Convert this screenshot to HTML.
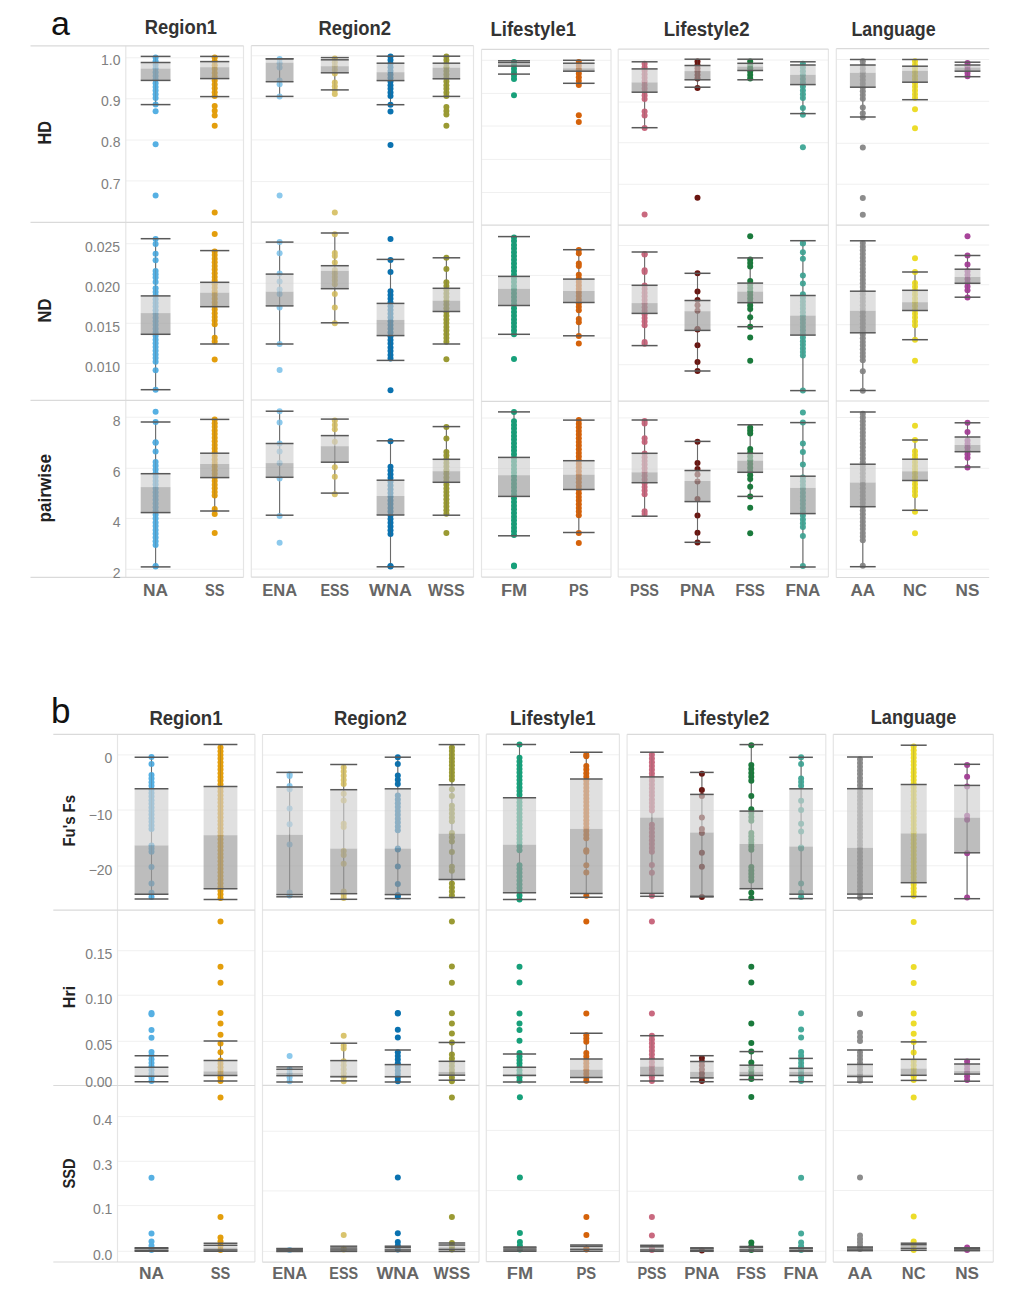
<!DOCTYPE html>
<html><head><meta charset="utf-8"><style>html,body{margin:0;padding:0;background:#fff;width:1020px;height:1308px;overflow:hidden}</style></head>
<body>
<svg width="1020" height="1308" viewBox="0 0 1020 1308" style="position:absolute;left:0;top:0">
<rect x="0" y="0" width="1020" height="1308" fill="#ffffff"/>
<line x1="125.8" y1="57.8" x2="243.5" y2="57.8" stroke="#F0F0F0" stroke-width="1"/>
<line x1="125.8" y1="98.8" x2="243.5" y2="98.8" stroke="#F0F0F0" stroke-width="1"/>
<line x1="125.8" y1="140.0" x2="243.5" y2="140.0" stroke="#F0F0F0" stroke-width="1"/>
<line x1="125.8" y1="180.9" x2="243.5" y2="180.9" stroke="#F0F0F0" stroke-width="1"/>
<line x1="251.3" y1="55.8" x2="473.5" y2="55.8" stroke="#F0F0F0" stroke-width="1"/>
<line x1="251.3" y1="98.2" x2="473.5" y2="98.2" stroke="#F0F0F0" stroke-width="1"/>
<line x1="251.3" y1="139.9" x2="473.5" y2="139.9" stroke="#F0F0F0" stroke-width="1"/>
<line x1="251.3" y1="181.6" x2="473.5" y2="181.6" stroke="#F0F0F0" stroke-width="1"/>
<line x1="481.5" y1="60.3" x2="611.0" y2="60.3" stroke="#F0F0F0" stroke-width="1"/>
<line x1="481.5" y1="93.4" x2="611.0" y2="93.4" stroke="#F0F0F0" stroke-width="1"/>
<line x1="481.5" y1="126.0" x2="611.0" y2="126.0" stroke="#F0F0F0" stroke-width="1"/>
<line x1="481.5" y1="159.4" x2="611.0" y2="159.4" stroke="#F0F0F0" stroke-width="1"/>
<line x1="481.5" y1="192.5" x2="611.0" y2="192.5" stroke="#F0F0F0" stroke-width="1"/>
<line x1="618.2" y1="60.0" x2="828.4" y2="60.0" stroke="#F0F0F0" stroke-width="1"/>
<line x1="618.2" y1="102.0" x2="828.4" y2="102.0" stroke="#F0F0F0" stroke-width="1"/>
<line x1="618.2" y1="142.7" x2="828.4" y2="142.7" stroke="#F0F0F0" stroke-width="1"/>
<line x1="618.2" y1="184.3" x2="828.4" y2="184.3" stroke="#F0F0F0" stroke-width="1"/>
<line x1="836.3" y1="59.5" x2="989.2" y2="59.5" stroke="#F0F0F0" stroke-width="1"/>
<line x1="836.3" y1="101.3" x2="989.2" y2="101.3" stroke="#F0F0F0" stroke-width="1"/>
<line x1="836.3" y1="143.3" x2="989.2" y2="143.3" stroke="#F0F0F0" stroke-width="1"/>
<line x1="836.3" y1="184.2" x2="989.2" y2="184.2" stroke="#F0F0F0" stroke-width="1"/>
<line x1="125.8" y1="243.7" x2="243.5" y2="243.7" stroke="#F0F0F0" stroke-width="1"/>
<line x1="125.8" y1="283.6" x2="243.5" y2="283.6" stroke="#F0F0F0" stroke-width="1"/>
<line x1="125.8" y1="323.3" x2="243.5" y2="323.3" stroke="#F0F0F0" stroke-width="1"/>
<line x1="125.8" y1="363.4" x2="243.5" y2="363.4" stroke="#F0F0F0" stroke-width="1"/>
<line x1="251.3" y1="243.2" x2="473.5" y2="243.2" stroke="#F0F0F0" stroke-width="1"/>
<line x1="251.3" y1="283.3" x2="473.5" y2="283.3" stroke="#F0F0F0" stroke-width="1"/>
<line x1="251.3" y1="323.7" x2="473.5" y2="323.7" stroke="#F0F0F0" stroke-width="1"/>
<line x1="251.3" y1="363.8" x2="473.5" y2="363.8" stroke="#F0F0F0" stroke-width="1"/>
<line x1="481.5" y1="275.4" x2="611.0" y2="275.4" stroke="#F0F0F0" stroke-width="1"/>
<line x1="481.5" y1="338.0" x2="611.0" y2="338.0" stroke="#F0F0F0" stroke-width="1"/>
<line x1="618.2" y1="245.5" x2="828.4" y2="245.5" stroke="#F0F0F0" stroke-width="1"/>
<line x1="618.2" y1="284.6" x2="828.4" y2="284.6" stroke="#F0F0F0" stroke-width="1"/>
<line x1="618.2" y1="324.9" x2="828.4" y2="324.9" stroke="#F0F0F0" stroke-width="1"/>
<line x1="618.2" y1="364.7" x2="828.4" y2="364.7" stroke="#F0F0F0" stroke-width="1"/>
<line x1="836.3" y1="245.0" x2="989.2" y2="245.0" stroke="#F0F0F0" stroke-width="1"/>
<line x1="836.3" y1="284.7" x2="989.2" y2="284.7" stroke="#F0F0F0" stroke-width="1"/>
<line x1="836.3" y1="324.7" x2="989.2" y2="324.7" stroke="#F0F0F0" stroke-width="1"/>
<line x1="836.3" y1="364.7" x2="989.2" y2="364.7" stroke="#F0F0F0" stroke-width="1"/>
<line x1="125.8" y1="417.2" x2="243.5" y2="417.2" stroke="#F0F0F0" stroke-width="1"/>
<line x1="125.8" y1="468.3" x2="243.5" y2="468.3" stroke="#F0F0F0" stroke-width="1"/>
<line x1="125.8" y1="518.4" x2="243.5" y2="518.4" stroke="#F0F0F0" stroke-width="1"/>
<line x1="125.8" y1="569.3" x2="243.5" y2="569.3" stroke="#F0F0F0" stroke-width="1"/>
<line x1="251.3" y1="416.9" x2="473.5" y2="416.9" stroke="#F0F0F0" stroke-width="1"/>
<line x1="251.3" y1="467.6" x2="473.5" y2="467.6" stroke="#F0F0F0" stroke-width="1"/>
<line x1="251.3" y1="518.3" x2="473.5" y2="518.3" stroke="#F0F0F0" stroke-width="1"/>
<line x1="251.3" y1="569.1" x2="473.5" y2="569.1" stroke="#F0F0F0" stroke-width="1"/>
<line x1="481.5" y1="418.0" x2="611.0" y2="418.0" stroke="#F0F0F0" stroke-width="1"/>
<line x1="481.5" y1="468.6" x2="611.0" y2="468.6" stroke="#F0F0F0" stroke-width="1"/>
<line x1="481.5" y1="518.2" x2="611.0" y2="518.2" stroke="#F0F0F0" stroke-width="1"/>
<line x1="481.5" y1="569.2" x2="611.0" y2="569.2" stroke="#F0F0F0" stroke-width="1"/>
<line x1="618.2" y1="417.9" x2="828.4" y2="417.9" stroke="#F0F0F0" stroke-width="1"/>
<line x1="618.2" y1="469.0" x2="828.4" y2="469.0" stroke="#F0F0F0" stroke-width="1"/>
<line x1="618.2" y1="518.6" x2="828.4" y2="518.6" stroke="#F0F0F0" stroke-width="1"/>
<line x1="618.2" y1="569.1" x2="828.4" y2="569.1" stroke="#F0F0F0" stroke-width="1"/>
<line x1="836.3" y1="417.5" x2="989.2" y2="417.5" stroke="#F0F0F0" stroke-width="1"/>
<line x1="836.3" y1="468.3" x2="989.2" y2="468.3" stroke="#F0F0F0" stroke-width="1"/>
<line x1="836.3" y1="518.7" x2="989.2" y2="518.7" stroke="#F0F0F0" stroke-width="1"/>
<line x1="836.3" y1="569.2" x2="989.2" y2="569.2" stroke="#F0F0F0" stroke-width="1"/>
<line x1="117.5" y1="754.9" x2="254.9" y2="754.9" stroke="#F0F0F0" stroke-width="1"/>
<line x1="117.5" y1="810.0" x2="254.9" y2="810.0" stroke="#F0F0F0" stroke-width="1"/>
<line x1="117.5" y1="866.0" x2="254.9" y2="866.0" stroke="#F0F0F0" stroke-width="1"/>
<line x1="262.5" y1="755.0" x2="479.0" y2="755.0" stroke="#F0F0F0" stroke-width="1"/>
<line x1="262.5" y1="810.7" x2="479.0" y2="810.7" stroke="#F0F0F0" stroke-width="1"/>
<line x1="262.5" y1="865.9" x2="479.0" y2="865.9" stroke="#F0F0F0" stroke-width="1"/>
<line x1="486.3" y1="754.8" x2="619.4" y2="754.8" stroke="#F0F0F0" stroke-width="1"/>
<line x1="486.3" y1="810.7" x2="619.4" y2="810.7" stroke="#F0F0F0" stroke-width="1"/>
<line x1="486.3" y1="865.9" x2="619.4" y2="865.9" stroke="#F0F0F0" stroke-width="1"/>
<line x1="627.1" y1="754.9" x2="825.8" y2="754.9" stroke="#F0F0F0" stroke-width="1"/>
<line x1="627.1" y1="810.4" x2="825.8" y2="810.4" stroke="#F0F0F0" stroke-width="1"/>
<line x1="627.1" y1="866.0" x2="825.8" y2="866.0" stroke="#F0F0F0" stroke-width="1"/>
<line x1="833.3" y1="755.0" x2="993.3" y2="755.0" stroke="#F0F0F0" stroke-width="1"/>
<line x1="833.3" y1="811.0" x2="993.3" y2="811.0" stroke="#F0F0F0" stroke-width="1"/>
<line x1="833.3" y1="865.8" x2="993.3" y2="865.8" stroke="#F0F0F0" stroke-width="1"/>
<line x1="117.5" y1="950.7" x2="254.9" y2="950.7" stroke="#F0F0F0" stroke-width="1"/>
<line x1="117.5" y1="995.2" x2="254.9" y2="995.2" stroke="#F0F0F0" stroke-width="1"/>
<line x1="117.5" y1="1041.3" x2="254.9" y2="1041.3" stroke="#F0F0F0" stroke-width="1"/>
<line x1="262.5" y1="951.2" x2="479.0" y2="951.2" stroke="#F0F0F0" stroke-width="1"/>
<line x1="262.5" y1="995.6" x2="479.0" y2="995.6" stroke="#F0F0F0" stroke-width="1"/>
<line x1="262.5" y1="1041.4" x2="479.0" y2="1041.4" stroke="#F0F0F0" stroke-width="1"/>
<line x1="486.3" y1="951.3" x2="619.4" y2="951.3" stroke="#F0F0F0" stroke-width="1"/>
<line x1="486.3" y1="995.4" x2="619.4" y2="995.4" stroke="#F0F0F0" stroke-width="1"/>
<line x1="486.3" y1="1041.5" x2="619.4" y2="1041.5" stroke="#F0F0F0" stroke-width="1"/>
<line x1="627.1" y1="951.3" x2="825.8" y2="951.3" stroke="#F0F0F0" stroke-width="1"/>
<line x1="627.1" y1="995.6" x2="825.8" y2="995.6" stroke="#F0F0F0" stroke-width="1"/>
<line x1="627.1" y1="1041.3" x2="825.8" y2="1041.3" stroke="#F0F0F0" stroke-width="1"/>
<line x1="833.3" y1="950.9" x2="993.3" y2="950.9" stroke="#F0F0F0" stroke-width="1"/>
<line x1="833.3" y1="995.6" x2="993.3" y2="995.6" stroke="#F0F0F0" stroke-width="1"/>
<line x1="833.3" y1="1041.3" x2="993.3" y2="1041.3" stroke="#F0F0F0" stroke-width="1"/>
<line x1="117.5" y1="1116.6" x2="254.9" y2="1116.6" stroke="#F0F0F0" stroke-width="1"/>
<line x1="117.5" y1="1161.3" x2="254.9" y2="1161.3" stroke="#F0F0F0" stroke-width="1"/>
<line x1="117.5" y1="1205.6" x2="254.9" y2="1205.6" stroke="#F0F0F0" stroke-width="1"/>
<line x1="117.5" y1="1251.3" x2="254.9" y2="1251.3" stroke="#F0F0F0" stroke-width="1"/>
<line x1="262.5" y1="1131.2" x2="479.0" y2="1131.2" stroke="#F0F0F0" stroke-width="1"/>
<line x1="262.5" y1="1190.9" x2="479.0" y2="1190.9" stroke="#F0F0F0" stroke-width="1"/>
<line x1="262.5" y1="1251.4" x2="479.0" y2="1251.4" stroke="#F0F0F0" stroke-width="1"/>
<line x1="486.3" y1="1130.4" x2="619.4" y2="1130.4" stroke="#F0F0F0" stroke-width="1"/>
<line x1="486.3" y1="1190.6" x2="619.4" y2="1190.6" stroke="#F0F0F0" stroke-width="1"/>
<line x1="486.3" y1="1251.5" x2="619.4" y2="1251.5" stroke="#F0F0F0" stroke-width="1"/>
<line x1="627.1" y1="1130.4" x2="825.8" y2="1130.4" stroke="#F0F0F0" stroke-width="1"/>
<line x1="627.1" y1="1191.2" x2="825.8" y2="1191.2" stroke="#F0F0F0" stroke-width="1"/>
<line x1="627.1" y1="1251.3" x2="825.8" y2="1251.3" stroke="#F0F0F0" stroke-width="1"/>
<line x1="833.3" y1="1130.6" x2="993.3" y2="1130.6" stroke="#F0F0F0" stroke-width="1"/>
<line x1="833.3" y1="1190.5" x2="993.3" y2="1190.5" stroke="#F0F0F0" stroke-width="1"/>
<line x1="833.3" y1="1250.7" x2="993.3" y2="1250.7" stroke="#F0F0F0" stroke-width="1"/>
<line x1="125.8" y1="45.8" x2="125.8" y2="577.3" stroke="#E5E5E5" stroke-width="1.2"/>
<line x1="243.5" y1="45.8" x2="243.5" y2="577.3" stroke="#E5E5E5" stroke-width="1.2"/>
<line x1="30.5" y1="45.8" x2="243.5" y2="45.8" stroke="#DADADA" stroke-width="1.2"/>
<line x1="30.5" y1="222.3" x2="243.5" y2="222.3" stroke="#DADADA" stroke-width="1.2"/>
<line x1="30.5" y1="400.3" x2="243.5" y2="400.3" stroke="#DADADA" stroke-width="1.2"/>
<line x1="30.5" y1="577.3" x2="243.5" y2="577.3" stroke="#DADADA" stroke-width="1.2"/>
<line x1="251.3" y1="45.7" x2="251.3" y2="577.2" stroke="#E5E5E5" stroke-width="1.2"/>
<line x1="473.5" y1="45.7" x2="473.5" y2="577.2" stroke="#E5E5E5" stroke-width="1.2"/>
<line x1="251.3" y1="45.7" x2="473.5" y2="45.7" stroke="#DADADA" stroke-width="1.2"/>
<line x1="251.3" y1="222.2" x2="473.5" y2="222.2" stroke="#DADADA" stroke-width="1.2"/>
<line x1="251.3" y1="400.0" x2="473.5" y2="400.0" stroke="#DADADA" stroke-width="1.2"/>
<line x1="251.3" y1="577.2" x2="473.5" y2="577.2" stroke="#DADADA" stroke-width="1.2"/>
<line x1="481.5" y1="49.4" x2="481.5" y2="577.1" stroke="#E5E5E5" stroke-width="1.2"/>
<line x1="611.0" y1="49.4" x2="611.0" y2="577.1" stroke="#E5E5E5" stroke-width="1.2"/>
<line x1="481.5" y1="49.4" x2="611.0" y2="49.4" stroke="#DADADA" stroke-width="1.2"/>
<line x1="481.5" y1="225.1" x2="611.0" y2="225.1" stroke="#DADADA" stroke-width="1.2"/>
<line x1="481.5" y1="401.3" x2="611.0" y2="401.3" stroke="#DADADA" stroke-width="1.2"/>
<line x1="481.5" y1="577.1" x2="611.0" y2="577.1" stroke="#DADADA" stroke-width="1.2"/>
<line x1="618.2" y1="49.1" x2="618.2" y2="577.0" stroke="#E5E5E5" stroke-width="1.2"/>
<line x1="828.4" y1="49.1" x2="828.4" y2="577.0" stroke="#E5E5E5" stroke-width="1.2"/>
<line x1="618.2" y1="49.1" x2="828.4" y2="49.1" stroke="#DADADA" stroke-width="1.2"/>
<line x1="618.2" y1="225.1" x2="828.4" y2="225.1" stroke="#DADADA" stroke-width="1.2"/>
<line x1="618.2" y1="401.2" x2="828.4" y2="401.2" stroke="#DADADA" stroke-width="1.2"/>
<line x1="618.2" y1="577.0" x2="828.4" y2="577.0" stroke="#DADADA" stroke-width="1.2"/>
<line x1="836.3" y1="48.7" x2="836.3" y2="577.5" stroke="#E5E5E5" stroke-width="1.2"/>
<line x1="836.3" y1="48.7" x2="989.2" y2="48.7" stroke="#DADADA" stroke-width="1.2"/>
<line x1="836.3" y1="225.1" x2="989.2" y2="225.1" stroke="#DADADA" stroke-width="1.2"/>
<line x1="836.3" y1="401.0" x2="989.2" y2="401.0" stroke="#DADADA" stroke-width="1.2"/>
<line x1="836.3" y1="577.5" x2="989.2" y2="577.5" stroke="#DADADA" stroke-width="1.2"/>
<line x1="117.5" y1="734.3" x2="117.5" y2="1262.0" stroke="#E5E5E5" stroke-width="1.2"/>
<line x1="254.9" y1="734.3" x2="254.9" y2="1262.0" stroke="#E5E5E5" stroke-width="1.2"/>
<line x1="53.3" y1="734.3" x2="254.9" y2="734.3" stroke="#DADADA" stroke-width="1.2"/>
<line x1="53.3" y1="910.2" x2="254.9" y2="910.2" stroke="#DADADA" stroke-width="1.2"/>
<line x1="53.3" y1="1085.5" x2="254.9" y2="1085.5" stroke="#DADADA" stroke-width="1.2"/>
<line x1="53.3" y1="1262.0" x2="254.9" y2="1262.0" stroke="#DADADA" stroke-width="1.2"/>
<line x1="262.5" y1="734.5" x2="262.5" y2="1262.2" stroke="#E5E5E5" stroke-width="1.2"/>
<line x1="479.0" y1="734.5" x2="479.0" y2="1262.2" stroke="#E5E5E5" stroke-width="1.2"/>
<line x1="262.5" y1="734.5" x2="479.0" y2="734.5" stroke="#DADADA" stroke-width="1.2"/>
<line x1="262.5" y1="910.0" x2="479.0" y2="910.0" stroke="#DADADA" stroke-width="1.2"/>
<line x1="262.5" y1="1085.4" x2="479.0" y2="1085.4" stroke="#DADADA" stroke-width="1.2"/>
<line x1="262.5" y1="1262.2" x2="479.0" y2="1262.2" stroke="#DADADA" stroke-width="1.2"/>
<line x1="486.3" y1="734.2" x2="486.3" y2="1261.7" stroke="#E5E5E5" stroke-width="1.2"/>
<line x1="619.4" y1="734.2" x2="619.4" y2="1261.7" stroke="#E5E5E5" stroke-width="1.2"/>
<line x1="486.3" y1="734.2" x2="619.4" y2="734.2" stroke="#DADADA" stroke-width="1.2"/>
<line x1="486.3" y1="910.0" x2="619.4" y2="910.0" stroke="#DADADA" stroke-width="1.2"/>
<line x1="486.3" y1="1085.6" x2="619.4" y2="1085.6" stroke="#DADADA" stroke-width="1.2"/>
<line x1="486.3" y1="1261.7" x2="619.4" y2="1261.7" stroke="#DADADA" stroke-width="1.2"/>
<line x1="627.1" y1="734.3" x2="627.1" y2="1262.2" stroke="#E5E5E5" stroke-width="1.2"/>
<line x1="825.8" y1="734.3" x2="825.8" y2="1262.2" stroke="#E5E5E5" stroke-width="1.2"/>
<line x1="627.1" y1="734.3" x2="825.8" y2="734.3" stroke="#DADADA" stroke-width="1.2"/>
<line x1="627.1" y1="910.0" x2="825.8" y2="910.0" stroke="#DADADA" stroke-width="1.2"/>
<line x1="627.1" y1="1085.6" x2="825.8" y2="1085.6" stroke="#DADADA" stroke-width="1.2"/>
<line x1="627.1" y1="1262.2" x2="825.8" y2="1262.2" stroke="#DADADA" stroke-width="1.2"/>
<line x1="833.3" y1="734.3" x2="833.3" y2="1262.1" stroke="#E5E5E5" stroke-width="1.2"/>
<line x1="993.3" y1="734.3" x2="993.3" y2="1262.1" stroke="#E5E5E5" stroke-width="1.2"/>
<line x1="833.3" y1="734.3" x2="993.3" y2="734.3" stroke="#DADADA" stroke-width="1.2"/>
<line x1="833.3" y1="910.3" x2="993.3" y2="910.3" stroke="#DADADA" stroke-width="1.2"/>
<line x1="833.3" y1="1085.4" x2="993.3" y2="1085.4" stroke="#DADADA" stroke-width="1.2"/>
<line x1="833.3" y1="1262.1" x2="993.3" y2="1262.1" stroke="#DADADA" stroke-width="1.2"/>
<line x1="155.6" y1="56.4" x2="155.6" y2="104.6" stroke="#595959" stroke-width="1.1" stroke-opacity="0.85"/>
<g fill="#56B0E3"><circle cx="155.6" cy="57.5" r="3.0"/><circle cx="155.6" cy="61.2" r="3.0"/><circle cx="155.6" cy="64.9" r="3.0"/><circle cx="155.6" cy="68.5" r="3.0"/><circle cx="155.6" cy="72.2" r="3.0"/><circle cx="155.6" cy="75.9" r="3.0"/><circle cx="155.6" cy="79.6" r="3.0"/><circle cx="155.6" cy="83.3" r="3.0"/><circle cx="155.6" cy="87.0" r="3.0"/><circle cx="155.6" cy="90.6" r="3.0"/><circle cx="155.6" cy="94.3" r="3.0"/><circle cx="155.6" cy="98.0" r="3.0"/><circle cx="155.6" cy="104.6" r="3.0"/><circle cx="155.6" cy="111.2" r="3.0"/><circle cx="155.6" cy="144.3" r="3.0"/><circle cx="155.6" cy="195.4" r="3.0"/></g>
<line x1="155.6" y1="56.4" x2="155.6" y2="104.6" stroke="#595959" stroke-width="1" stroke-opacity="0.28"/>
<rect x="140.7" y="62.5" width="29.8" height="6.1" fill="#D0D0D0" fill-opacity="0.66"/>
<rect x="140.7" y="68.6" width="29.8" height="11.8" fill="#9D9D9D" fill-opacity="0.675"/>
<line x1="140.7" y1="56.4" x2="170.5" y2="56.4" stroke="#595959" stroke-width="1.5"/>
<line x1="140.7" y1="62.5" x2="170.5" y2="62.5" stroke="#595959" stroke-width="1.5"/>
<line x1="140.7" y1="80.4" x2="170.5" y2="80.4" stroke="#595959" stroke-width="1.5"/>
<line x1="140.7" y1="104.6" x2="170.5" y2="104.6" stroke="#595959" stroke-width="1.5"/>
<line x1="214.7" y1="56.4" x2="214.7" y2="96.6" stroke="#595959" stroke-width="1.1" stroke-opacity="0.85"/>
<g fill="#E39E0C"><circle cx="214.7" cy="57.5" r="3.0"/><circle cx="214.7" cy="61.4" r="3.0"/><circle cx="214.7" cy="65.2" r="3.0"/><circle cx="214.7" cy="69.0" r="3.0"/><circle cx="214.7" cy="72.9" r="3.0"/><circle cx="214.7" cy="76.8" r="3.0"/><circle cx="214.7" cy="80.6" r="3.0"/><circle cx="214.7" cy="84.5" r="3.0"/><circle cx="214.7" cy="88.3" r="3.0"/><circle cx="214.7" cy="92.2" r="3.0"/><circle cx="214.7" cy="96.0" r="3.0"/><circle cx="214.7" cy="106.1" r="3.0"/><circle cx="214.7" cy="110.7" r="3.0"/><circle cx="214.7" cy="115.5" r="3.0"/><circle cx="214.7" cy="125.7" r="3.0"/><circle cx="214.7" cy="212.4" r="3.0"/></g>
<line x1="214.7" y1="56.4" x2="214.7" y2="96.6" stroke="#595959" stroke-width="1" stroke-opacity="0.28"/>
<rect x="200.1" y="61.6" width="29.2" height="5.6" fill="#D0D0D0" fill-opacity="0.66"/>
<rect x="200.1" y="67.2" width="29.2" height="11.4" fill="#9D9D9D" fill-opacity="0.675"/>
<line x1="200.1" y1="56.4" x2="229.3" y2="56.4" stroke="#595959" stroke-width="1.5"/>
<line x1="200.1" y1="61.6" x2="229.3" y2="61.6" stroke="#595959" stroke-width="1.5"/>
<line x1="200.1" y1="78.6" x2="229.3" y2="78.6" stroke="#595959" stroke-width="1.5"/>
<line x1="200.1" y1="96.6" x2="229.3" y2="96.6" stroke="#595959" stroke-width="1.5"/>
<line x1="279.6" y1="58.8" x2="279.6" y2="96.4" stroke="#595959" stroke-width="1.1" stroke-opacity="0.85"/>
<g fill="#8CC9EC"><circle cx="279.6" cy="58.9" r="3.0"/><circle cx="279.6" cy="63.2" r="3.0"/><circle cx="279.6" cy="67.6" r="3.0"/><circle cx="279.6" cy="80.5" r="3.0"/><circle cx="279.6" cy="84.3" r="3.0"/><circle cx="279.6" cy="96.4" r="3.0"/><circle cx="279.6" cy="195.6" r="3.0"/></g>
<line x1="279.6" y1="58.8" x2="279.6" y2="96.4" stroke="#595959" stroke-width="1" stroke-opacity="0.28"/>
<rect x="265.7" y="58.8" width="27.8" height="3.9" fill="#D0D0D0" fill-opacity="0.66"/>
<rect x="265.7" y="62.7" width="27.8" height="19.0" fill="#9D9D9D" fill-opacity="0.675"/>
<line x1="265.7" y1="58.8" x2="293.5" y2="58.8" stroke="#595959" stroke-width="1.5"/>
<line x1="265.7" y1="58.8" x2="293.5" y2="58.8" stroke="#595959" stroke-width="1.5"/>
<line x1="265.7" y1="81.7" x2="293.5" y2="81.7" stroke="#595959" stroke-width="1.5"/>
<line x1="265.7" y1="96.4" x2="293.5" y2="96.4" stroke="#595959" stroke-width="1.5"/>
<line x1="334.8" y1="57.6" x2="334.8" y2="89.9" stroke="#595959" stroke-width="1.1" stroke-opacity="0.85"/>
<g fill="#D9C46E"><circle cx="334.8" cy="58.4" r="3.0"/><circle cx="334.8" cy="62.2" r="3.0"/><circle cx="334.8" cy="66.0" r="3.0"/><circle cx="334.8" cy="69.7" r="3.0"/><circle cx="334.8" cy="73.5" r="3.0"/><circle cx="334.8" cy="82.4" r="3.0"/><circle cx="334.8" cy="86.3" r="3.0"/><circle cx="334.8" cy="90.1" r="3.0"/><circle cx="334.8" cy="94.0" r="3.0"/><circle cx="334.8" cy="212.5" r="3.0"/></g>
<line x1="334.8" y1="57.6" x2="334.8" y2="89.9" stroke="#595959" stroke-width="1" stroke-opacity="0.28"/>
<rect x="320.8" y="59.8" width="28.0" height="6.4" fill="#D0D0D0" fill-opacity="0.66"/>
<rect x="320.8" y="66.2" width="28.0" height="6.6" fill="#9D9D9D" fill-opacity="0.675"/>
<line x1="320.8" y1="57.6" x2="348.8" y2="57.6" stroke="#595959" stroke-width="1.5"/>
<line x1="320.8" y1="59.8" x2="348.8" y2="59.8" stroke="#595959" stroke-width="1.5"/>
<line x1="320.8" y1="72.8" x2="348.8" y2="72.8" stroke="#595959" stroke-width="1.5"/>
<line x1="320.8" y1="89.9" x2="348.8" y2="89.9" stroke="#595959" stroke-width="1.5"/>
<line x1="390.5" y1="56.2" x2="390.5" y2="104.7" stroke="#595959" stroke-width="1.1" stroke-opacity="0.85"/>
<g fill="#0A72B0"><circle cx="390.5" cy="56.5" r="3.0"/><circle cx="390.5" cy="60.1" r="3.0"/><circle cx="390.5" cy="63.7" r="3.0"/><circle cx="390.5" cy="67.3" r="3.0"/><circle cx="390.5" cy="70.9" r="3.0"/><circle cx="390.5" cy="74.5" r="3.0"/><circle cx="390.5" cy="78.0" r="3.0"/><circle cx="390.5" cy="81.6" r="3.0"/><circle cx="390.5" cy="85.2" r="3.0"/><circle cx="390.5" cy="88.8" r="3.0"/><circle cx="390.5" cy="92.4" r="3.0"/><circle cx="390.5" cy="96.0" r="3.0"/><circle cx="390.5" cy="104.7" r="3.0"/><circle cx="390.5" cy="111.5" r="3.0"/><circle cx="390.5" cy="144.9" r="3.0"/></g>
<line x1="390.5" y1="56.2" x2="390.5" y2="104.7" stroke="#595959" stroke-width="1" stroke-opacity="0.28"/>
<rect x="376.6" y="63.2" width="27.8" height="9.0" fill="#D0D0D0" fill-opacity="0.66"/>
<rect x="376.6" y="72.2" width="27.8" height="8.4" fill="#9D9D9D" fill-opacity="0.675"/>
<line x1="376.6" y1="56.2" x2="404.4" y2="56.2" stroke="#595959" stroke-width="1.5"/>
<line x1="376.6" y1="63.2" x2="404.4" y2="63.2" stroke="#595959" stroke-width="1.5"/>
<line x1="376.6" y1="80.6" x2="404.4" y2="80.6" stroke="#595959" stroke-width="1.5"/>
<line x1="376.6" y1="104.7" x2="404.4" y2="104.7" stroke="#595959" stroke-width="1.5"/>
<line x1="446.4" y1="56.2" x2="446.4" y2="96.4" stroke="#595959" stroke-width="1.1" stroke-opacity="0.85"/>
<g fill="#9A9A33"><circle cx="446.4" cy="56.5" r="3.0"/><circle cx="446.4" cy="60.1" r="3.0"/><circle cx="446.4" cy="63.7" r="3.0"/><circle cx="446.4" cy="67.3" r="3.0"/><circle cx="446.4" cy="70.9" r="3.0"/><circle cx="446.4" cy="74.5" r="3.0"/><circle cx="446.4" cy="78.0" r="3.0"/><circle cx="446.4" cy="81.6" r="3.0"/><circle cx="446.4" cy="85.2" r="3.0"/><circle cx="446.4" cy="88.8" r="3.0"/><circle cx="446.4" cy="92.4" r="3.0"/><circle cx="446.4" cy="96.0" r="3.0"/><circle cx="446.4" cy="107.0" r="3.0"/><circle cx="446.4" cy="111.0" r="3.0"/><circle cx="446.4" cy="114.4" r="3.0"/><circle cx="446.4" cy="125.7" r="3.0"/></g>
<line x1="446.4" y1="56.2" x2="446.4" y2="96.4" stroke="#595959" stroke-width="1" stroke-opacity="0.28"/>
<rect x="432.6" y="63.2" width="27.6" height="4.5" fill="#D0D0D0" fill-opacity="0.66"/>
<rect x="432.6" y="67.7" width="27.6" height="11.1" fill="#9D9D9D" fill-opacity="0.675"/>
<line x1="432.6" y1="56.2" x2="460.2" y2="56.2" stroke="#595959" stroke-width="1.5"/>
<line x1="432.6" y1="63.2" x2="460.2" y2="63.2" stroke="#595959" stroke-width="1.5"/>
<line x1="432.6" y1="78.8" x2="460.2" y2="78.8" stroke="#595959" stroke-width="1.5"/>
<line x1="432.6" y1="96.4" x2="460.2" y2="96.4" stroke="#595959" stroke-width="1.5"/>
<line x1="514.0" y1="60.8" x2="514.0" y2="74.1" stroke="#595959" stroke-width="1.1" stroke-opacity="0.85"/>
<g fill="#17A07A"><circle cx="514.0" cy="61.9" r="3.0"/><circle cx="514.0" cy="65.3" r="3.0"/><circle cx="514.0" cy="68.8" r="3.0"/><circle cx="514.0" cy="72.2" r="3.0"/><circle cx="514.0" cy="75.7" r="3.0"/><circle cx="514.0" cy="79.1" r="3.0"/><circle cx="514.0" cy="95.2" r="3.0"/></g>
<line x1="514.0" y1="60.8" x2="514.0" y2="74.1" stroke="#595959" stroke-width="1" stroke-opacity="0.28"/>
<rect x="498.0" y="62.5" width="32.0" height="1.5" fill="#D0D0D0" fill-opacity="0.66"/>
<rect x="498.0" y="64.0" width="32.0" height="2.1" fill="#9D9D9D" fill-opacity="0.675"/>
<line x1="498.0" y1="60.8" x2="530.0" y2="60.8" stroke="#595959" stroke-width="1.5"/>
<line x1="498.0" y1="62.5" x2="530.0" y2="62.5" stroke="#595959" stroke-width="1.5"/>
<line x1="498.0" y1="66.1" x2="530.0" y2="66.1" stroke="#595959" stroke-width="1.5"/>
<line x1="498.0" y1="74.1" x2="530.0" y2="74.1" stroke="#595959" stroke-width="1.5"/>
<line x1="578.8" y1="60.3" x2="578.8" y2="83.3" stroke="#595959" stroke-width="1.1" stroke-opacity="0.85"/>
<g fill="#D5620A"><circle cx="578.8" cy="61.9" r="3.0"/><circle cx="578.8" cy="65.7" r="3.0"/><circle cx="578.8" cy="69.6" r="3.0"/><circle cx="578.8" cy="73.4" r="3.0"/><circle cx="578.8" cy="77.2" r="3.0"/><circle cx="578.8" cy="81.1" r="3.0"/><circle cx="578.8" cy="84.9" r="3.0"/><circle cx="578.8" cy="115.2" r="3.0"/><circle cx="578.8" cy="122.0" r="3.0"/></g>
<line x1="578.8" y1="60.3" x2="578.8" y2="83.3" stroke="#595959" stroke-width="1" stroke-opacity="0.28"/>
<rect x="563.0" y="63.2" width="31.6" height="5.1" fill="#D0D0D0" fill-opacity="0.66"/>
<rect x="563.0" y="68.3" width="31.6" height="2.9" fill="#9D9D9D" fill-opacity="0.675"/>
<line x1="563.0" y1="60.3" x2="594.6" y2="60.3" stroke="#595959" stroke-width="1.5"/>
<line x1="563.0" y1="63.2" x2="594.6" y2="63.2" stroke="#595959" stroke-width="1.5"/>
<line x1="563.0" y1="71.2" x2="594.6" y2="71.2" stroke="#595959" stroke-width="1.5"/>
<line x1="563.0" y1="83.3" x2="594.6" y2="83.3" stroke="#595959" stroke-width="1.5"/>
<line x1="644.6" y1="61.8" x2="644.6" y2="127.7" stroke="#595959" stroke-width="1.1" stroke-opacity="0.85"/>
<g fill="#C9697F"><circle cx="644.6" cy="63.7" r="3.0"/><circle cx="644.6" cy="67.2" r="3.0"/><circle cx="644.6" cy="70.8" r="3.0"/><circle cx="644.6" cy="74.3" r="3.0"/><circle cx="644.6" cy="77.8" r="3.0"/><circle cx="644.6" cy="81.3" r="3.0"/><circle cx="644.6" cy="84.9" r="3.0"/><circle cx="644.6" cy="88.4" r="3.0"/><circle cx="644.6" cy="91.9" r="3.0"/><circle cx="644.6" cy="95.5" r="3.0"/><circle cx="644.6" cy="99.0" r="3.0"/><circle cx="644.6" cy="111.6" r="3.0"/><circle cx="644.6" cy="115.4" r="3.0"/><circle cx="644.6" cy="128.1" r="3.0"/><circle cx="644.6" cy="214.6" r="3.0"/></g>
<line x1="644.6" y1="61.8" x2="644.6" y2="127.7" stroke="#595959" stroke-width="1" stroke-opacity="0.28"/>
<rect x="631.6" y="68.9" width="26.0" height="13.5" fill="#D0D0D0" fill-opacity="0.66"/>
<rect x="631.6" y="82.4" width="26.0" height="9.8" fill="#9D9D9D" fill-opacity="0.675"/>
<line x1="631.6" y1="61.8" x2="657.6" y2="61.8" stroke="#595959" stroke-width="1.5"/>
<line x1="631.6" y1="68.9" x2="657.6" y2="68.9" stroke="#595959" stroke-width="1.5"/>
<line x1="631.6" y1="92.2" x2="657.6" y2="92.2" stroke="#595959" stroke-width="1.5"/>
<line x1="631.6" y1="127.7" x2="657.6" y2="127.7" stroke="#595959" stroke-width="1.5"/>
<line x1="697.5" y1="59.2" x2="697.5" y2="87.2" stroke="#595959" stroke-width="1.1" stroke-opacity="0.85"/>
<g fill="#6A1510"><circle cx="697.5" cy="61.5" r="3.0"/><circle cx="697.5" cy="64.9" r="3.0"/><circle cx="697.5" cy="68.3" r="3.0"/><circle cx="697.5" cy="71.6" r="3.0"/><circle cx="697.5" cy="75.0" r="3.0"/><circle cx="697.5" cy="78.4" r="3.0"/><circle cx="697.5" cy="87.9" r="3.0"/><circle cx="697.5" cy="197.8" r="3.0"/></g>
<line x1="697.5" y1="59.2" x2="697.5" y2="87.2" stroke="#595959" stroke-width="1" stroke-opacity="0.28"/>
<rect x="684.5" y="65.5" width="26.0" height="5.6" fill="#D0D0D0" fill-opacity="0.66"/>
<rect x="684.5" y="71.1" width="26.0" height="8.7" fill="#9D9D9D" fill-opacity="0.675"/>
<line x1="684.5" y1="59.2" x2="710.5" y2="59.2" stroke="#595959" stroke-width="1.5"/>
<line x1="684.5" y1="65.5" x2="710.5" y2="65.5" stroke="#595959" stroke-width="1.5"/>
<line x1="684.5" y1="79.8" x2="710.5" y2="79.8" stroke="#595959" stroke-width="1.5"/>
<line x1="684.5" y1="87.2" x2="710.5" y2="87.2" stroke="#595959" stroke-width="1.5"/>
<line x1="750.2" y1="59.2" x2="750.2" y2="79.8" stroke="#595959" stroke-width="1.1" stroke-opacity="0.85"/>
<g fill="#1A7A3C"><circle cx="750.2" cy="61.5" r="3.0"/><circle cx="750.2" cy="64.9" r="3.0"/><circle cx="750.2" cy="68.3" r="3.0"/><circle cx="750.2" cy="71.6" r="3.0"/><circle cx="750.2" cy="75.0" r="3.0"/><circle cx="750.2" cy="78.4" r="3.0"/></g>
<line x1="750.2" y1="59.2" x2="750.2" y2="79.8" stroke="#595959" stroke-width="1" stroke-opacity="0.28"/>
<rect x="737.3" y="63.3" width="25.8" height="3.3" fill="#D0D0D0" fill-opacity="0.66"/>
<rect x="737.3" y="66.6" width="25.8" height="3.9" fill="#9D9D9D" fill-opacity="0.675"/>
<line x1="737.3" y1="59.2" x2="763.1" y2="59.2" stroke="#595959" stroke-width="1.5"/>
<line x1="737.3" y1="63.3" x2="763.1" y2="63.3" stroke="#595959" stroke-width="1.5"/>
<line x1="737.3" y1="70.5" x2="763.1" y2="70.5" stroke="#595959" stroke-width="1.5"/>
<line x1="737.3" y1="79.8" x2="763.1" y2="79.8" stroke="#595959" stroke-width="1.5"/>
<line x1="802.9" y1="61.8" x2="802.9" y2="113.6" stroke="#595959" stroke-width="1.1" stroke-opacity="0.85"/>
<g fill="#47AA9A"><circle cx="802.9" cy="63.7" r="3.0"/><circle cx="802.9" cy="67.5" r="3.0"/><circle cx="802.9" cy="71.3" r="3.0"/><circle cx="802.9" cy="75.1" r="3.0"/><circle cx="802.9" cy="78.9" r="3.0"/><circle cx="802.9" cy="82.8" r="3.0"/><circle cx="802.9" cy="86.6" r="3.0"/><circle cx="802.9" cy="90.4" r="3.0"/><circle cx="802.9" cy="94.2" r="3.0"/><circle cx="802.9" cy="98.0" r="3.0"/><circle cx="802.9" cy="107.9" r="3.0"/><circle cx="802.9" cy="114.7" r="3.0"/><circle cx="802.9" cy="147.3" r="3.0"/></g>
<line x1="802.9" y1="61.8" x2="802.9" y2="113.6" stroke="#595959" stroke-width="1" stroke-opacity="0.28"/>
<rect x="790.1" y="65.0" width="25.6" height="9.8" fill="#D0D0D0" fill-opacity="0.66"/>
<rect x="790.1" y="74.8" width="25.6" height="9.8" fill="#9D9D9D" fill-opacity="0.675"/>
<line x1="790.1" y1="61.8" x2="815.7" y2="61.8" stroke="#595959" stroke-width="1.5"/>
<line x1="790.1" y1="65.0" x2="815.7" y2="65.0" stroke="#595959" stroke-width="1.5"/>
<line x1="790.1" y1="84.6" x2="815.7" y2="84.6" stroke="#595959" stroke-width="1.5"/>
<line x1="790.1" y1="113.6" x2="815.7" y2="113.6" stroke="#595959" stroke-width="1.5"/>
<line x1="862.8" y1="59.5" x2="862.8" y2="117.0" stroke="#595959" stroke-width="1.1" stroke-opacity="0.85"/>
<g fill="#8C8C8C"><circle cx="862.8" cy="61.3" r="3.0"/><circle cx="862.8" cy="65.0" r="3.0"/><circle cx="862.8" cy="68.8" r="3.0"/><circle cx="862.8" cy="72.5" r="3.0"/><circle cx="862.8" cy="76.3" r="3.0"/><circle cx="862.8" cy="80.0" r="3.0"/><circle cx="862.8" cy="83.7" r="3.0"/><circle cx="862.8" cy="87.5" r="3.0"/><circle cx="862.8" cy="91.2" r="3.0"/><circle cx="862.8" cy="95.0" r="3.0"/><circle cx="862.8" cy="98.7" r="3.0"/><circle cx="862.8" cy="107.5" r="3.0"/><circle cx="862.8" cy="113.3" r="3.0"/><circle cx="862.8" cy="117.5" r="3.0"/><circle cx="862.8" cy="147.5" r="3.0"/><circle cx="862.8" cy="198.0" r="3.0"/><circle cx="862.8" cy="214.7" r="3.0"/></g>
<line x1="862.8" y1="59.5" x2="862.8" y2="117.0" stroke="#595959" stroke-width="1" stroke-opacity="0.28"/>
<rect x="849.9" y="65.0" width="25.8" height="7.8" fill="#D0D0D0" fill-opacity="0.66"/>
<rect x="849.9" y="72.8" width="25.8" height="14.4" fill="#9D9D9D" fill-opacity="0.675"/>
<line x1="849.9" y1="59.5" x2="875.7" y2="59.5" stroke="#595959" stroke-width="1.5"/>
<line x1="849.9" y1="65.0" x2="875.7" y2="65.0" stroke="#595959" stroke-width="1.5"/>
<line x1="849.9" y1="87.2" x2="875.7" y2="87.2" stroke="#595959" stroke-width="1.5"/>
<line x1="849.9" y1="117.0" x2="875.7" y2="117.0" stroke="#595959" stroke-width="1.5"/>
<line x1="915.0" y1="59.5" x2="915.0" y2="99.7" stroke="#595959" stroke-width="1.1" stroke-opacity="0.85"/>
<g fill="#ECDC2A"><circle cx="915.0" cy="61.3" r="3.0"/><circle cx="915.0" cy="65.0" r="3.0"/><circle cx="915.0" cy="68.6" r="3.0"/><circle cx="915.0" cy="72.2" r="3.0"/><circle cx="915.0" cy="75.9" r="3.0"/><circle cx="915.0" cy="79.5" r="3.0"/><circle cx="915.0" cy="83.2" r="3.0"/><circle cx="915.0" cy="86.8" r="3.0"/><circle cx="915.0" cy="90.5" r="3.0"/><circle cx="915.0" cy="94.2" r="3.0"/><circle cx="915.0" cy="97.8" r="3.0"/><circle cx="915.0" cy="109.2" r="3.0"/><circle cx="915.0" cy="128.3" r="3.0"/></g>
<line x1="915.0" y1="59.5" x2="915.0" y2="99.7" stroke="#595959" stroke-width="1" stroke-opacity="0.28"/>
<rect x="902.1" y="66.2" width="25.8" height="4.6" fill="#D0D0D0" fill-opacity="0.66"/>
<rect x="902.1" y="70.8" width="25.8" height="11.4" fill="#9D9D9D" fill-opacity="0.675"/>
<line x1="902.1" y1="59.5" x2="927.9" y2="59.5" stroke="#595959" stroke-width="1.5"/>
<line x1="902.1" y1="66.2" x2="927.9" y2="66.2" stroke="#595959" stroke-width="1.5"/>
<line x1="902.1" y1="82.2" x2="927.9" y2="82.2" stroke="#595959" stroke-width="1.5"/>
<line x1="902.1" y1="99.7" x2="927.9" y2="99.7" stroke="#595959" stroke-width="1.5"/>
<line x1="967.5" y1="62.2" x2="967.5" y2="76.7" stroke="#595959" stroke-width="1.1" stroke-opacity="0.85"/>
<g fill="#A8449A"><circle cx="967.5" cy="63.0" r="3.0"/><circle cx="967.5" cy="66.3" r="3.0"/><circle cx="967.5" cy="69.6" r="3.0"/><circle cx="967.5" cy="72.9" r="3.0"/><circle cx="967.5" cy="76.2" r="3.0"/></g>
<line x1="967.5" y1="62.2" x2="967.5" y2="76.7" stroke="#595959" stroke-width="1" stroke-opacity="0.28"/>
<rect x="954.6" y="65.0" width="25.8" height="2.5" fill="#D0D0D0" fill-opacity="0.66"/>
<rect x="954.6" y="67.5" width="25.8" height="3.7" fill="#9D9D9D" fill-opacity="0.675"/>
<line x1="954.6" y1="62.2" x2="980.4" y2="62.2" stroke="#595959" stroke-width="1.5"/>
<line x1="954.6" y1="65.0" x2="980.4" y2="65.0" stroke="#595959" stroke-width="1.5"/>
<line x1="954.6" y1="71.2" x2="980.4" y2="71.2" stroke="#595959" stroke-width="1.5"/>
<line x1="954.6" y1="76.7" x2="980.4" y2="76.7" stroke="#595959" stroke-width="1.5"/>
<line x1="155.6" y1="238.7" x2="155.6" y2="389.7" stroke="#595959" stroke-width="1.1" stroke-opacity="0.85"/>
<g fill="#56B0E3"><circle cx="155.6" cy="239.0" r="3.0"/><circle cx="155.6" cy="244.0" r="3.0"/><circle cx="155.6" cy="253.8" r="3.0"/><circle cx="155.6" cy="260.3" r="3.0"/><circle cx="155.6" cy="271.0" r="3.0"/><circle cx="155.6" cy="274.3" r="3.0"/><circle cx="155.6" cy="277.6" r="3.0"/><circle cx="155.6" cy="281.9" r="3.0"/><circle cx="155.6" cy="288.3" r="3.0"/><circle cx="155.6" cy="292.0" r="3.0"/><circle cx="155.6" cy="295.6" r="3.0"/><circle cx="155.6" cy="299.3" r="3.0"/><circle cx="155.6" cy="303.0" r="3.0"/><circle cx="155.6" cy="306.6" r="3.0"/><circle cx="155.6" cy="310.3" r="3.0"/><circle cx="155.6" cy="314.0" r="3.0"/><circle cx="155.6" cy="317.7" r="3.0"/><circle cx="155.6" cy="321.3" r="3.0"/><circle cx="155.6" cy="325.0" r="3.0"/><circle cx="155.6" cy="328.7" r="3.0"/><circle cx="155.6" cy="332.3" r="3.0"/><circle cx="155.6" cy="336.0" r="3.0"/><circle cx="155.6" cy="339.7" r="3.0"/><circle cx="155.6" cy="343.3" r="3.0"/><circle cx="155.6" cy="347.0" r="3.0"/><circle cx="155.6" cy="350.7" r="3.0"/><circle cx="155.6" cy="354.4" r="3.0"/><circle cx="155.6" cy="358.0" r="3.0"/><circle cx="155.6" cy="361.7" r="3.0"/><circle cx="155.6" cy="370.3" r="3.0"/><circle cx="155.6" cy="389.7" r="3.0"/></g>
<line x1="155.6" y1="238.7" x2="155.6" y2="389.7" stroke="#595959" stroke-width="1" stroke-opacity="0.28"/>
<rect x="140.7" y="295.9" width="29.8" height="17.2" fill="#D0D0D0" fill-opacity="0.66"/>
<rect x="140.7" y="313.1" width="29.8" height="21.2" fill="#9D9D9D" fill-opacity="0.675"/>
<line x1="140.7" y1="238.7" x2="170.5" y2="238.7" stroke="#595959" stroke-width="1.5"/>
<line x1="140.7" y1="295.9" x2="170.5" y2="295.9" stroke="#595959" stroke-width="1.5"/>
<line x1="140.7" y1="334.3" x2="170.5" y2="334.3" stroke="#595959" stroke-width="1.5"/>
<line x1="140.7" y1="389.7" x2="170.5" y2="389.7" stroke="#595959" stroke-width="1.5"/>
<line x1="214.7" y1="250.6" x2="214.7" y2="344.0" stroke="#595959" stroke-width="1.1" stroke-opacity="0.85"/>
<g fill="#E39E0C"><circle cx="214.7" cy="234.0" r="3.0"/><circle cx="214.7" cy="251.4" r="3.0"/><circle cx="214.7" cy="255.0" r="3.0"/><circle cx="214.7" cy="258.7" r="3.0"/><circle cx="214.7" cy="262.3" r="3.0"/><circle cx="214.7" cy="266.0" r="3.0"/><circle cx="214.7" cy="269.6" r="3.0"/><circle cx="214.7" cy="273.2" r="3.0"/><circle cx="214.7" cy="276.9" r="3.0"/><circle cx="214.7" cy="280.5" r="3.0"/><circle cx="214.7" cy="284.2" r="3.0"/><circle cx="214.7" cy="287.8" r="3.0"/><circle cx="214.7" cy="291.4" r="3.0"/><circle cx="214.7" cy="295.1" r="3.0"/><circle cx="214.7" cy="298.7" r="3.0"/><circle cx="214.7" cy="302.4" r="3.0"/><circle cx="214.7" cy="306.0" r="3.0"/><circle cx="214.7" cy="309.6" r="3.0"/><circle cx="214.7" cy="313.3" r="3.0"/><circle cx="214.7" cy="316.9" r="3.0"/><circle cx="214.7" cy="320.6" r="3.0"/><circle cx="214.7" cy="324.2" r="3.0"/><circle cx="214.7" cy="337.7" r="3.0"/><circle cx="214.7" cy="341.4" r="3.0"/><circle cx="214.7" cy="359.5" r="3.0"/></g>
<line x1="214.7" y1="250.6" x2="214.7" y2="344.0" stroke="#595959" stroke-width="1" stroke-opacity="0.28"/>
<rect x="200.1" y="282.3" width="29.2" height="10.4" fill="#D0D0D0" fill-opacity="0.66"/>
<rect x="200.1" y="292.7" width="29.2" height="14.0" fill="#9D9D9D" fill-opacity="0.675"/>
<line x1="200.1" y1="250.6" x2="229.3" y2="250.6" stroke="#595959" stroke-width="1.5"/>
<line x1="200.1" y1="282.3" x2="229.3" y2="282.3" stroke="#595959" stroke-width="1.5"/>
<line x1="200.1" y1="306.7" x2="229.3" y2="306.7" stroke="#595959" stroke-width="1.5"/>
<line x1="200.1" y1="344.0" x2="229.3" y2="344.0" stroke="#595959" stroke-width="1.5"/>
<line x1="279.6" y1="242.1" x2="279.6" y2="344.0" stroke="#595959" stroke-width="1.1" stroke-opacity="0.85"/>
<g fill="#8CC9EC"><circle cx="279.6" cy="242.1" r="3.0"/><circle cx="279.6" cy="253.3" r="3.0"/><circle cx="279.6" cy="273.6" r="3.0"/><circle cx="279.6" cy="281.5" r="3.0"/><circle cx="279.6" cy="289.4" r="3.0"/><circle cx="279.6" cy="293.9" r="3.0"/><circle cx="279.6" cy="307.5" r="3.0"/><circle cx="279.6" cy="344.0" r="3.0"/><circle cx="279.6" cy="370.1" r="3.0"/></g>
<line x1="279.6" y1="242.1" x2="279.6" y2="344.0" stroke="#595959" stroke-width="1" stroke-opacity="0.28"/>
<rect x="265.7" y="274.1" width="27.8" height="17.6" fill="#D0D0D0" fill-opacity="0.66"/>
<rect x="265.7" y="291.7" width="27.8" height="14.2" fill="#9D9D9D" fill-opacity="0.675"/>
<line x1="265.7" y1="242.1" x2="293.5" y2="242.1" stroke="#595959" stroke-width="1.5"/>
<line x1="265.7" y1="274.1" x2="293.5" y2="274.1" stroke="#595959" stroke-width="1.5"/>
<line x1="265.7" y1="305.9" x2="293.5" y2="305.9" stroke="#595959" stroke-width="1.5"/>
<line x1="265.7" y1="344.0" x2="293.5" y2="344.0" stroke="#595959" stroke-width="1.5"/>
<line x1="334.8" y1="233.0" x2="334.8" y2="322.8" stroke="#595959" stroke-width="1.1" stroke-opacity="0.85"/>
<g fill="#D9C46E"><circle cx="334.8" cy="234.2" r="3.0"/><circle cx="334.8" cy="253.0" r="3.0"/><circle cx="334.8" cy="256.0" r="3.0"/><circle cx="334.8" cy="262.4" r="3.0"/><circle cx="334.8" cy="269.9" r="3.0"/><circle cx="334.8" cy="273.5" r="3.0"/><circle cx="334.8" cy="277.0" r="3.0"/><circle cx="334.8" cy="280.6" r="3.0"/><circle cx="334.8" cy="284.2" r="3.0"/><circle cx="334.8" cy="293.9" r="3.0"/><circle cx="334.8" cy="307.4" r="3.0"/><circle cx="334.8" cy="323.2" r="3.0"/></g>
<line x1="334.8" y1="233.0" x2="334.8" y2="322.8" stroke="#595959" stroke-width="1" stroke-opacity="0.28"/>
<rect x="320.8" y="265.7" width="28.0" height="5.2" fill="#D0D0D0" fill-opacity="0.66"/>
<rect x="320.8" y="270.9" width="28.0" height="17.8" fill="#9D9D9D" fill-opacity="0.675"/>
<line x1="320.8" y1="233.0" x2="348.8" y2="233.0" stroke="#595959" stroke-width="1.5"/>
<line x1="320.8" y1="265.7" x2="348.8" y2="265.7" stroke="#595959" stroke-width="1.5"/>
<line x1="320.8" y1="288.7" x2="348.8" y2="288.7" stroke="#595959" stroke-width="1.5"/>
<line x1="320.8" y1="322.8" x2="348.8" y2="322.8" stroke="#595959" stroke-width="1.5"/>
<line x1="390.5" y1="259.4" x2="390.5" y2="360.4" stroke="#595959" stroke-width="1.1" stroke-opacity="0.85"/>
<g fill="#0A72B0"><circle cx="390.5" cy="239.1" r="3.0"/><circle cx="390.5" cy="260.1" r="3.0"/><circle cx="390.5" cy="272.0" r="3.0"/><circle cx="390.5" cy="291.3" r="3.0"/><circle cx="390.5" cy="295.0" r="3.0"/><circle cx="390.5" cy="298.8" r="3.0"/><circle cx="390.5" cy="302.5" r="3.0"/><circle cx="390.5" cy="306.3" r="3.0"/><circle cx="390.5" cy="310.0" r="3.0"/><circle cx="390.5" cy="313.7" r="3.0"/><circle cx="390.5" cy="317.5" r="3.0"/><circle cx="390.5" cy="321.2" r="3.0"/><circle cx="390.5" cy="325.0" r="3.0"/><circle cx="390.5" cy="328.7" r="3.0"/><circle cx="390.5" cy="332.4" r="3.0"/><circle cx="390.5" cy="336.2" r="3.0"/><circle cx="390.5" cy="339.9" r="3.0"/><circle cx="390.5" cy="343.6" r="3.0"/><circle cx="390.5" cy="347.4" r="3.0"/><circle cx="390.5" cy="351.1" r="3.0"/><circle cx="390.5" cy="354.9" r="3.0"/><circle cx="390.5" cy="358.6" r="3.0"/><circle cx="390.5" cy="390.2" r="3.0"/></g>
<line x1="390.5" y1="259.4" x2="390.5" y2="360.4" stroke="#595959" stroke-width="1" stroke-opacity="0.28"/>
<rect x="376.6" y="303.4" width="27.8" height="16.5" fill="#D0D0D0" fill-opacity="0.66"/>
<rect x="376.6" y="319.9" width="27.8" height="15.7" fill="#9D9D9D" fill-opacity="0.675"/>
<line x1="376.6" y1="259.4" x2="404.4" y2="259.4" stroke="#595959" stroke-width="1.5"/>
<line x1="376.6" y1="303.4" x2="404.4" y2="303.4" stroke="#595959" stroke-width="1.5"/>
<line x1="376.6" y1="335.6" x2="404.4" y2="335.6" stroke="#595959" stroke-width="1.5"/>
<line x1="376.6" y1="360.4" x2="404.4" y2="360.4" stroke="#595959" stroke-width="1.5"/>
<line x1="446.4" y1="257.8" x2="446.4" y2="344.0" stroke="#595959" stroke-width="1.1" stroke-opacity="0.85"/>
<g fill="#9A9A33"><circle cx="446.4" cy="257.8" r="3.0"/><circle cx="446.4" cy="269.1" r="3.0"/><circle cx="446.4" cy="282.3" r="3.0"/><circle cx="446.4" cy="286.0" r="3.0"/><circle cx="446.4" cy="289.7" r="3.0"/><circle cx="446.4" cy="293.4" r="3.0"/><circle cx="446.4" cy="297.1" r="3.0"/><circle cx="446.4" cy="300.9" r="3.0"/><circle cx="446.4" cy="304.6" r="3.0"/><circle cx="446.4" cy="308.3" r="3.0"/><circle cx="446.4" cy="312.0" r="3.0"/><circle cx="446.4" cy="315.7" r="3.0"/><circle cx="446.4" cy="319.4" r="3.0"/><circle cx="446.4" cy="323.1" r="3.0"/><circle cx="446.4" cy="326.9" r="3.0"/><circle cx="446.4" cy="330.6" r="3.0"/><circle cx="446.4" cy="334.3" r="3.0"/><circle cx="446.4" cy="338.0" r="3.0"/><circle cx="446.4" cy="341.7" r="3.0"/><circle cx="446.4" cy="359.3" r="3.0"/></g>
<line x1="446.4" y1="257.8" x2="446.4" y2="344.0" stroke="#595959" stroke-width="1" stroke-opacity="0.28"/>
<rect x="432.6" y="288.3" width="27.6" height="12.4" fill="#D0D0D0" fill-opacity="0.66"/>
<rect x="432.6" y="300.7" width="27.6" height="10.8" fill="#9D9D9D" fill-opacity="0.675"/>
<line x1="432.6" y1="257.8" x2="460.2" y2="257.8" stroke="#595959" stroke-width="1.5"/>
<line x1="432.6" y1="288.3" x2="460.2" y2="288.3" stroke="#595959" stroke-width="1.5"/>
<line x1="432.6" y1="311.5" x2="460.2" y2="311.5" stroke="#595959" stroke-width="1.5"/>
<line x1="432.6" y1="344.0" x2="460.2" y2="344.0" stroke="#595959" stroke-width="1.5"/>
<line x1="514.0" y1="236.6" x2="514.0" y2="334.3" stroke="#595959" stroke-width="1.1" stroke-opacity="0.85"/>
<g fill="#17A07A"><circle cx="514.0" cy="237.4" r="3.0"/><circle cx="514.0" cy="241.1" r="3.0"/><circle cx="514.0" cy="244.9" r="3.0"/><circle cx="514.0" cy="248.6" r="3.0"/><circle cx="514.0" cy="252.3" r="3.0"/><circle cx="514.0" cy="256.0" r="3.0"/><circle cx="514.0" cy="259.8" r="3.0"/><circle cx="514.0" cy="263.5" r="3.0"/><circle cx="514.0" cy="267.2" r="3.0"/><circle cx="514.0" cy="270.9" r="3.0"/><circle cx="514.0" cy="274.7" r="3.0"/><circle cx="514.0" cy="278.4" r="3.0"/><circle cx="514.0" cy="282.1" r="3.0"/><circle cx="514.0" cy="285.9" r="3.0"/><circle cx="514.0" cy="289.6" r="3.0"/><circle cx="514.0" cy="293.3" r="3.0"/><circle cx="514.0" cy="297.0" r="3.0"/><circle cx="514.0" cy="300.8" r="3.0"/><circle cx="514.0" cy="304.5" r="3.0"/><circle cx="514.0" cy="308.2" r="3.0"/><circle cx="514.0" cy="311.9" r="3.0"/><circle cx="514.0" cy="315.7" r="3.0"/><circle cx="514.0" cy="319.4" r="3.0"/><circle cx="514.0" cy="323.1" r="3.0"/><circle cx="514.0" cy="326.8" r="3.0"/><circle cx="514.0" cy="330.6" r="3.0"/><circle cx="514.0" cy="334.3" r="3.0"/><circle cx="514.0" cy="358.9" r="3.0"/></g>
<line x1="514.0" y1="236.6" x2="514.0" y2="334.3" stroke="#595959" stroke-width="1" stroke-opacity="0.28"/>
<rect x="498.0" y="276.4" width="32.0" height="12.4" fill="#D0D0D0" fill-opacity="0.66"/>
<rect x="498.0" y="288.8" width="32.0" height="16.7" fill="#9D9D9D" fill-opacity="0.675"/>
<line x1="498.0" y1="236.6" x2="530.0" y2="236.6" stroke="#595959" stroke-width="1.5"/>
<line x1="498.0" y1="276.4" x2="530.0" y2="276.4" stroke="#595959" stroke-width="1.5"/>
<line x1="498.0" y1="305.5" x2="530.0" y2="305.5" stroke="#595959" stroke-width="1.5"/>
<line x1="498.0" y1="334.3" x2="530.0" y2="334.3" stroke="#595959" stroke-width="1.5"/>
<line x1="578.8" y1="249.7" x2="578.8" y2="335.8" stroke="#595959" stroke-width="1.1" stroke-opacity="0.85"/>
<g fill="#D5620A"><circle cx="578.8" cy="250.0" r="3.0"/><circle cx="578.8" cy="253.4" r="3.0"/><circle cx="578.8" cy="263.5" r="3.0"/><circle cx="578.8" cy="266.1" r="3.0"/><circle cx="578.8" cy="274.8" r="3.0"/><circle cx="578.8" cy="278.4" r="3.0"/><circle cx="578.8" cy="281.9" r="3.0"/><circle cx="578.8" cy="285.4" r="3.0"/><circle cx="578.8" cy="289.0" r="3.0"/><circle cx="578.8" cy="292.6" r="3.0"/><circle cx="578.8" cy="296.1" r="3.0"/><circle cx="578.8" cy="299.7" r="3.0"/><circle cx="578.8" cy="303.2" r="3.0"/><circle cx="578.8" cy="306.8" r="3.0"/><circle cx="578.8" cy="310.3" r="3.0"/><circle cx="578.8" cy="319.0" r="3.0"/><circle cx="578.8" cy="322.3" r="3.0"/><circle cx="578.8" cy="336.0" r="3.0"/><circle cx="578.8" cy="343.4" r="3.0"/></g>
<line x1="578.8" y1="249.7" x2="578.8" y2="335.8" stroke="#595959" stroke-width="1" stroke-opacity="0.28"/>
<rect x="563.0" y="279.1" width="31.6" height="11.9" fill="#D0D0D0" fill-opacity="0.66"/>
<rect x="563.0" y="291.0" width="31.6" height="11.5" fill="#9D9D9D" fill-opacity="0.675"/>
<line x1="563.0" y1="249.7" x2="594.6" y2="249.7" stroke="#595959" stroke-width="1.5"/>
<line x1="563.0" y1="279.1" x2="594.6" y2="279.1" stroke="#595959" stroke-width="1.5"/>
<line x1="563.0" y1="302.5" x2="594.6" y2="302.5" stroke="#595959" stroke-width="1.5"/>
<line x1="563.0" y1="335.8" x2="594.6" y2="335.8" stroke="#595959" stroke-width="1.5"/>
<line x1="644.6" y1="252.0" x2="644.6" y2="345.6" stroke="#595959" stroke-width="1.1" stroke-opacity="0.85"/>
<g fill="#C9697F"><circle cx="644.6" cy="253.9" r="3.0"/><circle cx="644.6" cy="254.4" r="3.0"/><circle cx="644.6" cy="270.2" r="3.0"/><circle cx="644.6" cy="271.9" r="3.0"/><circle cx="644.6" cy="285.5" r="3.0"/><circle cx="644.6" cy="289.1" r="3.0"/><circle cx="644.6" cy="292.7" r="3.0"/><circle cx="644.6" cy="296.3" r="3.0"/><circle cx="644.6" cy="299.9" r="3.0"/><circle cx="644.6" cy="303.5" r="3.0"/><circle cx="644.6" cy="307.2" r="3.0"/><circle cx="644.6" cy="310.8" r="3.0"/><circle cx="644.6" cy="314.4" r="3.0"/><circle cx="644.6" cy="318.0" r="3.0"/><circle cx="644.6" cy="321.6" r="3.0"/><circle cx="644.6" cy="325.2" r="3.0"/><circle cx="644.6" cy="342.0" r="3.0"/><circle cx="644.6" cy="343.7" r="3.0"/></g>
<line x1="644.6" y1="252.0" x2="644.6" y2="345.6" stroke="#595959" stroke-width="1" stroke-opacity="0.28"/>
<rect x="631.6" y="285.3" width="26.0" height="17.8" fill="#D0D0D0" fill-opacity="0.66"/>
<rect x="631.6" y="303.1" width="26.0" height="10.3" fill="#9D9D9D" fill-opacity="0.675"/>
<line x1="631.6" y1="252.0" x2="657.6" y2="252.0" stroke="#595959" stroke-width="1.5"/>
<line x1="631.6" y1="285.3" x2="657.6" y2="285.3" stroke="#595959" stroke-width="1.5"/>
<line x1="631.6" y1="313.4" x2="657.6" y2="313.4" stroke="#595959" stroke-width="1.5"/>
<line x1="631.6" y1="345.6" x2="657.6" y2="345.6" stroke="#595959" stroke-width="1.5"/>
<line x1="697.5" y1="273.3" x2="697.5" y2="371.0" stroke="#595959" stroke-width="1.1" stroke-opacity="0.85"/>
<g fill="#6A1510"><circle cx="697.5" cy="273.3" r="3.0"/><circle cx="697.5" cy="291.6" r="3.0"/><circle cx="697.5" cy="299.9" r="3.0"/><circle cx="697.5" cy="305.3" r="3.0"/><circle cx="697.5" cy="310.8" r="3.0"/><circle cx="697.5" cy="329.0" r="3.0"/><circle cx="697.5" cy="329.5" r="3.0"/><circle cx="697.5" cy="345.2" r="3.0"/><circle cx="697.5" cy="361.9" r="3.0"/><circle cx="697.5" cy="371.0" r="3.0"/></g>
<line x1="697.5" y1="273.3" x2="697.5" y2="371.0" stroke="#595959" stroke-width="1" stroke-opacity="0.28"/>
<rect x="684.5" y="300.5" width="26.0" height="10.7" fill="#D0D0D0" fill-opacity="0.66"/>
<rect x="684.5" y="311.2" width="26.0" height="19.2" fill="#9D9D9D" fill-opacity="0.675"/>
<line x1="684.5" y1="273.3" x2="710.5" y2="273.3" stroke="#595959" stroke-width="1.5"/>
<line x1="684.5" y1="300.5" x2="710.5" y2="300.5" stroke="#595959" stroke-width="1.5"/>
<line x1="684.5" y1="330.4" x2="710.5" y2="330.4" stroke="#595959" stroke-width="1.5"/>
<line x1="684.5" y1="371.0" x2="710.5" y2="371.0" stroke="#595959" stroke-width="1.5"/>
<line x1="750.2" y1="257.9" x2="750.2" y2="326.7" stroke="#595959" stroke-width="1.1" stroke-opacity="0.85"/>
<g fill="#1A7A3C"><circle cx="750.2" cy="236.3" r="3.0"/><circle cx="750.2" cy="259.4" r="3.0"/><circle cx="750.2" cy="262.9" r="3.0"/><circle cx="750.2" cy="266.4" r="3.0"/><circle cx="750.2" cy="281.1" r="3.0"/><circle cx="750.2" cy="284.6" r="3.0"/><circle cx="750.2" cy="288.1" r="3.0"/><circle cx="750.2" cy="291.5" r="3.0"/><circle cx="750.2" cy="295.0" r="3.0"/><circle cx="750.2" cy="298.5" r="3.0"/><circle cx="750.2" cy="301.9" r="3.0"/><circle cx="750.2" cy="305.4" r="3.0"/><circle cx="750.2" cy="308.9" r="3.0"/><circle cx="750.2" cy="317.3" r="3.0"/><circle cx="750.2" cy="326.7" r="3.0"/><circle cx="750.2" cy="337.5" r="3.0"/><circle cx="750.2" cy="360.8" r="3.0"/></g>
<line x1="750.2" y1="257.9" x2="750.2" y2="326.7" stroke="#595959" stroke-width="1" stroke-opacity="0.28"/>
<rect x="737.3" y="283.1" width="25.8" height="8.5" fill="#D0D0D0" fill-opacity="0.66"/>
<rect x="737.3" y="291.6" width="25.8" height="11.1" fill="#9D9D9D" fill-opacity="0.675"/>
<line x1="737.3" y1="257.9" x2="763.1" y2="257.9" stroke="#595959" stroke-width="1.5"/>
<line x1="737.3" y1="283.1" x2="763.1" y2="283.1" stroke="#595959" stroke-width="1.5"/>
<line x1="737.3" y1="302.7" x2="763.1" y2="302.7" stroke="#595959" stroke-width="1.5"/>
<line x1="737.3" y1="326.7" x2="763.1" y2="326.7" stroke="#595959" stroke-width="1.5"/>
<line x1="802.9" y1="240.7" x2="802.9" y2="390.6" stroke="#595959" stroke-width="1.1" stroke-opacity="0.85"/>
<g fill="#47AA9A"><circle cx="802.9" cy="243.0" r="3.0"/><circle cx="802.9" cy="243.6" r="3.0"/><circle cx="802.9" cy="252.3" r="3.0"/><circle cx="802.9" cy="258.8" r="3.0"/><circle cx="802.9" cy="275.4" r="3.0"/><circle cx="802.9" cy="283.5" r="3.0"/><circle cx="802.9" cy="294.2" r="3.0"/><circle cx="802.9" cy="297.8" r="3.0"/><circle cx="802.9" cy="301.4" r="3.0"/><circle cx="802.9" cy="305.0" r="3.0"/><circle cx="802.9" cy="308.6" r="3.0"/><circle cx="802.9" cy="312.3" r="3.0"/><circle cx="802.9" cy="315.9" r="3.0"/><circle cx="802.9" cy="319.5" r="3.0"/><circle cx="802.9" cy="323.1" r="3.0"/><circle cx="802.9" cy="326.7" r="3.0"/><circle cx="802.9" cy="330.3" r="3.0"/><circle cx="802.9" cy="333.9" r="3.0"/><circle cx="802.9" cy="337.5" r="3.0"/><circle cx="802.9" cy="341.2" r="3.0"/><circle cx="802.9" cy="344.8" r="3.0"/><circle cx="802.9" cy="348.4" r="3.0"/><circle cx="802.9" cy="352.0" r="3.0"/><circle cx="802.9" cy="355.6" r="3.0"/><circle cx="802.9" cy="390.6" r="3.0"/></g>
<line x1="802.9" y1="240.7" x2="802.9" y2="390.6" stroke="#595959" stroke-width="1" stroke-opacity="0.28"/>
<rect x="790.1" y="295.5" width="25.6" height="20.1" fill="#D0D0D0" fill-opacity="0.66"/>
<rect x="790.1" y="315.6" width="25.6" height="19.5" fill="#9D9D9D" fill-opacity="0.675"/>
<line x1="790.1" y1="240.7" x2="815.7" y2="240.7" stroke="#595959" stroke-width="1.5"/>
<line x1="790.1" y1="295.5" x2="815.7" y2="295.5" stroke="#595959" stroke-width="1.5"/>
<line x1="790.1" y1="335.1" x2="815.7" y2="335.1" stroke="#595959" stroke-width="1.5"/>
<line x1="790.1" y1="390.6" x2="815.7" y2="390.6" stroke="#595959" stroke-width="1.5"/>
<line x1="862.8" y1="240.8" x2="862.8" y2="390.5" stroke="#595959" stroke-width="1.1" stroke-opacity="0.85"/>
<g fill="#8C8C8C"><circle cx="862.8" cy="243.0" r="3.0"/><circle cx="862.8" cy="246.7" r="3.0"/><circle cx="862.8" cy="250.3" r="3.0"/><circle cx="862.8" cy="254.0" r="3.0"/><circle cx="862.8" cy="257.7" r="3.0"/><circle cx="862.8" cy="261.3" r="3.0"/><circle cx="862.8" cy="265.0" r="3.0"/><circle cx="862.8" cy="268.7" r="3.0"/><circle cx="862.8" cy="272.3" r="3.0"/><circle cx="862.8" cy="276.0" r="3.0"/><circle cx="862.8" cy="279.7" r="3.0"/><circle cx="862.8" cy="283.3" r="3.0"/><circle cx="862.8" cy="287.0" r="3.0"/><circle cx="862.8" cy="290.7" r="3.0"/><circle cx="862.8" cy="294.3" r="3.0"/><circle cx="862.8" cy="298.0" r="3.0"/><circle cx="862.8" cy="301.6" r="3.0"/><circle cx="862.8" cy="305.3" r="3.0"/><circle cx="862.8" cy="309.0" r="3.0"/><circle cx="862.8" cy="312.6" r="3.0"/><circle cx="862.8" cy="316.3" r="3.0"/><circle cx="862.8" cy="320.0" r="3.0"/><circle cx="862.8" cy="323.6" r="3.0"/><circle cx="862.8" cy="327.3" r="3.0"/><circle cx="862.8" cy="331.0" r="3.0"/><circle cx="862.8" cy="334.6" r="3.0"/><circle cx="862.8" cy="338.3" r="3.0"/><circle cx="862.8" cy="342.0" r="3.0"/><circle cx="862.8" cy="345.6" r="3.0"/><circle cx="862.8" cy="349.3" r="3.0"/><circle cx="862.8" cy="353.0" r="3.0"/><circle cx="862.8" cy="356.6" r="3.0"/><circle cx="862.8" cy="360.3" r="3.0"/><circle cx="862.8" cy="371.2" r="3.0"/><circle cx="862.8" cy="390.8" r="3.0"/></g>
<line x1="862.8" y1="240.8" x2="862.8" y2="390.5" stroke="#595959" stroke-width="1" stroke-opacity="0.28"/>
<rect x="849.9" y="291.2" width="25.8" height="19.6" fill="#D0D0D0" fill-opacity="0.66"/>
<rect x="849.9" y="310.8" width="25.8" height="22.0" fill="#9D9D9D" fill-opacity="0.675"/>
<line x1="849.9" y1="240.8" x2="875.7" y2="240.8" stroke="#595959" stroke-width="1.5"/>
<line x1="849.9" y1="291.2" x2="875.7" y2="291.2" stroke="#595959" stroke-width="1.5"/>
<line x1="849.9" y1="332.8" x2="875.7" y2="332.8" stroke="#595959" stroke-width="1.5"/>
<line x1="849.9" y1="390.5" x2="875.7" y2="390.5" stroke="#595959" stroke-width="1.5"/>
<line x1="915.0" y1="272.0" x2="915.0" y2="339.7" stroke="#595959" stroke-width="1.1" stroke-opacity="0.85"/>
<g fill="#ECDC2A"><circle cx="915.0" cy="258.3" r="3.0"/><circle cx="915.0" cy="272.0" r="3.0"/><circle cx="915.0" cy="283.0" r="3.0"/><circle cx="915.0" cy="286.8" r="3.0"/><circle cx="915.0" cy="290.7" r="3.0"/><circle cx="915.0" cy="294.5" r="3.0"/><circle cx="915.0" cy="298.4" r="3.0"/><circle cx="915.0" cy="302.2" r="3.0"/><circle cx="915.0" cy="306.1" r="3.0"/><circle cx="915.0" cy="309.9" r="3.0"/><circle cx="915.0" cy="313.8" r="3.0"/><circle cx="915.0" cy="317.6" r="3.0"/><circle cx="915.0" cy="321.5" r="3.0"/><circle cx="915.0" cy="325.3" r="3.0"/><circle cx="915.0" cy="339.7" r="3.0"/><circle cx="915.0" cy="360.8" r="3.0"/></g>
<line x1="915.0" y1="272.0" x2="915.0" y2="339.7" stroke="#595959" stroke-width="1" stroke-opacity="0.28"/>
<rect x="902.1" y="290.3" width="25.8" height="11.9" fill="#D0D0D0" fill-opacity="0.66"/>
<rect x="902.1" y="302.2" width="25.8" height="8.3" fill="#9D9D9D" fill-opacity="0.675"/>
<line x1="902.1" y1="272.0" x2="927.9" y2="272.0" stroke="#595959" stroke-width="1.5"/>
<line x1="902.1" y1="290.3" x2="927.9" y2="290.3" stroke="#595959" stroke-width="1.5"/>
<line x1="902.1" y1="310.5" x2="927.9" y2="310.5" stroke="#595959" stroke-width="1.5"/>
<line x1="902.1" y1="339.7" x2="927.9" y2="339.7" stroke="#595959" stroke-width="1.5"/>
<line x1="967.5" y1="255.5" x2="967.5" y2="297.2" stroke="#595959" stroke-width="1.1" stroke-opacity="0.85"/>
<g fill="#A8449A"><circle cx="967.5" cy="236.2" r="3.0"/><circle cx="967.5" cy="255.5" r="3.0"/><circle cx="967.5" cy="264.5" r="3.0"/><circle cx="967.5" cy="271.3" r="3.0"/><circle cx="967.5" cy="275.1" r="3.0"/><circle cx="967.5" cy="278.9" r="3.0"/><circle cx="967.5" cy="282.7" r="3.0"/><circle cx="967.5" cy="286.5" r="3.0"/><circle cx="967.5" cy="290.3" r="3.0"/><circle cx="967.5" cy="297.5" r="3.0"/></g>
<line x1="967.5" y1="255.5" x2="967.5" y2="297.2" stroke="#595959" stroke-width="1" stroke-opacity="0.28"/>
<rect x="954.6" y="269.2" width="25.8" height="7.8" fill="#D0D0D0" fill-opacity="0.66"/>
<rect x="954.6" y="277.0" width="25.8" height="6.3" fill="#9D9D9D" fill-opacity="0.675"/>
<line x1="954.6" y1="255.5" x2="980.4" y2="255.5" stroke="#595959" stroke-width="1.5"/>
<line x1="954.6" y1="269.2" x2="980.4" y2="269.2" stroke="#595959" stroke-width="1.5"/>
<line x1="954.6" y1="283.3" x2="980.4" y2="283.3" stroke="#595959" stroke-width="1.5"/>
<line x1="954.6" y1="297.2" x2="980.4" y2="297.2" stroke="#595959" stroke-width="1.5"/>
<line x1="155.6" y1="422.0" x2="155.6" y2="566.9" stroke="#595959" stroke-width="1.1" stroke-opacity="0.85"/>
<g fill="#56B0E3"><circle cx="155.6" cy="411.8" r="3.0"/><circle cx="155.6" cy="422.0" r="3.0"/><circle cx="155.6" cy="442.2" r="3.0"/><circle cx="155.6" cy="442.7" r="3.0"/><circle cx="155.6" cy="451.5" r="3.0"/><circle cx="155.6" cy="462.0" r="3.0"/><circle cx="155.6" cy="465.8" r="3.0"/><circle cx="155.6" cy="469.5" r="3.0"/><circle cx="155.6" cy="473.3" r="3.0"/><circle cx="155.6" cy="477.1" r="3.0"/><circle cx="155.6" cy="480.9" r="3.0"/><circle cx="155.6" cy="484.6" r="3.0"/><circle cx="155.6" cy="488.4" r="3.0"/><circle cx="155.6" cy="492.2" r="3.0"/><circle cx="155.6" cy="496.0" r="3.0"/><circle cx="155.6" cy="499.7" r="3.0"/><circle cx="155.6" cy="503.5" r="3.0"/><circle cx="155.6" cy="507.3" r="3.0"/><circle cx="155.6" cy="511.0" r="3.0"/><circle cx="155.6" cy="514.8" r="3.0"/><circle cx="155.6" cy="518.6" r="3.0"/><circle cx="155.6" cy="522.4" r="3.0"/><circle cx="155.6" cy="526.1" r="3.0"/><circle cx="155.6" cy="529.9" r="3.0"/><circle cx="155.6" cy="533.7" r="3.0"/><circle cx="155.6" cy="537.5" r="3.0"/><circle cx="155.6" cy="541.2" r="3.0"/><circle cx="155.6" cy="545.0" r="3.0"/><circle cx="155.6" cy="566.0" r="3.0"/><circle cx="155.6" cy="566.6" r="3.0"/></g>
<line x1="155.6" y1="422.0" x2="155.6" y2="566.9" stroke="#595959" stroke-width="1" stroke-opacity="0.28"/>
<rect x="140.7" y="473.7" width="29.8" height="13.4" fill="#D0D0D0" fill-opacity="0.66"/>
<rect x="140.7" y="487.1" width="29.8" height="25.5" fill="#9D9D9D" fill-opacity="0.675"/>
<line x1="140.7" y1="422.0" x2="170.5" y2="422.0" stroke="#595959" stroke-width="1.5"/>
<line x1="140.7" y1="473.7" x2="170.5" y2="473.7" stroke="#595959" stroke-width="1.5"/>
<line x1="140.7" y1="512.6" x2="170.5" y2="512.6" stroke="#595959" stroke-width="1.5"/>
<line x1="140.7" y1="566.9" x2="170.5" y2="566.9" stroke="#595959" stroke-width="1.5"/>
<line x1="214.7" y1="419.4" x2="214.7" y2="511.0" stroke="#595959" stroke-width="1.1" stroke-opacity="0.85"/>
<g fill="#E39E0C"><circle cx="214.7" cy="419.6" r="3.0"/><circle cx="214.7" cy="423.2" r="3.0"/><circle cx="214.7" cy="426.8" r="3.0"/><circle cx="214.7" cy="430.4" r="3.0"/><circle cx="214.7" cy="434.1" r="3.0"/><circle cx="214.7" cy="437.7" r="3.0"/><circle cx="214.7" cy="441.3" r="3.0"/><circle cx="214.7" cy="444.9" r="3.0"/><circle cx="214.7" cy="448.5" r="3.0"/><circle cx="214.7" cy="452.1" r="3.0"/><circle cx="214.7" cy="455.7" r="3.0"/><circle cx="214.7" cy="459.4" r="3.0"/><circle cx="214.7" cy="463.0" r="3.0"/><circle cx="214.7" cy="466.6" r="3.0"/><circle cx="214.7" cy="470.2" r="3.0"/><circle cx="214.7" cy="473.8" r="3.0"/><circle cx="214.7" cy="477.4" r="3.0"/><circle cx="214.7" cy="481.0" r="3.0"/><circle cx="214.7" cy="484.7" r="3.0"/><circle cx="214.7" cy="488.3" r="3.0"/><circle cx="214.7" cy="491.9" r="3.0"/><circle cx="214.7" cy="495.5" r="3.0"/><circle cx="214.7" cy="509.0" r="3.0"/><circle cx="214.7" cy="513.9" r="3.0"/><circle cx="214.7" cy="533.0" r="3.0"/></g>
<line x1="214.7" y1="419.4" x2="214.7" y2="511.0" stroke="#595959" stroke-width="1" stroke-opacity="0.28"/>
<rect x="200.1" y="453.2" width="29.2" height="10.8" fill="#D0D0D0" fill-opacity="0.66"/>
<rect x="200.1" y="464.0" width="29.2" height="13.6" fill="#9D9D9D" fill-opacity="0.675"/>
<line x1="200.1" y1="419.4" x2="229.3" y2="419.4" stroke="#595959" stroke-width="1.5"/>
<line x1="200.1" y1="453.2" x2="229.3" y2="453.2" stroke="#595959" stroke-width="1.5"/>
<line x1="200.1" y1="477.6" x2="229.3" y2="477.6" stroke="#595959" stroke-width="1.5"/>
<line x1="200.1" y1="511.0" x2="229.3" y2="511.0" stroke="#595959" stroke-width="1.5"/>
<line x1="279.6" y1="411.2" x2="279.6" y2="515.2" stroke="#595959" stroke-width="1.1" stroke-opacity="0.85"/>
<g fill="#8CC9EC"><circle cx="279.6" cy="411.2" r="3.0"/><circle cx="279.6" cy="422.5" r="3.0"/><circle cx="279.6" cy="443.5" r="3.0"/><circle cx="279.6" cy="451.4" r="3.0"/><circle cx="279.6" cy="463.1" r="3.0"/><circle cx="279.6" cy="478.4" r="3.0"/><circle cx="279.6" cy="516.1" r="3.0"/><circle cx="279.6" cy="542.7" r="3.0"/></g>
<line x1="279.6" y1="411.2" x2="279.6" y2="515.2" stroke="#595959" stroke-width="1" stroke-opacity="0.28"/>
<rect x="265.7" y="443.5" width="27.8" height="19.6" fill="#D0D0D0" fill-opacity="0.66"/>
<rect x="265.7" y="463.1" width="27.8" height="14.2" fill="#9D9D9D" fill-opacity="0.675"/>
<line x1="265.7" y1="411.2" x2="293.5" y2="411.2" stroke="#595959" stroke-width="1.5"/>
<line x1="265.7" y1="443.5" x2="293.5" y2="443.5" stroke="#595959" stroke-width="1.5"/>
<line x1="265.7" y1="477.3" x2="293.5" y2="477.3" stroke="#595959" stroke-width="1.5"/>
<line x1="265.7" y1="515.2" x2="293.5" y2="515.2" stroke="#595959" stroke-width="1.5"/>
<line x1="334.8" y1="419.1" x2="334.8" y2="493.1" stroke="#595959" stroke-width="1.1" stroke-opacity="0.85"/>
<g fill="#D9C46E"><circle cx="334.8" cy="420.5" r="3.0"/><circle cx="334.8" cy="424.9" r="3.0"/><circle cx="334.8" cy="429.2" r="3.0"/><circle cx="334.8" cy="441.7" r="3.0"/><circle cx="334.8" cy="467.2" r="3.0"/><circle cx="334.8" cy="476.8" r="3.0"/><circle cx="334.8" cy="494.2" r="3.0"/></g>
<line x1="334.8" y1="419.1" x2="334.8" y2="493.1" stroke="#595959" stroke-width="1" stroke-opacity="0.28"/>
<rect x="320.8" y="435.6" width="28.0" height="10.6" fill="#D0D0D0" fill-opacity="0.66"/>
<rect x="320.8" y="446.2" width="28.0" height="16.0" fill="#9D9D9D" fill-opacity="0.675"/>
<line x1="320.8" y1="419.1" x2="348.8" y2="419.1" stroke="#595959" stroke-width="1.5"/>
<line x1="320.8" y1="435.6" x2="348.8" y2="435.6" stroke="#595959" stroke-width="1.5"/>
<line x1="320.8" y1="462.2" x2="348.8" y2="462.2" stroke="#595959" stroke-width="1.5"/>
<line x1="320.8" y1="493.1" x2="348.8" y2="493.1" stroke="#595959" stroke-width="1.5"/>
<line x1="390.5" y1="440.8" x2="390.5" y2="566.8" stroke="#595959" stroke-width="1.1" stroke-opacity="0.85"/>
<g fill="#0A72B0"><circle cx="390.5" cy="441.2" r="3.0"/><circle cx="390.5" cy="466.8" r="3.0"/><circle cx="390.5" cy="470.5" r="3.0"/><circle cx="390.5" cy="474.3" r="3.0"/><circle cx="390.5" cy="478.0" r="3.0"/><circle cx="390.5" cy="481.7" r="3.0"/><circle cx="390.5" cy="485.5" r="3.0"/><circle cx="390.5" cy="489.2" r="3.0"/><circle cx="390.5" cy="492.9" r="3.0"/><circle cx="390.5" cy="496.7" r="3.0"/><circle cx="390.5" cy="500.4" r="3.0"/><circle cx="390.5" cy="504.1" r="3.0"/><circle cx="390.5" cy="507.9" r="3.0"/><circle cx="390.5" cy="511.6" r="3.0"/><circle cx="390.5" cy="515.3" r="3.0"/><circle cx="390.5" cy="519.1" r="3.0"/><circle cx="390.5" cy="522.8" r="3.0"/><circle cx="390.5" cy="526.5" r="3.0"/><circle cx="390.5" cy="530.3" r="3.0"/><circle cx="390.5" cy="534.0" r="3.0"/><circle cx="390.5" cy="566.0" r="3.0"/><circle cx="390.5" cy="566.6" r="3.0"/></g>
<line x1="390.5" y1="440.8" x2="390.5" y2="566.8" stroke="#595959" stroke-width="1" stroke-opacity="0.28"/>
<rect x="376.6" y="480.2" width="27.8" height="15.8" fill="#D0D0D0" fill-opacity="0.66"/>
<rect x="376.6" y="496.0" width="27.8" height="19.0" fill="#9D9D9D" fill-opacity="0.675"/>
<line x1="376.6" y1="440.8" x2="404.4" y2="440.8" stroke="#595959" stroke-width="1.5"/>
<line x1="376.6" y1="480.2" x2="404.4" y2="480.2" stroke="#595959" stroke-width="1.5"/>
<line x1="376.6" y1="515.0" x2="404.4" y2="515.0" stroke="#595959" stroke-width="1.5"/>
<line x1="376.6" y1="566.8" x2="404.4" y2="566.8" stroke="#595959" stroke-width="1.5"/>
<line x1="446.4" y1="426.6" x2="446.4" y2="515.2" stroke="#595959" stroke-width="1.1" stroke-opacity="0.85"/>
<g fill="#9A9A33"><circle cx="446.4" cy="427.0" r="3.0"/><circle cx="446.4" cy="438.5" r="3.0"/><circle cx="446.4" cy="452.0" r="3.0"/><circle cx="446.4" cy="455.6" r="3.0"/><circle cx="446.4" cy="459.3" r="3.0"/><circle cx="446.4" cy="462.9" r="3.0"/><circle cx="446.4" cy="466.5" r="3.0"/><circle cx="446.4" cy="470.2" r="3.0"/><circle cx="446.4" cy="473.8" r="3.0"/><circle cx="446.4" cy="477.4" r="3.0"/><circle cx="446.4" cy="481.1" r="3.0"/><circle cx="446.4" cy="484.7" r="3.0"/><circle cx="446.4" cy="488.4" r="3.0"/><circle cx="446.4" cy="492.0" r="3.0"/><circle cx="446.4" cy="495.6" r="3.0"/><circle cx="446.4" cy="499.3" r="3.0"/><circle cx="446.4" cy="502.9" r="3.0"/><circle cx="446.4" cy="506.5" r="3.0"/><circle cx="446.4" cy="510.2" r="3.0"/><circle cx="446.4" cy="513.8" r="3.0"/><circle cx="446.4" cy="533.0" r="3.0"/></g>
<line x1="446.4" y1="426.6" x2="446.4" y2="515.2" stroke="#595959" stroke-width="1" stroke-opacity="0.28"/>
<rect x="432.6" y="459.3" width="27.6" height="11.9" fill="#D0D0D0" fill-opacity="0.66"/>
<rect x="432.6" y="471.2" width="27.6" height="11.1" fill="#9D9D9D" fill-opacity="0.675"/>
<line x1="432.6" y1="426.6" x2="460.2" y2="426.6" stroke="#595959" stroke-width="1.5"/>
<line x1="432.6" y1="459.3" x2="460.2" y2="459.3" stroke="#595959" stroke-width="1.5"/>
<line x1="432.6" y1="482.3" x2="460.2" y2="482.3" stroke="#595959" stroke-width="1.5"/>
<line x1="432.6" y1="515.2" x2="460.2" y2="515.2" stroke="#595959" stroke-width="1.5"/>
<line x1="514.0" y1="411.9" x2="514.0" y2="535.8" stroke="#595959" stroke-width="1.1" stroke-opacity="0.85"/>
<g fill="#17A07A"><circle cx="514.0" cy="411.9" r="3.0"/><circle cx="514.0" cy="421.3" r="3.0"/><circle cx="514.0" cy="425.0" r="3.0"/><circle cx="514.0" cy="428.6" r="3.0"/><circle cx="514.0" cy="432.3" r="3.0"/><circle cx="514.0" cy="436.0" r="3.0"/><circle cx="514.0" cy="439.6" r="3.0"/><circle cx="514.0" cy="443.3" r="3.0"/><circle cx="514.0" cy="447.0" r="3.0"/><circle cx="514.0" cy="450.6" r="3.0"/><circle cx="514.0" cy="454.3" r="3.0"/><circle cx="514.0" cy="458.0" r="3.0"/><circle cx="514.0" cy="461.6" r="3.0"/><circle cx="514.0" cy="465.3" r="3.0"/><circle cx="514.0" cy="469.0" r="3.0"/><circle cx="514.0" cy="472.6" r="3.0"/><circle cx="514.0" cy="476.3" r="3.0"/><circle cx="514.0" cy="480.0" r="3.0"/><circle cx="514.0" cy="483.7" r="3.0"/><circle cx="514.0" cy="487.3" r="3.0"/><circle cx="514.0" cy="491.0" r="3.0"/><circle cx="514.0" cy="494.7" r="3.0"/><circle cx="514.0" cy="498.3" r="3.0"/><circle cx="514.0" cy="502.0" r="3.0"/><circle cx="514.0" cy="505.7" r="3.0"/><circle cx="514.0" cy="509.3" r="3.0"/><circle cx="514.0" cy="513.0" r="3.0"/><circle cx="514.0" cy="516.7" r="3.0"/><circle cx="514.0" cy="520.3" r="3.0"/><circle cx="514.0" cy="524.0" r="3.0"/><circle cx="514.0" cy="527.7" r="3.0"/><circle cx="514.0" cy="531.3" r="3.0"/><circle cx="514.0" cy="535.0" r="3.0"/><circle cx="514.0" cy="565.6" r="3.0"/><circle cx="514.0" cy="566.2" r="3.0"/></g>
<line x1="514.0" y1="411.9" x2="514.0" y2="535.8" stroke="#595959" stroke-width="1" stroke-opacity="0.28"/>
<rect x="498.0" y="457.4" width="32.0" height="17.8" fill="#D0D0D0" fill-opacity="0.66"/>
<rect x="498.0" y="475.2" width="32.0" height="21.2" fill="#9D9D9D" fill-opacity="0.675"/>
<line x1="498.0" y1="411.9" x2="530.0" y2="411.9" stroke="#595959" stroke-width="1.5"/>
<line x1="498.0" y1="457.4" x2="530.0" y2="457.4" stroke="#595959" stroke-width="1.5"/>
<line x1="498.0" y1="496.4" x2="530.0" y2="496.4" stroke="#595959" stroke-width="1.5"/>
<line x1="498.0" y1="535.8" x2="530.0" y2="535.8" stroke="#595959" stroke-width="1.5"/>
<line x1="578.8" y1="420.1" x2="578.8" y2="532.5" stroke="#595959" stroke-width="1.1" stroke-opacity="0.85"/>
<g fill="#D5620A"><circle cx="578.8" cy="420.0" r="3.0"/><circle cx="578.8" cy="423.7" r="3.0"/><circle cx="578.8" cy="427.3" r="3.0"/><circle cx="578.8" cy="431.0" r="3.0"/><circle cx="578.8" cy="434.6" r="3.0"/><circle cx="578.8" cy="438.3" r="3.0"/><circle cx="578.8" cy="442.0" r="3.0"/><circle cx="578.8" cy="445.6" r="3.0"/><circle cx="578.8" cy="449.3" r="3.0"/><circle cx="578.8" cy="453.0" r="3.0"/><circle cx="578.8" cy="456.6" r="3.0"/><circle cx="578.8" cy="460.3" r="3.0"/><circle cx="578.8" cy="463.9" r="3.0"/><circle cx="578.8" cy="467.6" r="3.0"/><circle cx="578.8" cy="471.3" r="3.0"/><circle cx="578.8" cy="474.9" r="3.0"/><circle cx="578.8" cy="478.6" r="3.0"/><circle cx="578.8" cy="482.2" r="3.0"/><circle cx="578.8" cy="485.9" r="3.0"/><circle cx="578.8" cy="489.6" r="3.0"/><circle cx="578.8" cy="493.2" r="3.0"/><circle cx="578.8" cy="496.9" r="3.0"/><circle cx="578.8" cy="500.6" r="3.0"/><circle cx="578.8" cy="504.2" r="3.0"/><circle cx="578.8" cy="507.9" r="3.0"/><circle cx="578.8" cy="511.5" r="3.0"/><circle cx="578.8" cy="515.2" r="3.0"/><circle cx="578.8" cy="533.0" r="3.0"/><circle cx="578.8" cy="542.9" r="3.0"/></g>
<line x1="578.8" y1="420.1" x2="578.8" y2="532.5" stroke="#595959" stroke-width="1" stroke-opacity="0.28"/>
<rect x="563.0" y="460.7" width="31.6" height="14.0" fill="#D0D0D0" fill-opacity="0.66"/>
<rect x="563.0" y="474.7" width="31.6" height="14.8" fill="#9D9D9D" fill-opacity="0.675"/>
<line x1="563.0" y1="420.1" x2="594.6" y2="420.1" stroke="#595959" stroke-width="1.5"/>
<line x1="563.0" y1="460.7" x2="594.6" y2="460.7" stroke="#595959" stroke-width="1.5"/>
<line x1="563.0" y1="489.5" x2="594.6" y2="489.5" stroke="#595959" stroke-width="1.5"/>
<line x1="563.0" y1="532.5" x2="594.6" y2="532.5" stroke="#595959" stroke-width="1.5"/>
<line x1="644.6" y1="420.0" x2="644.6" y2="516.2" stroke="#595959" stroke-width="1.1" stroke-opacity="0.85"/>
<g fill="#C9697F"><circle cx="644.6" cy="420.9" r="3.0"/><circle cx="644.6" cy="423.6" r="3.0"/><circle cx="644.6" cy="438.3" r="3.0"/><circle cx="644.6" cy="442.1" r="3.0"/><circle cx="644.6" cy="453.5" r="3.0"/><circle cx="644.6" cy="457.2" r="3.0"/><circle cx="644.6" cy="460.9" r="3.0"/><circle cx="644.6" cy="464.6" r="3.0"/><circle cx="644.6" cy="468.3" r="3.0"/><circle cx="644.6" cy="472.0" r="3.0"/><circle cx="644.6" cy="475.8" r="3.0"/><circle cx="644.6" cy="479.5" r="3.0"/><circle cx="644.6" cy="483.2" r="3.0"/><circle cx="644.6" cy="486.9" r="3.0"/><circle cx="644.6" cy="490.6" r="3.0"/><circle cx="644.6" cy="494.3" r="3.0"/><circle cx="644.6" cy="511.2" r="3.0"/><circle cx="644.6" cy="513.9" r="3.0"/></g>
<line x1="644.6" y1="420.0" x2="644.6" y2="516.2" stroke="#595959" stroke-width="1" stroke-opacity="0.28"/>
<rect x="631.6" y="453.3" width="26.0" height="19.0" fill="#D0D0D0" fill-opacity="0.66"/>
<rect x="631.6" y="472.3" width="26.0" height="10.4" fill="#9D9D9D" fill-opacity="0.675"/>
<line x1="631.6" y1="420.0" x2="657.6" y2="420.0" stroke="#595959" stroke-width="1.5"/>
<line x1="631.6" y1="453.3" x2="657.6" y2="453.3" stroke="#595959" stroke-width="1.5"/>
<line x1="631.6" y1="482.7" x2="657.6" y2="482.7" stroke="#595959" stroke-width="1.5"/>
<line x1="631.6" y1="516.2" x2="657.6" y2="516.2" stroke="#595959" stroke-width="1.5"/>
<line x1="697.5" y1="441.4" x2="697.5" y2="542.3" stroke="#595959" stroke-width="1.1" stroke-opacity="0.85"/>
<g fill="#6A1510"><circle cx="697.5" cy="441.8" r="3.0"/><circle cx="697.5" cy="462.9" r="3.0"/><circle cx="697.5" cy="469.0" r="3.0"/><circle cx="697.5" cy="474.4" r="3.0"/><circle cx="697.5" cy="481.6" r="3.0"/><circle cx="697.5" cy="498.9" r="3.0"/><circle cx="697.5" cy="515.4" r="3.0"/><circle cx="697.5" cy="532.8" r="3.0"/><circle cx="697.5" cy="542.6" r="3.0"/></g>
<line x1="697.5" y1="441.4" x2="697.5" y2="542.3" stroke="#595959" stroke-width="1" stroke-opacity="0.28"/>
<rect x="684.5" y="470.5" width="26.0" height="10.5" fill="#D0D0D0" fill-opacity="0.66"/>
<rect x="684.5" y="481.0" width="26.0" height="20.6" fill="#9D9D9D" fill-opacity="0.675"/>
<line x1="684.5" y1="441.4" x2="710.5" y2="441.4" stroke="#595959" stroke-width="1.5"/>
<line x1="684.5" y1="470.5" x2="710.5" y2="470.5" stroke="#595959" stroke-width="1.5"/>
<line x1="684.5" y1="501.6" x2="710.5" y2="501.6" stroke="#595959" stroke-width="1.5"/>
<line x1="684.5" y1="542.3" x2="710.5" y2="542.3" stroke="#595959" stroke-width="1.5"/>
<line x1="750.2" y1="424.8" x2="750.2" y2="496.4" stroke="#595959" stroke-width="1.1" stroke-opacity="0.85"/>
<g fill="#1A7A3C"><circle cx="750.2" cy="427.4" r="3.0"/><circle cx="750.2" cy="430.4" r="3.0"/><circle cx="750.2" cy="433.4" r="3.0"/><circle cx="750.2" cy="449.1" r="3.0"/><circle cx="750.2" cy="452.8" r="3.0"/><circle cx="750.2" cy="456.6" r="3.0"/><circle cx="750.2" cy="460.3" r="3.0"/><circle cx="750.2" cy="464.1" r="3.0"/><circle cx="750.2" cy="467.8" r="3.0"/><circle cx="750.2" cy="471.5" r="3.0"/><circle cx="750.2" cy="475.3" r="3.0"/><circle cx="750.2" cy="479.0" r="3.0"/><circle cx="750.2" cy="486.8" r="3.0"/><circle cx="750.2" cy="496.4" r="3.0"/><circle cx="750.2" cy="507.7" r="3.0"/><circle cx="750.2" cy="533.2" r="3.0"/></g>
<line x1="750.2" y1="424.8" x2="750.2" y2="496.4" stroke="#595959" stroke-width="1" stroke-opacity="0.28"/>
<rect x="737.3" y="453.3" width="25.8" height="7.4" fill="#D0D0D0" fill-opacity="0.66"/>
<rect x="737.3" y="460.7" width="25.8" height="11.6" fill="#9D9D9D" fill-opacity="0.675"/>
<line x1="737.3" y1="424.8" x2="763.1" y2="424.8" stroke="#595959" stroke-width="1.5"/>
<line x1="737.3" y1="453.3" x2="763.1" y2="453.3" stroke="#595959" stroke-width="1.5"/>
<line x1="737.3" y1="472.3" x2="763.1" y2="472.3" stroke="#595959" stroke-width="1.5"/>
<line x1="737.3" y1="496.4" x2="763.1" y2="496.4" stroke="#595959" stroke-width="1.5"/>
<line x1="802.9" y1="422.6" x2="802.9" y2="567.0" stroke="#595959" stroke-width="1.1" stroke-opacity="0.85"/>
<g fill="#47AA9A"><circle cx="802.9" cy="412.4" r="3.0"/><circle cx="802.9" cy="422.6" r="3.0"/><circle cx="802.9" cy="443.4" r="3.0"/><circle cx="802.9" cy="452.0" r="3.0"/><circle cx="802.9" cy="464.6" r="3.0"/><circle cx="802.9" cy="477.4" r="3.0"/><circle cx="802.9" cy="481.2" r="3.0"/><circle cx="802.9" cy="485.0" r="3.0"/><circle cx="802.9" cy="488.8" r="3.0"/><circle cx="802.9" cy="492.7" r="3.0"/><circle cx="802.9" cy="496.5" r="3.0"/><circle cx="802.9" cy="500.3" r="3.0"/><circle cx="802.9" cy="504.1" r="3.0"/><circle cx="802.9" cy="507.9" r="3.0"/><circle cx="802.9" cy="511.7" r="3.0"/><circle cx="802.9" cy="515.6" r="3.0"/><circle cx="802.9" cy="519.4" r="3.0"/><circle cx="802.9" cy="523.2" r="3.0"/><circle cx="802.9" cy="527.0" r="3.0"/><circle cx="802.9" cy="536.0" r="3.0"/><circle cx="802.9" cy="565.9" r="3.0"/></g>
<line x1="802.9" y1="422.6" x2="802.9" y2="567.0" stroke="#595959" stroke-width="1" stroke-opacity="0.28"/>
<rect x="790.1" y="476.2" width="25.6" height="11.7" fill="#D0D0D0" fill-opacity="0.66"/>
<rect x="790.1" y="487.9" width="25.6" height="25.7" fill="#9D9D9D" fill-opacity="0.675"/>
<line x1="790.1" y1="422.6" x2="815.7" y2="422.6" stroke="#595959" stroke-width="1.5"/>
<line x1="790.1" y1="476.2" x2="815.7" y2="476.2" stroke="#595959" stroke-width="1.5"/>
<line x1="790.1" y1="513.6" x2="815.7" y2="513.6" stroke="#595959" stroke-width="1.5"/>
<line x1="790.1" y1="567.0" x2="815.7" y2="567.0" stroke="#595959" stroke-width="1.5"/>
<line x1="862.8" y1="412.0" x2="862.8" y2="566.7" stroke="#595959" stroke-width="1.1" stroke-opacity="0.85"/>
<g fill="#8C8C8C"><circle cx="862.8" cy="413.8" r="3.0"/><circle cx="862.8" cy="417.5" r="3.0"/><circle cx="862.8" cy="421.2" r="3.0"/><circle cx="862.8" cy="425.0" r="3.0"/><circle cx="862.8" cy="428.7" r="3.0"/><circle cx="862.8" cy="432.4" r="3.0"/><circle cx="862.8" cy="436.1" r="3.0"/><circle cx="862.8" cy="439.8" r="3.0"/><circle cx="862.8" cy="443.6" r="3.0"/><circle cx="862.8" cy="447.3" r="3.0"/><circle cx="862.8" cy="451.0" r="3.0"/><circle cx="862.8" cy="454.7" r="3.0"/><circle cx="862.8" cy="458.4" r="3.0"/><circle cx="862.8" cy="462.2" r="3.0"/><circle cx="862.8" cy="465.9" r="3.0"/><circle cx="862.8" cy="469.6" r="3.0"/><circle cx="862.8" cy="473.3" r="3.0"/><circle cx="862.8" cy="477.0" r="3.0"/><circle cx="862.8" cy="480.8" r="3.0"/><circle cx="862.8" cy="484.5" r="3.0"/><circle cx="862.8" cy="488.2" r="3.0"/><circle cx="862.8" cy="491.9" r="3.0"/><circle cx="862.8" cy="495.7" r="3.0"/><circle cx="862.8" cy="499.4" r="3.0"/><circle cx="862.8" cy="503.1" r="3.0"/><circle cx="862.8" cy="506.8" r="3.0"/><circle cx="862.8" cy="510.5" r="3.0"/><circle cx="862.8" cy="514.3" r="3.0"/><circle cx="862.8" cy="518.0" r="3.0"/><circle cx="862.8" cy="521.7" r="3.0"/><circle cx="862.8" cy="525.4" r="3.0"/><circle cx="862.8" cy="529.1" r="3.0"/><circle cx="862.8" cy="532.9" r="3.0"/><circle cx="862.8" cy="536.6" r="3.0"/><circle cx="862.8" cy="540.3" r="3.0"/><circle cx="862.8" cy="565.8" r="3.0"/></g>
<line x1="862.8" y1="412.0" x2="862.8" y2="566.7" stroke="#595959" stroke-width="1" stroke-opacity="0.28"/>
<rect x="849.9" y="464.2" width="25.8" height="18.3" fill="#D0D0D0" fill-opacity="0.66"/>
<rect x="849.9" y="482.5" width="25.8" height="24.2" fill="#9D9D9D" fill-opacity="0.675"/>
<line x1="849.9" y1="412.0" x2="875.7" y2="412.0" stroke="#595959" stroke-width="1.5"/>
<line x1="849.9" y1="464.2" x2="875.7" y2="464.2" stroke="#595959" stroke-width="1.5"/>
<line x1="849.9" y1="506.7" x2="875.7" y2="506.7" stroke="#595959" stroke-width="1.5"/>
<line x1="849.9" y1="566.7" x2="875.7" y2="566.7" stroke="#595959" stroke-width="1.5"/>
<line x1="915.0" y1="440.0" x2="915.0" y2="510.3" stroke="#595959" stroke-width="1.1" stroke-opacity="0.85"/>
<g fill="#ECDC2A"><circle cx="915.0" cy="425.8" r="3.0"/><circle cx="915.0" cy="440.0" r="3.0"/><circle cx="915.0" cy="451.3" r="3.0"/><circle cx="915.0" cy="455.0" r="3.0"/><circle cx="915.0" cy="458.6" r="3.0"/><circle cx="915.0" cy="462.3" r="3.0"/><circle cx="915.0" cy="466.0" r="3.0"/><circle cx="915.0" cy="469.6" r="3.0"/><circle cx="915.0" cy="473.3" r="3.0"/><circle cx="915.0" cy="477.0" r="3.0"/><circle cx="915.0" cy="480.6" r="3.0"/><circle cx="915.0" cy="484.3" r="3.0"/><circle cx="915.0" cy="488.0" r="3.0"/><circle cx="915.0" cy="491.6" r="3.0"/><circle cx="915.0" cy="495.3" r="3.0"/><circle cx="915.0" cy="511.7" r="3.0"/><circle cx="915.0" cy="533.3" r="3.0"/></g>
<line x1="915.0" y1="440.0" x2="915.0" y2="510.3" stroke="#595959" stroke-width="1" stroke-opacity="0.28"/>
<rect x="902.1" y="459.2" width="25.8" height="12.1" fill="#D0D0D0" fill-opacity="0.66"/>
<rect x="902.1" y="471.3" width="25.8" height="9.2" fill="#9D9D9D" fill-opacity="0.675"/>
<line x1="902.1" y1="440.0" x2="927.9" y2="440.0" stroke="#595959" stroke-width="1.5"/>
<line x1="902.1" y1="459.2" x2="927.9" y2="459.2" stroke="#595959" stroke-width="1.5"/>
<line x1="902.1" y1="480.5" x2="927.9" y2="480.5" stroke="#595959" stroke-width="1.5"/>
<line x1="902.1" y1="510.3" x2="927.9" y2="510.3" stroke="#595959" stroke-width="1.5"/>
<line x1="967.5" y1="422.8" x2="967.5" y2="467.0" stroke="#595959" stroke-width="1.1" stroke-opacity="0.85"/>
<g fill="#A8449A"><circle cx="967.5" cy="422.8" r="3.0"/><circle cx="967.5" cy="432.1" r="3.0"/><circle cx="967.5" cy="440.5" r="3.0"/><circle cx="967.5" cy="444.0" r="3.0"/><circle cx="967.5" cy="447.4" r="3.0"/><circle cx="967.5" cy="450.9" r="3.0"/><circle cx="967.5" cy="454.3" r="3.0"/><circle cx="967.5" cy="457.8" r="3.0"/><circle cx="967.5" cy="467.5" r="3.0"/></g>
<line x1="967.5" y1="422.8" x2="967.5" y2="467.0" stroke="#595959" stroke-width="1" stroke-opacity="0.28"/>
<rect x="954.6" y="437.0" width="25.8" height="8.0" fill="#D0D0D0" fill-opacity="0.66"/>
<rect x="954.6" y="445.0" width="25.8" height="6.7" fill="#9D9D9D" fill-opacity="0.675"/>
<line x1="954.6" y1="422.8" x2="980.4" y2="422.8" stroke="#595959" stroke-width="1.5"/>
<line x1="954.6" y1="437.0" x2="980.4" y2="437.0" stroke="#595959" stroke-width="1.5"/>
<line x1="954.6" y1="451.7" x2="980.4" y2="451.7" stroke="#595959" stroke-width="1.5"/>
<line x1="954.6" y1="467.0" x2="980.4" y2="467.0" stroke="#595959" stroke-width="1.5"/>
<line x1="151.5" y1="757.3" x2="151.5" y2="899.0" stroke="#595959" stroke-width="1.1" stroke-opacity="0.85"/>
<g fill="#56B0E3"><circle cx="151.5" cy="756.9" r="3.0"/><circle cx="151.5" cy="764.1" r="3.0"/><circle cx="151.5" cy="775.0" r="3.0"/><circle cx="151.5" cy="778.6" r="3.0"/><circle cx="151.5" cy="782.2" r="3.0"/><circle cx="151.5" cy="785.8" r="3.0"/><circle cx="151.5" cy="789.4" r="3.0"/><circle cx="151.5" cy="793.0" r="3.0"/><circle cx="151.5" cy="796.6" r="3.0"/><circle cx="151.5" cy="800.2" r="3.0"/><circle cx="151.5" cy="803.8" r="3.0"/><circle cx="151.5" cy="807.4" r="3.0"/><circle cx="151.5" cy="811.0" r="3.0"/><circle cx="151.5" cy="814.6" r="3.0"/><circle cx="151.5" cy="818.2" r="3.0"/><circle cx="151.5" cy="821.8" r="3.0"/><circle cx="151.5" cy="825.4" r="3.0"/><circle cx="151.5" cy="829.0" r="3.0"/><circle cx="151.5" cy="845.4" r="3.0"/><circle cx="151.5" cy="848.5" r="3.0"/><circle cx="151.5" cy="851.7" r="3.0"/><circle cx="151.5" cy="867.1" r="3.0"/><circle cx="151.5" cy="883.5" r="3.0"/><circle cx="151.5" cy="892.7" r="3.0"/><circle cx="151.5" cy="897.0" r="3.0"/></g>
<line x1="151.5" y1="757.3" x2="151.5" y2="899.0" stroke="#595959" stroke-width="1" stroke-opacity="0.28"/>
<rect x="134.6" y="788.8" width="33.8" height="56.6" fill="#D0D0D0" fill-opacity="0.66"/>
<rect x="134.6" y="845.4" width="33.8" height="48.8" fill="#9D9D9D" fill-opacity="0.675"/>
<line x1="134.6" y1="757.3" x2="168.4" y2="757.3" stroke="#595959" stroke-width="1.5"/>
<line x1="134.6" y1="788.8" x2="168.4" y2="788.8" stroke="#595959" stroke-width="1.5"/>
<line x1="134.6" y1="894.2" x2="168.4" y2="894.2" stroke="#595959" stroke-width="1.5"/>
<line x1="134.6" y1="899.0" x2="168.4" y2="899.0" stroke="#595959" stroke-width="1.5"/>
<line x1="220.5" y1="744.6" x2="220.5" y2="899.6" stroke="#595959" stroke-width="1.1" stroke-opacity="0.85"/>
<g fill="#E39E0C"><circle cx="220.5" cy="747.6" r="3.0"/><circle cx="220.5" cy="751.3" r="3.0"/><circle cx="220.5" cy="754.9" r="3.0"/><circle cx="220.5" cy="758.6" r="3.0"/><circle cx="220.5" cy="762.3" r="3.0"/><circle cx="220.5" cy="765.9" r="3.0"/><circle cx="220.5" cy="769.6" r="3.0"/><circle cx="220.5" cy="773.3" r="3.0"/><circle cx="220.5" cy="776.9" r="3.0"/><circle cx="220.5" cy="780.6" r="3.0"/><circle cx="220.5" cy="784.3" r="3.0"/><circle cx="220.5" cy="788.0" r="3.0"/><circle cx="220.5" cy="791.6" r="3.0"/><circle cx="220.5" cy="795.3" r="3.0"/><circle cx="220.5" cy="799.0" r="3.0"/><circle cx="220.5" cy="802.6" r="3.0"/><circle cx="220.5" cy="806.3" r="3.0"/><circle cx="220.5" cy="810.0" r="3.0"/><circle cx="220.5" cy="813.6" r="3.0"/><circle cx="220.5" cy="817.3" r="3.0"/><circle cx="220.5" cy="821.0" r="3.0"/><circle cx="220.5" cy="824.6" r="3.0"/><circle cx="220.5" cy="828.3" r="3.0"/><circle cx="220.5" cy="832.0" r="3.0"/><circle cx="220.5" cy="835.6" r="3.0"/><circle cx="220.5" cy="839.3" r="3.0"/><circle cx="220.5" cy="843.0" r="3.0"/><circle cx="220.5" cy="846.6" r="3.0"/><circle cx="220.5" cy="850.3" r="3.0"/><circle cx="220.5" cy="854.0" r="3.0"/><circle cx="220.5" cy="857.6" r="3.0"/><circle cx="220.5" cy="861.3" r="3.0"/><circle cx="220.5" cy="865.0" r="3.0"/><circle cx="220.5" cy="868.7" r="3.0"/><circle cx="220.5" cy="872.3" r="3.0"/><circle cx="220.5" cy="876.0" r="3.0"/><circle cx="220.5" cy="879.7" r="3.0"/><circle cx="220.5" cy="883.3" r="3.0"/><circle cx="220.5" cy="887.0" r="3.0"/><circle cx="220.5" cy="890.7" r="3.0"/><circle cx="220.5" cy="894.3" r="3.0"/><circle cx="220.5" cy="898.0" r="3.0"/></g>
<line x1="220.5" y1="744.6" x2="220.5" y2="899.6" stroke="#595959" stroke-width="1" stroke-opacity="0.28"/>
<rect x="203.6" y="786.4" width="33.8" height="48.8" fill="#D0D0D0" fill-opacity="0.66"/>
<rect x="203.6" y="835.2" width="33.8" height="53.5" fill="#9D9D9D" fill-opacity="0.675"/>
<line x1="203.6" y1="744.6" x2="237.4" y2="744.6" stroke="#595959" stroke-width="1.5"/>
<line x1="203.6" y1="786.4" x2="237.4" y2="786.4" stroke="#595959" stroke-width="1.5"/>
<line x1="203.6" y1="888.7" x2="237.4" y2="888.7" stroke="#595959" stroke-width="1.5"/>
<line x1="203.6" y1="899.6" x2="237.4" y2="899.6" stroke="#595959" stroke-width="1.5"/>
<line x1="289.6" y1="772.4" x2="289.6" y2="896.8" stroke="#595959" stroke-width="1.1" stroke-opacity="0.85"/>
<g fill="#8CC9EC"><circle cx="289.6" cy="774.2" r="3.0"/><circle cx="289.6" cy="776.1" r="3.0"/><circle cx="289.6" cy="785.9" r="3.0"/><circle cx="289.6" cy="789.3" r="3.0"/><circle cx="289.6" cy="808.4" r="3.0"/><circle cx="289.6" cy="824.2" r="3.0"/><circle cx="289.6" cy="844.5" r="3.0"/><circle cx="289.6" cy="892.6" r="3.0"/><circle cx="289.6" cy="895.6" r="3.0"/></g>
<line x1="289.6" y1="772.4" x2="289.6" y2="896.8" stroke="#595959" stroke-width="1" stroke-opacity="0.28"/>
<rect x="276.3" y="787.0" width="26.6" height="47.8" fill="#D0D0D0" fill-opacity="0.66"/>
<rect x="276.3" y="834.8" width="26.6" height="59.8" fill="#9D9D9D" fill-opacity="0.675"/>
<line x1="276.3" y1="772.4" x2="302.9" y2="772.4" stroke="#595959" stroke-width="1.5"/>
<line x1="276.3" y1="787.0" x2="302.9" y2="787.0" stroke="#595959" stroke-width="1.5"/>
<line x1="276.3" y1="894.6" x2="302.9" y2="894.6" stroke="#595959" stroke-width="1.5"/>
<line x1="276.3" y1="896.8" x2="302.9" y2="896.8" stroke="#595959" stroke-width="1.5"/>
<line x1="343.7" y1="764.5" x2="343.7" y2="899.3" stroke="#595959" stroke-width="1.1" stroke-opacity="0.85"/>
<g fill="#D9C46E"><circle cx="343.7" cy="767.5" r="3.0"/><circle cx="343.7" cy="771.6" r="3.0"/><circle cx="343.7" cy="775.8" r="3.0"/><circle cx="343.7" cy="779.9" r="3.0"/><circle cx="343.7" cy="784.0" r="3.0"/><circle cx="343.7" cy="793.8" r="3.0"/><circle cx="343.7" cy="800.5" r="3.0"/><circle cx="343.7" cy="823.8" r="3.0"/><circle cx="343.7" cy="826.9" r="3.0"/><circle cx="343.7" cy="850.9" r="3.0"/><circle cx="343.7" cy="855.0" r="3.0"/><circle cx="343.7" cy="863.7" r="3.0"/><circle cx="343.7" cy="891.5" r="3.0"/><circle cx="343.7" cy="894.7" r="3.0"/><circle cx="343.7" cy="897.9" r="3.0"/></g>
<line x1="343.7" y1="764.5" x2="343.7" y2="899.3" stroke="#595959" stroke-width="1" stroke-opacity="0.28"/>
<rect x="330.2" y="789.7" width="27.0" height="58.9" fill="#D0D0D0" fill-opacity="0.66"/>
<rect x="330.2" y="848.6" width="27.0" height="45.1" fill="#9D9D9D" fill-opacity="0.675"/>
<line x1="330.2" y1="764.5" x2="357.2" y2="764.5" stroke="#595959" stroke-width="1.5"/>
<line x1="330.2" y1="789.7" x2="357.2" y2="789.7" stroke="#595959" stroke-width="1.5"/>
<line x1="330.2" y1="893.7" x2="357.2" y2="893.7" stroke="#595959" stroke-width="1.5"/>
<line x1="330.2" y1="899.3" x2="357.2" y2="899.3" stroke="#595959" stroke-width="1.5"/>
<line x1="397.8" y1="757.2" x2="397.8" y2="898.6" stroke="#595959" stroke-width="1.1" stroke-opacity="0.85"/>
<g fill="#0A72B0"><circle cx="397.8" cy="757.2" r="3.0"/><circle cx="397.8" cy="764.0" r="3.0"/><circle cx="397.8" cy="775.4" r="3.0"/><circle cx="397.8" cy="779.7" r="3.0"/><circle cx="397.8" cy="784.0" r="3.0"/><circle cx="397.8" cy="795.6" r="3.0"/><circle cx="397.8" cy="799.4" r="3.0"/><circle cx="397.8" cy="803.3" r="3.0"/><circle cx="397.8" cy="807.1" r="3.0"/><circle cx="397.8" cy="811.0" r="3.0"/><circle cx="397.8" cy="814.8" r="3.0"/><circle cx="397.8" cy="818.7" r="3.0"/><circle cx="397.8" cy="822.5" r="3.0"/><circle cx="397.8" cy="826.4" r="3.0"/><circle cx="397.8" cy="830.2" r="3.0"/><circle cx="397.8" cy="848.6" r="3.0"/><circle cx="397.8" cy="849.4" r="3.0"/><circle cx="397.8" cy="866.6" r="3.0"/><circle cx="397.8" cy="884.0" r="3.0"/><circle cx="397.8" cy="894.9" r="3.0"/><circle cx="397.8" cy="896.8" r="3.0"/></g>
<line x1="397.8" y1="757.2" x2="397.8" y2="898.6" stroke="#595959" stroke-width="1" stroke-opacity="0.28"/>
<rect x="384.7" y="788.8" width="26.2" height="59.8" fill="#D0D0D0" fill-opacity="0.66"/>
<rect x="384.7" y="848.6" width="26.2" height="46.0" fill="#9D9D9D" fill-opacity="0.675"/>
<line x1="384.7" y1="757.2" x2="410.9" y2="757.2" stroke="#595959" stroke-width="1.5"/>
<line x1="384.7" y1="788.8" x2="410.9" y2="788.8" stroke="#595959" stroke-width="1.5"/>
<line x1="384.7" y1="894.6" x2="410.9" y2="894.6" stroke="#595959" stroke-width="1.5"/>
<line x1="384.7" y1="898.6" x2="410.9" y2="898.6" stroke="#595959" stroke-width="1.5"/>
<line x1="451.9" y1="744.6" x2="451.9" y2="897.5" stroke="#595959" stroke-width="1.1" stroke-opacity="0.85"/>
<g fill="#9A9A33"><circle cx="451.9" cy="747.6" r="3.0"/><circle cx="451.9" cy="751.1" r="3.0"/><circle cx="451.9" cy="754.7" r="3.0"/><circle cx="451.9" cy="758.2" r="3.0"/><circle cx="451.9" cy="761.8" r="3.0"/><circle cx="451.9" cy="765.3" r="3.0"/><circle cx="451.9" cy="768.9" r="3.0"/><circle cx="451.9" cy="772.4" r="3.0"/><circle cx="451.9" cy="776.0" r="3.0"/><circle cx="451.9" cy="779.5" r="3.0"/><circle cx="451.9" cy="789.3" r="3.0"/><circle cx="451.9" cy="796.0" r="3.0"/><circle cx="451.9" cy="805.8" r="3.0"/><circle cx="451.9" cy="809.6" r="3.0"/><circle cx="451.9" cy="813.5" r="3.0"/><circle cx="451.9" cy="817.4" r="3.0"/><circle cx="451.9" cy="821.2" r="3.0"/><circle cx="451.9" cy="832.9" r="3.0"/><circle cx="451.9" cy="837.2" r="3.0"/><circle cx="451.9" cy="841.5" r="3.0"/><circle cx="451.9" cy="852.0" r="3.0"/><circle cx="451.9" cy="866.7" r="3.0"/><circle cx="451.9" cy="870.8" r="3.0"/><circle cx="451.9" cy="883.6" r="3.0"/><circle cx="451.9" cy="887.6" r="3.0"/><circle cx="451.9" cy="891.6" r="3.0"/><circle cx="451.9" cy="895.6" r="3.0"/></g>
<line x1="451.9" y1="744.6" x2="451.9" y2="897.5" stroke="#595959" stroke-width="1" stroke-opacity="0.28"/>
<rect x="438.6" y="784.8" width="26.6" height="48.9" fill="#D0D0D0" fill-opacity="0.66"/>
<rect x="438.6" y="833.7" width="26.6" height="45.8" fill="#9D9D9D" fill-opacity="0.675"/>
<line x1="438.6" y1="744.6" x2="465.2" y2="744.6" stroke="#595959" stroke-width="1.5"/>
<line x1="438.6" y1="784.8" x2="465.2" y2="784.8" stroke="#595959" stroke-width="1.5"/>
<line x1="438.6" y1="879.5" x2="465.2" y2="879.5" stroke="#595959" stroke-width="1.5"/>
<line x1="438.6" y1="897.5" x2="465.2" y2="897.5" stroke="#595959" stroke-width="1.5"/>
<line x1="519.5" y1="744.4" x2="519.5" y2="899.5" stroke="#595959" stroke-width="1.1" stroke-opacity="0.85"/>
<g fill="#17A07A"><circle cx="519.5" cy="744.4" r="3.0"/><circle cx="519.5" cy="757.8" r="3.0"/><circle cx="519.5" cy="761.5" r="3.0"/><circle cx="519.5" cy="765.2" r="3.0"/><circle cx="519.5" cy="768.9" r="3.0"/><circle cx="519.5" cy="772.6" r="3.0"/><circle cx="519.5" cy="776.3" r="3.0"/><circle cx="519.5" cy="780.0" r="3.0"/><circle cx="519.5" cy="783.7" r="3.0"/><circle cx="519.5" cy="787.4" r="3.0"/><circle cx="519.5" cy="791.1" r="3.0"/><circle cx="519.5" cy="794.8" r="3.0"/><circle cx="519.5" cy="798.5" r="3.0"/><circle cx="519.5" cy="802.2" r="3.0"/><circle cx="519.5" cy="805.8" r="3.0"/><circle cx="519.5" cy="809.5" r="3.0"/><circle cx="519.5" cy="813.2" r="3.0"/><circle cx="519.5" cy="816.9" r="3.0"/><circle cx="519.5" cy="820.6" r="3.0"/><circle cx="519.5" cy="824.3" r="3.0"/><circle cx="519.5" cy="828.0" r="3.0"/><circle cx="519.5" cy="831.7" r="3.0"/><circle cx="519.5" cy="835.4" r="3.0"/><circle cx="519.5" cy="839.1" r="3.0"/><circle cx="519.5" cy="842.8" r="3.0"/><circle cx="519.5" cy="846.5" r="3.0"/><circle cx="519.5" cy="850.2" r="3.0"/><circle cx="519.5" cy="865.2" r="3.0"/><circle cx="519.5" cy="869.0" r="3.0"/><circle cx="519.5" cy="872.8" r="3.0"/><circle cx="519.5" cy="876.6" r="3.0"/><circle cx="519.5" cy="880.4" r="3.0"/><circle cx="519.5" cy="884.2" r="3.0"/><circle cx="519.5" cy="888.0" r="3.0"/><circle cx="519.5" cy="891.8" r="3.0"/><circle cx="519.5" cy="895.6" r="3.0"/><circle cx="519.5" cy="899.4" r="3.0"/></g>
<line x1="519.5" y1="744.4" x2="519.5" y2="899.5" stroke="#595959" stroke-width="1" stroke-opacity="0.28"/>
<rect x="502.9" y="797.8" width="33.2" height="46.9" fill="#D0D0D0" fill-opacity="0.66"/>
<rect x="502.9" y="844.7" width="33.2" height="48.0" fill="#9D9D9D" fill-opacity="0.675"/>
<line x1="502.9" y1="744.4" x2="536.1" y2="744.4" stroke="#595959" stroke-width="1.5"/>
<line x1="502.9" y1="797.8" x2="536.1" y2="797.8" stroke="#595959" stroke-width="1.5"/>
<line x1="502.9" y1="892.7" x2="536.1" y2="892.7" stroke="#595959" stroke-width="1.5"/>
<line x1="502.9" y1="899.5" x2="536.1" y2="899.5" stroke="#595959" stroke-width="1.5"/>
<line x1="586.3" y1="752.3" x2="586.3" y2="897.2" stroke="#595959" stroke-width="1.1" stroke-opacity="0.85"/>
<g fill="#D5620A"><circle cx="586.3" cy="754.8" r="3.0"/><circle cx="586.3" cy="756.3" r="3.0"/><circle cx="586.3" cy="766.0" r="3.0"/><circle cx="586.3" cy="769.6" r="3.0"/><circle cx="586.3" cy="773.2" r="3.0"/><circle cx="586.3" cy="776.8" r="3.0"/><circle cx="586.3" cy="780.5" r="3.0"/><circle cx="586.3" cy="784.1" r="3.0"/><circle cx="586.3" cy="787.7" r="3.0"/><circle cx="586.3" cy="791.3" r="3.0"/><circle cx="586.3" cy="794.9" r="3.0"/><circle cx="586.3" cy="798.5" r="3.0"/><circle cx="586.3" cy="802.1" r="3.0"/><circle cx="586.3" cy="805.8" r="3.0"/><circle cx="586.3" cy="809.4" r="3.0"/><circle cx="586.3" cy="813.0" r="3.0"/><circle cx="586.3" cy="816.6" r="3.0"/><circle cx="586.3" cy="820.2" r="3.0"/><circle cx="586.3" cy="823.8" r="3.0"/><circle cx="586.3" cy="827.5" r="3.0"/><circle cx="586.3" cy="831.1" r="3.0"/><circle cx="586.3" cy="834.7" r="3.0"/><circle cx="586.3" cy="838.3" r="3.0"/><circle cx="586.3" cy="850.3" r="3.0"/><circle cx="586.3" cy="851.7" r="3.0"/><circle cx="586.3" cy="865.2" r="3.0"/><circle cx="586.3" cy="872.6" r="3.0"/><circle cx="586.3" cy="895.7" r="3.0"/></g>
<line x1="586.3" y1="752.3" x2="586.3" y2="897.2" stroke="#595959" stroke-width="1" stroke-opacity="0.28"/>
<rect x="570.0" y="779.1" width="32.6" height="49.8" fill="#D0D0D0" fill-opacity="0.66"/>
<rect x="570.0" y="828.9" width="32.6" height="64.6" fill="#9D9D9D" fill-opacity="0.675"/>
<line x1="570.0" y1="752.3" x2="602.6" y2="752.3" stroke="#595959" stroke-width="1.5"/>
<line x1="570.0" y1="779.1" x2="602.6" y2="779.1" stroke="#595959" stroke-width="1.5"/>
<line x1="570.0" y1="893.5" x2="602.6" y2="893.5" stroke="#595959" stroke-width="1.5"/>
<line x1="570.0" y1="897.2" x2="602.6" y2="897.2" stroke="#595959" stroke-width="1.5"/>
<line x1="651.9" y1="752.2" x2="651.9" y2="896.3" stroke="#595959" stroke-width="1.1" stroke-opacity="0.85"/>
<g fill="#C9697F"><circle cx="651.9" cy="754.8" r="3.0"/><circle cx="651.9" cy="758.5" r="3.0"/><circle cx="651.9" cy="762.2" r="3.0"/><circle cx="651.9" cy="765.9" r="3.0"/><circle cx="651.9" cy="769.7" r="3.0"/><circle cx="651.9" cy="773.4" r="3.0"/><circle cx="651.9" cy="777.1" r="3.0"/><circle cx="651.9" cy="780.8" r="3.0"/><circle cx="651.9" cy="784.5" r="3.0"/><circle cx="651.9" cy="788.2" r="3.0"/><circle cx="651.9" cy="791.9" r="3.0"/><circle cx="651.9" cy="795.6" r="3.0"/><circle cx="651.9" cy="799.4" r="3.0"/><circle cx="651.9" cy="803.1" r="3.0"/><circle cx="651.9" cy="806.8" r="3.0"/><circle cx="651.9" cy="810.5" r="3.0"/><circle cx="651.9" cy="824.8" r="3.0"/><circle cx="651.9" cy="828.6" r="3.0"/><circle cx="651.9" cy="832.5" r="3.0"/><circle cx="651.9" cy="836.3" r="3.0"/><circle cx="651.9" cy="840.2" r="3.0"/><circle cx="651.9" cy="844.0" r="3.0"/><circle cx="651.9" cy="847.9" r="3.0"/><circle cx="651.9" cy="851.7" r="3.0"/><circle cx="651.9" cy="865.0" r="3.0"/><circle cx="651.9" cy="872.8" r="3.0"/><circle cx="651.9" cy="895.8" r="3.0"/></g>
<line x1="651.9" y1="752.2" x2="651.9" y2="896.3" stroke="#595959" stroke-width="1" stroke-opacity="0.28"/>
<rect x="640.1" y="776.9" width="23.6" height="40.7" fill="#D0D0D0" fill-opacity="0.66"/>
<rect x="640.1" y="817.6" width="23.6" height="75.8" fill="#9D9D9D" fill-opacity="0.675"/>
<line x1="640.1" y1="752.2" x2="663.7" y2="752.2" stroke="#595959" stroke-width="1.5"/>
<line x1="640.1" y1="776.9" x2="663.7" y2="776.9" stroke="#595959" stroke-width="1.5"/>
<line x1="640.1" y1="893.4" x2="663.7" y2="893.4" stroke="#595959" stroke-width="1.5"/>
<line x1="640.1" y1="896.3" x2="663.7" y2="896.3" stroke="#595959" stroke-width="1.5"/>
<line x1="701.9" y1="772.4" x2="701.9" y2="896.9" stroke="#595959" stroke-width="1.1" stroke-opacity="0.85"/>
<g fill="#6A1510"><circle cx="701.9" cy="773.8" r="3.0"/><circle cx="701.9" cy="789.9" r="3.0"/><circle cx="701.9" cy="796.0" r="3.0"/><circle cx="701.9" cy="817.6" r="3.0"/><circle cx="701.9" cy="829.0" r="3.0"/><circle cx="701.9" cy="833.1" r="3.0"/><circle cx="701.9" cy="852.7" r="3.0"/><circle cx="701.9" cy="866.7" r="3.0"/><circle cx="701.9" cy="896.9" r="3.0"/></g>
<line x1="701.9" y1="772.4" x2="701.9" y2="896.9" stroke="#595959" stroke-width="1" stroke-opacity="0.28"/>
<rect x="690.1" y="794.4" width="23.6" height="38.1" fill="#D0D0D0" fill-opacity="0.66"/>
<rect x="690.1" y="832.5" width="23.6" height="63.8" fill="#9D9D9D" fill-opacity="0.675"/>
<line x1="690.1" y1="772.4" x2="713.7" y2="772.4" stroke="#595959" stroke-width="1.5"/>
<line x1="690.1" y1="794.4" x2="713.7" y2="794.4" stroke="#595959" stroke-width="1.5"/>
<line x1="690.1" y1="896.3" x2="713.7" y2="896.3" stroke="#595959" stroke-width="1.5"/>
<line x1="690.1" y1="896.9" x2="713.7" y2="896.9" stroke="#595959" stroke-width="1.5"/>
<line x1="751.3" y1="744.6" x2="751.3" y2="899.6" stroke="#595959" stroke-width="1.1" stroke-opacity="0.85"/>
<g fill="#1A7A3C"><circle cx="751.3" cy="745.2" r="3.0"/><circle cx="751.3" cy="765.0" r="3.0"/><circle cx="751.3" cy="768.9" r="3.0"/><circle cx="751.3" cy="772.9" r="3.0"/><circle cx="751.3" cy="776.8" r="3.0"/><circle cx="751.3" cy="780.7" r="3.0"/><circle cx="751.3" cy="796.0" r="3.0"/><circle cx="751.3" cy="809.3" r="3.0"/><circle cx="751.3" cy="813.1" r="3.0"/><circle cx="751.3" cy="817.0" r="3.0"/><circle cx="751.3" cy="820.8" r="3.0"/><circle cx="751.3" cy="833.0" r="3.0"/><circle cx="751.3" cy="836.3" r="3.0"/><circle cx="751.3" cy="839.7" r="3.0"/><circle cx="751.3" cy="843.0" r="3.0"/><circle cx="751.3" cy="846.4" r="3.0"/><circle cx="751.3" cy="849.7" r="3.0"/><circle cx="751.3" cy="867.0" r="3.0"/><circle cx="751.3" cy="870.4" r="3.0"/><circle cx="751.3" cy="873.8" r="3.0"/><circle cx="751.3" cy="877.1" r="3.0"/><circle cx="751.3" cy="880.5" r="3.0"/><circle cx="751.3" cy="892.7" r="3.0"/><circle cx="751.3" cy="898.0" r="3.0"/></g>
<line x1="751.3" y1="744.6" x2="751.3" y2="899.6" stroke="#595959" stroke-width="1" stroke-opacity="0.28"/>
<rect x="739.5" y="811.1" width="23.6" height="32.9" fill="#D0D0D0" fill-opacity="0.66"/>
<rect x="739.5" y="844.0" width="23.6" height="44.7" fill="#9D9D9D" fill-opacity="0.675"/>
<line x1="739.5" y1="744.6" x2="763.1" y2="744.6" stroke="#595959" stroke-width="1.5"/>
<line x1="739.5" y1="811.1" x2="763.1" y2="811.1" stroke="#595959" stroke-width="1.5"/>
<line x1="739.5" y1="888.7" x2="763.1" y2="888.7" stroke="#595959" stroke-width="1.5"/>
<line x1="739.5" y1="899.6" x2="763.1" y2="899.6" stroke="#595959" stroke-width="1.5"/>
<line x1="801.1" y1="757.3" x2="801.1" y2="898.6" stroke="#595959" stroke-width="1.1" stroke-opacity="0.85"/>
<g fill="#47AA9A"><circle cx="801.1" cy="757.3" r="3.0"/><circle cx="801.1" cy="764.1" r="3.0"/><circle cx="801.1" cy="778.4" r="3.0"/><circle cx="801.1" cy="782.1" r="3.0"/><circle cx="801.1" cy="785.8" r="3.0"/><circle cx="801.1" cy="800.8" r="3.0"/><circle cx="801.1" cy="810.0" r="3.0"/><circle cx="801.1" cy="823.8" r="3.0"/><circle cx="801.1" cy="831.6" r="3.0"/><circle cx="801.1" cy="847.4" r="3.0"/><circle cx="801.1" cy="848.6" r="3.0"/><circle cx="801.1" cy="883.5" r="3.0"/><circle cx="801.1" cy="892.7" r="3.0"/><circle cx="801.1" cy="897.0" r="3.0"/></g>
<line x1="801.1" y1="757.3" x2="801.1" y2="898.6" stroke="#595959" stroke-width="1" stroke-opacity="0.28"/>
<rect x="789.3" y="788.8" width="23.6" height="57.7" fill="#D0D0D0" fill-opacity="0.66"/>
<rect x="789.3" y="846.5" width="23.6" height="47.7" fill="#9D9D9D" fill-opacity="0.675"/>
<line x1="789.3" y1="757.3" x2="812.9" y2="757.3" stroke="#595959" stroke-width="1.5"/>
<line x1="789.3" y1="788.8" x2="812.9" y2="788.8" stroke="#595959" stroke-width="1.5"/>
<line x1="789.3" y1="894.2" x2="812.9" y2="894.2" stroke="#595959" stroke-width="1.5"/>
<line x1="789.3" y1="898.6" x2="812.9" y2="898.6" stroke="#595959" stroke-width="1.5"/>
<line x1="860.0" y1="757.0" x2="860.0" y2="897.9" stroke="#595959" stroke-width="1.1" stroke-opacity="0.85"/>
<g fill="#8C8C8C"><circle cx="860.0" cy="759.2" r="3.0"/><circle cx="860.0" cy="762.9" r="3.0"/><circle cx="860.0" cy="766.7" r="3.0"/><circle cx="860.0" cy="770.4" r="3.0"/><circle cx="860.0" cy="774.1" r="3.0"/><circle cx="860.0" cy="777.9" r="3.0"/><circle cx="860.0" cy="781.6" r="3.0"/><circle cx="860.0" cy="785.3" r="3.0"/><circle cx="860.0" cy="789.1" r="3.0"/><circle cx="860.0" cy="792.8" r="3.0"/><circle cx="860.0" cy="796.6" r="3.0"/><circle cx="860.0" cy="800.3" r="3.0"/><circle cx="860.0" cy="804.0" r="3.0"/><circle cx="860.0" cy="807.8" r="3.0"/><circle cx="860.0" cy="811.5" r="3.0"/><circle cx="860.0" cy="815.2" r="3.0"/><circle cx="860.0" cy="819.0" r="3.0"/><circle cx="860.0" cy="822.7" r="3.0"/><circle cx="860.0" cy="826.4" r="3.0"/><circle cx="860.0" cy="830.2" r="3.0"/><circle cx="860.0" cy="833.9" r="3.0"/><circle cx="860.0" cy="837.6" r="3.0"/><circle cx="860.0" cy="841.4" r="3.0"/><circle cx="860.0" cy="845.1" r="3.0"/><circle cx="860.0" cy="848.8" r="3.0"/><circle cx="860.0" cy="852.6" r="3.0"/><circle cx="860.0" cy="856.3" r="3.0"/><circle cx="860.0" cy="860.0" r="3.0"/><circle cx="860.0" cy="863.8" r="3.0"/><circle cx="860.0" cy="867.5" r="3.0"/><circle cx="860.0" cy="871.3" r="3.0"/><circle cx="860.0" cy="875.0" r="3.0"/><circle cx="860.0" cy="878.7" r="3.0"/><circle cx="860.0" cy="882.5" r="3.0"/><circle cx="860.0" cy="886.2" r="3.0"/><circle cx="860.0" cy="889.9" r="3.0"/><circle cx="860.0" cy="893.7" r="3.0"/><circle cx="860.0" cy="897.4" r="3.0"/></g>
<line x1="860.0" y1="757.0" x2="860.0" y2="897.9" stroke="#595959" stroke-width="1" stroke-opacity="0.28"/>
<rect x="847.0" y="788.7" width="26.0" height="59.1" fill="#D0D0D0" fill-opacity="0.66"/>
<rect x="847.0" y="847.8" width="26.0" height="46.3" fill="#9D9D9D" fill-opacity="0.675"/>
<line x1="847.0" y1="757.0" x2="873.0" y2="757.0" stroke="#595959" stroke-width="1.5"/>
<line x1="847.0" y1="788.7" x2="873.0" y2="788.7" stroke="#595959" stroke-width="1.5"/>
<line x1="847.0" y1="894.1" x2="873.0" y2="894.1" stroke="#595959" stroke-width="1.5"/>
<line x1="847.0" y1="897.9" x2="873.0" y2="897.9" stroke="#595959" stroke-width="1.5"/>
<line x1="913.7" y1="745.2" x2="913.7" y2="896.5" stroke="#595959" stroke-width="1.1" stroke-opacity="0.85"/>
<g fill="#ECDC2A"><circle cx="913.7" cy="746.5" r="3.0"/><circle cx="913.7" cy="750.2" r="3.0"/><circle cx="913.7" cy="754.0" r="3.0"/><circle cx="913.7" cy="757.7" r="3.0"/><circle cx="913.7" cy="761.4" r="3.0"/><circle cx="913.7" cy="765.1" r="3.0"/><circle cx="913.7" cy="768.9" r="3.0"/><circle cx="913.7" cy="772.6" r="3.0"/><circle cx="913.7" cy="776.3" r="3.0"/><circle cx="913.7" cy="780.1" r="3.0"/><circle cx="913.7" cy="783.8" r="3.0"/><circle cx="913.7" cy="787.5" r="3.0"/><circle cx="913.7" cy="791.3" r="3.0"/><circle cx="913.7" cy="795.0" r="3.0"/><circle cx="913.7" cy="798.7" r="3.0"/><circle cx="913.7" cy="802.5" r="3.0"/><circle cx="913.7" cy="806.2" r="3.0"/><circle cx="913.7" cy="809.9" r="3.0"/><circle cx="913.7" cy="813.6" r="3.0"/><circle cx="913.7" cy="817.4" r="3.0"/><circle cx="913.7" cy="821.1" r="3.0"/><circle cx="913.7" cy="824.8" r="3.0"/><circle cx="913.7" cy="828.6" r="3.0"/><circle cx="913.7" cy="832.3" r="3.0"/><circle cx="913.7" cy="836.0" r="3.0"/><circle cx="913.7" cy="839.8" r="3.0"/><circle cx="913.7" cy="843.5" r="3.0"/><circle cx="913.7" cy="847.2" r="3.0"/><circle cx="913.7" cy="850.9" r="3.0"/><circle cx="913.7" cy="854.7" r="3.0"/><circle cx="913.7" cy="858.4" r="3.0"/><circle cx="913.7" cy="862.1" r="3.0"/><circle cx="913.7" cy="865.9" r="3.0"/><circle cx="913.7" cy="869.6" r="3.0"/><circle cx="913.7" cy="873.3" r="3.0"/><circle cx="913.7" cy="877.1" r="3.0"/><circle cx="913.7" cy="880.8" r="3.0"/><circle cx="913.7" cy="884.5" r="3.0"/><circle cx="913.7" cy="888.2" r="3.0"/><circle cx="913.7" cy="892.0" r="3.0"/><circle cx="913.7" cy="895.7" r="3.0"/></g>
<line x1="913.7" y1="745.2" x2="913.7" y2="896.5" stroke="#595959" stroke-width="1" stroke-opacity="0.28"/>
<rect x="900.7" y="784.5" width="26.0" height="48.9" fill="#D0D0D0" fill-opacity="0.66"/>
<rect x="900.7" y="833.4" width="26.0" height="49.3" fill="#9D9D9D" fill-opacity="0.675"/>
<line x1="900.7" y1="745.2" x2="926.7" y2="745.2" stroke="#595959" stroke-width="1.5"/>
<line x1="900.7" y1="784.5" x2="926.7" y2="784.5" stroke="#595959" stroke-width="1.5"/>
<line x1="900.7" y1="882.7" x2="926.7" y2="882.7" stroke="#595959" stroke-width="1.5"/>
<line x1="900.7" y1="896.5" x2="926.7" y2="896.5" stroke="#595959" stroke-width="1.5"/>
<line x1="967.1" y1="764.3" x2="967.1" y2="898.7" stroke="#595959" stroke-width="1.1" stroke-opacity="0.85"/>
<g fill="#A8449A"><circle cx="967.1" cy="765.0" r="3.0"/><circle cx="967.1" cy="776.8" r="3.0"/><circle cx="967.1" cy="786.6" r="3.0"/><circle cx="967.1" cy="815.7" r="3.0"/><circle cx="967.1" cy="819.8" r="3.0"/><circle cx="967.1" cy="853.2" r="3.0"/><circle cx="967.1" cy="897.5" r="3.0"/></g>
<line x1="967.1" y1="764.3" x2="967.1" y2="898.7" stroke="#595959" stroke-width="1" stroke-opacity="0.28"/>
<rect x="954.1" y="785.4" width="26.0" height="32.3" fill="#D0D0D0" fill-opacity="0.66"/>
<rect x="954.1" y="817.7" width="26.0" height="35.1" fill="#9D9D9D" fill-opacity="0.675"/>
<line x1="954.1" y1="764.3" x2="980.1" y2="764.3" stroke="#595959" stroke-width="1.5"/>
<line x1="954.1" y1="785.4" x2="980.1" y2="785.4" stroke="#595959" stroke-width="1.5"/>
<line x1="954.1" y1="852.8" x2="980.1" y2="852.8" stroke="#595959" stroke-width="1.5"/>
<line x1="954.1" y1="898.7" x2="980.1" y2="898.7" stroke="#595959" stroke-width="1.5"/>
<line x1="151.5" y1="1055.7" x2="151.5" y2="1081.7" stroke="#595959" stroke-width="1.1" stroke-opacity="0.85"/>
<g fill="#56B0E3"><circle cx="151.5" cy="1013.0" r="3.0"/><circle cx="151.5" cy="1014.2" r="3.0"/><circle cx="151.5" cy="1030.0" r="3.0"/><circle cx="151.5" cy="1037.8" r="3.0"/><circle cx="151.5" cy="1052.0" r="3.0"/><circle cx="151.5" cy="1055.6" r="3.0"/><circle cx="151.5" cy="1059.2" r="3.0"/><circle cx="151.5" cy="1062.9" r="3.0"/><circle cx="151.5" cy="1066.5" r="3.0"/><circle cx="151.5" cy="1070.1" r="3.0"/><circle cx="151.5" cy="1073.8" r="3.0"/><circle cx="151.5" cy="1077.4" r="3.0"/><circle cx="151.5" cy="1081.0" r="3.0"/></g>
<line x1="151.5" y1="1055.7" x2="151.5" y2="1081.7" stroke="#595959" stroke-width="1" stroke-opacity="0.28"/>
<rect x="134.6" y="1067.2" width="33.8" height="8.3" fill="#D0D0D0" fill-opacity="0.66"/>
<rect x="134.6" y="1075.5" width="33.8" height="0.8" fill="#9D9D9D" fill-opacity="0.675"/>
<line x1="134.6" y1="1055.7" x2="168.4" y2="1055.7" stroke="#595959" stroke-width="1.5"/>
<line x1="134.6" y1="1067.2" x2="168.4" y2="1067.2" stroke="#595959" stroke-width="1.5"/>
<line x1="134.6" y1="1076.3" x2="168.4" y2="1076.3" stroke="#595959" stroke-width="1.5"/>
<line x1="134.6" y1="1081.7" x2="168.4" y2="1081.7" stroke="#595959" stroke-width="1.5"/>
<line x1="220.5" y1="1040.9" x2="220.5" y2="1081.0" stroke="#595959" stroke-width="1.1" stroke-opacity="0.85"/>
<g fill="#E39E0C"><circle cx="220.5" cy="921.5" r="3.0"/><circle cx="220.5" cy="966.8" r="3.0"/><circle cx="220.5" cy="982.8" r="3.0"/><circle cx="220.5" cy="1013.1" r="3.0"/><circle cx="220.5" cy="1023.4" r="3.0"/><circle cx="220.5" cy="1034.8" r="3.0"/><circle cx="220.5" cy="1043.6" r="3.0"/><circle cx="220.5" cy="1052.2" r="3.0"/><circle cx="220.5" cy="1060.4" r="3.0"/><circle cx="220.5" cy="1063.8" r="3.0"/><circle cx="220.5" cy="1067.3" r="3.0"/><circle cx="220.5" cy="1070.7" r="3.0"/><circle cx="220.5" cy="1074.1" r="3.0"/><circle cx="220.5" cy="1077.6" r="3.0"/><circle cx="220.5" cy="1081.0" r="3.0"/></g>
<line x1="220.5" y1="1040.9" x2="220.5" y2="1081.0" stroke="#595959" stroke-width="1" stroke-opacity="0.28"/>
<rect x="203.6" y="1060.4" width="33.8" height="11.0" fill="#D0D0D0" fill-opacity="0.66"/>
<rect x="203.6" y="1071.4" width="33.8" height="4.1" fill="#9D9D9D" fill-opacity="0.675"/>
<line x1="203.6" y1="1040.9" x2="237.4" y2="1040.9" stroke="#595959" stroke-width="1.5"/>
<line x1="203.6" y1="1060.4" x2="237.4" y2="1060.4" stroke="#595959" stroke-width="1.5"/>
<line x1="203.6" y1="1075.5" x2="237.4" y2="1075.5" stroke="#595959" stroke-width="1.5"/>
<line x1="203.6" y1="1081.0" x2="237.4" y2="1081.0" stroke="#595959" stroke-width="1.5"/>
<line x1="289.6" y1="1066.9" x2="289.6" y2="1082.0" stroke="#595959" stroke-width="1.1" stroke-opacity="0.85"/>
<g fill="#8CC9EC"><circle cx="289.6" cy="1056.1" r="3.0"/><circle cx="289.6" cy="1069.2" r="3.0"/><circle cx="289.6" cy="1073.2" r="3.0"/><circle cx="289.6" cy="1077.3" r="3.0"/><circle cx="289.6" cy="1081.3" r="3.0"/></g>
<line x1="289.6" y1="1066.9" x2="289.6" y2="1082.0" stroke="#595959" stroke-width="1" stroke-opacity="0.28"/>
<rect x="276.3" y="1069.2" width="26.6" height="3.8" fill="#D0D0D0" fill-opacity="0.66"/>
<rect x="276.3" y="1073.0" width="26.6" height="2.7" fill="#9D9D9D" fill-opacity="0.675"/>
<line x1="276.3" y1="1066.9" x2="302.9" y2="1066.9" stroke="#595959" stroke-width="1.5"/>
<line x1="276.3" y1="1069.2" x2="302.9" y2="1069.2" stroke="#595959" stroke-width="1.5"/>
<line x1="276.3" y1="1075.7" x2="302.9" y2="1075.7" stroke="#595959" stroke-width="1.5"/>
<line x1="276.3" y1="1082.0" x2="302.9" y2="1082.0" stroke="#595959" stroke-width="1.5"/>
<line x1="343.7" y1="1043.2" x2="343.7" y2="1080.9" stroke="#595959" stroke-width="1.1" stroke-opacity="0.85"/>
<g fill="#D9C46E"><circle cx="343.7" cy="1035.8" r="3.0"/><circle cx="343.7" cy="1045.5" r="3.0"/><circle cx="343.7" cy="1048.6" r="3.0"/><circle cx="343.7" cy="1061.3" r="3.0"/><circle cx="343.7" cy="1065.3" r="3.0"/><circle cx="343.7" cy="1069.3" r="3.0"/><circle cx="343.7" cy="1073.3" r="3.0"/><circle cx="343.7" cy="1077.3" r="3.0"/><circle cx="343.7" cy="1081.3" r="3.0"/></g>
<line x1="343.7" y1="1043.2" x2="343.7" y2="1080.9" stroke="#595959" stroke-width="1" stroke-opacity="0.28"/>
<rect x="330.2" y="1060.6" width="27.0" height="14.6" fill="#D0D0D0" fill-opacity="0.66"/>
<rect x="330.2" y="1075.2" width="27.0" height="1.6" fill="#9D9D9D" fill-opacity="0.675"/>
<line x1="330.2" y1="1043.2" x2="357.2" y2="1043.2" stroke="#595959" stroke-width="1.5"/>
<line x1="330.2" y1="1060.6" x2="357.2" y2="1060.6" stroke="#595959" stroke-width="1.5"/>
<line x1="330.2" y1="1076.8" x2="357.2" y2="1076.8" stroke="#595959" stroke-width="1.5"/>
<line x1="330.2" y1="1080.9" x2="357.2" y2="1080.9" stroke="#595959" stroke-width="1.5"/>
<line x1="397.8" y1="1050.0" x2="397.8" y2="1082.0" stroke="#595959" stroke-width="1.1" stroke-opacity="0.85"/>
<g fill="#0A72B0"><circle cx="397.8" cy="1012.9" r="3.0"/><circle cx="397.8" cy="1013.6" r="3.0"/><circle cx="397.8" cy="1029.7" r="3.0"/><circle cx="397.8" cy="1037.6" r="3.0"/><circle cx="397.8" cy="1052.3" r="3.0"/><circle cx="397.8" cy="1055.9" r="3.0"/><circle cx="397.8" cy="1059.5" r="3.0"/><circle cx="397.8" cy="1063.2" r="3.0"/><circle cx="397.8" cy="1066.8" r="3.0"/><circle cx="397.8" cy="1070.4" r="3.0"/><circle cx="397.8" cy="1074.0" r="3.0"/><circle cx="397.8" cy="1077.7" r="3.0"/><circle cx="397.8" cy="1081.3" r="3.0"/></g>
<line x1="397.8" y1="1050.0" x2="397.8" y2="1082.0" stroke="#595959" stroke-width="1" stroke-opacity="0.28"/>
<rect x="384.7" y="1064.6" width="26.2" height="11.1" fill="#D0D0D0" fill-opacity="0.66"/>
<rect x="384.7" y="1075.7" width="26.2" height="1.1" fill="#9D9D9D" fill-opacity="0.675"/>
<line x1="384.7" y1="1050.0" x2="410.9" y2="1050.0" stroke="#595959" stroke-width="1.5"/>
<line x1="384.7" y1="1064.6" x2="410.9" y2="1064.6" stroke="#595959" stroke-width="1.5"/>
<line x1="384.7" y1="1076.8" x2="410.9" y2="1076.8" stroke="#595959" stroke-width="1.5"/>
<line x1="384.7" y1="1082.0" x2="410.9" y2="1082.0" stroke="#595959" stroke-width="1.5"/>
<line x1="451.9" y1="1042.5" x2="451.9" y2="1080.2" stroke="#595959" stroke-width="1.1" stroke-opacity="0.85"/>
<g fill="#9A9A33"><circle cx="451.9" cy="921.5" r="3.0"/><circle cx="451.9" cy="966.6" r="3.0"/><circle cx="451.9" cy="982.8" r="3.0"/><circle cx="451.9" cy="1013.2" r="3.0"/><circle cx="451.9" cy="1023.4" r="3.0"/><circle cx="451.9" cy="1033.5" r="3.0"/><circle cx="451.9" cy="1042.5" r="3.0"/><circle cx="451.9" cy="1054.6" r="3.0"/><circle cx="451.9" cy="1058.4" r="3.0"/><circle cx="451.9" cy="1062.2" r="3.0"/><circle cx="451.9" cy="1066.0" r="3.0"/><circle cx="451.9" cy="1069.9" r="3.0"/><circle cx="451.9" cy="1073.7" r="3.0"/><circle cx="451.9" cy="1077.5" r="3.0"/><circle cx="451.9" cy="1081.3" r="3.0"/></g>
<line x1="451.9" y1="1042.5" x2="451.9" y2="1080.2" stroke="#595959" stroke-width="1" stroke-opacity="0.28"/>
<rect x="438.6" y="1061.3" width="26.6" height="10.6" fill="#D0D0D0" fill-opacity="0.66"/>
<rect x="438.6" y="1071.9" width="26.6" height="3.3" fill="#9D9D9D" fill-opacity="0.675"/>
<line x1="438.6" y1="1042.5" x2="465.2" y2="1042.5" stroke="#595959" stroke-width="1.5"/>
<line x1="438.6" y1="1061.3" x2="465.2" y2="1061.3" stroke="#595959" stroke-width="1.5"/>
<line x1="438.6" y1="1075.2" x2="465.2" y2="1075.2" stroke="#595959" stroke-width="1.5"/>
<line x1="438.6" y1="1080.2" x2="465.2" y2="1080.2" stroke="#595959" stroke-width="1.5"/>
<line x1="519.5" y1="1054.0" x2="519.5" y2="1081.9" stroke="#595959" stroke-width="1.1" stroke-opacity="0.85"/>
<g fill="#17A07A"><circle cx="519.5" cy="966.8" r="3.0"/><circle cx="519.5" cy="982.5" r="3.0"/><circle cx="519.5" cy="1013.5" r="3.0"/><circle cx="519.5" cy="1023.4" r="3.0"/><circle cx="519.5" cy="1030.0" r="3.0"/><circle cx="519.5" cy="1040.7" r="3.0"/><circle cx="519.5" cy="1052.9" r="3.0"/><circle cx="519.5" cy="1056.4" r="3.0"/><circle cx="519.5" cy="1059.9" r="3.0"/><circle cx="519.5" cy="1063.3" r="3.0"/><circle cx="519.5" cy="1066.8" r="3.0"/><circle cx="519.5" cy="1070.3" r="3.0"/><circle cx="519.5" cy="1073.8" r="3.0"/><circle cx="519.5" cy="1077.2" r="3.0"/><circle cx="519.5" cy="1080.7" r="3.0"/></g>
<line x1="519.5" y1="1054.0" x2="519.5" y2="1081.9" stroke="#595959" stroke-width="1" stroke-opacity="0.28"/>
<rect x="502.9" y="1067.2" width="33.2" height="6.9" fill="#D0D0D0" fill-opacity="0.66"/>
<rect x="502.9" y="1074.1" width="33.2" height="1.5" fill="#9D9D9D" fill-opacity="0.675"/>
<line x1="502.9" y1="1054.0" x2="536.1" y2="1054.0" stroke="#595959" stroke-width="1.5"/>
<line x1="502.9" y1="1067.2" x2="536.1" y2="1067.2" stroke="#595959" stroke-width="1.5"/>
<line x1="502.9" y1="1075.6" x2="536.1" y2="1075.6" stroke="#595959" stroke-width="1.5"/>
<line x1="502.9" y1="1081.9" x2="536.1" y2="1081.9" stroke="#595959" stroke-width="1.5"/>
<line x1="586.3" y1="1033.2" x2="586.3" y2="1081.9" stroke="#595959" stroke-width="1.1" stroke-opacity="0.85"/>
<g fill="#D5620A"><circle cx="586.3" cy="921.6" r="3.0"/><circle cx="586.3" cy="1013.4" r="3.0"/><circle cx="586.3" cy="1035.2" r="3.0"/><circle cx="586.3" cy="1038.5" r="3.0"/><circle cx="586.3" cy="1041.7" r="3.0"/><circle cx="586.3" cy="1052.9" r="3.0"/><circle cx="586.3" cy="1056.4" r="3.0"/><circle cx="586.3" cy="1059.9" r="3.0"/><circle cx="586.3" cy="1063.3" r="3.0"/><circle cx="586.3" cy="1066.8" r="3.0"/><circle cx="586.3" cy="1070.3" r="3.0"/><circle cx="586.3" cy="1073.8" r="3.0"/><circle cx="586.3" cy="1077.2" r="3.0"/><circle cx="586.3" cy="1080.7" r="3.0"/></g>
<line x1="586.3" y1="1033.2" x2="586.3" y2="1081.9" stroke="#595959" stroke-width="1" stroke-opacity="0.28"/>
<rect x="570.0" y="1059.1" width="32.6" height="10.6" fill="#D0D0D0" fill-opacity="0.66"/>
<rect x="570.0" y="1069.7" width="32.6" height="7.7" fill="#9D9D9D" fill-opacity="0.675"/>
<line x1="570.0" y1="1033.2" x2="602.6" y2="1033.2" stroke="#595959" stroke-width="1.5"/>
<line x1="570.0" y1="1059.1" x2="602.6" y2="1059.1" stroke="#595959" stroke-width="1.5"/>
<line x1="570.0" y1="1077.4" x2="602.6" y2="1077.4" stroke="#595959" stroke-width="1.5"/>
<line x1="570.0" y1="1081.9" x2="602.6" y2="1081.9" stroke="#595959" stroke-width="1.5"/>
<line x1="651.9" y1="1035.7" x2="651.9" y2="1081.0" stroke="#595959" stroke-width="1.1" stroke-opacity="0.85"/>
<g fill="#C9697F"><circle cx="651.9" cy="921.5" r="3.0"/><circle cx="651.9" cy="1013.5" r="3.0"/><circle cx="651.9" cy="1035.7" r="3.0"/><circle cx="651.9" cy="1039.5" r="3.0"/><circle cx="651.9" cy="1043.3" r="3.0"/><circle cx="651.9" cy="1047.0" r="3.0"/><circle cx="651.9" cy="1050.8" r="3.0"/><circle cx="651.9" cy="1054.6" r="3.0"/><circle cx="651.9" cy="1058.4" r="3.0"/><circle cx="651.9" cy="1062.2" r="3.0"/><circle cx="651.9" cy="1066.0" r="3.0"/><circle cx="651.9" cy="1069.8" r="3.0"/><circle cx="651.9" cy="1073.5" r="3.0"/><circle cx="651.9" cy="1077.3" r="3.0"/><circle cx="651.9" cy="1081.1" r="3.0"/></g>
<line x1="651.9" y1="1035.7" x2="651.9" y2="1081.0" stroke="#595959" stroke-width="1" stroke-opacity="0.28"/>
<rect x="640.1" y="1059.0" width="23.6" height="7.6" fill="#D0D0D0" fill-opacity="0.66"/>
<rect x="640.1" y="1066.6" width="23.6" height="8.9" fill="#9D9D9D" fill-opacity="0.675"/>
<line x1="640.1" y1="1035.7" x2="663.7" y2="1035.7" stroke="#595959" stroke-width="1.5"/>
<line x1="640.1" y1="1059.0" x2="663.7" y2="1059.0" stroke="#595959" stroke-width="1.5"/>
<line x1="640.1" y1="1075.5" x2="663.7" y2="1075.5" stroke="#595959" stroke-width="1.5"/>
<line x1="640.1" y1="1081.0" x2="663.7" y2="1081.0" stroke="#595959" stroke-width="1.5"/>
<line x1="701.9" y1="1055.7" x2="701.9" y2="1081.7" stroke="#595959" stroke-width="1.1" stroke-opacity="0.85"/>
<g fill="#6A1510"><circle cx="701.9" cy="1057.9" r="3.0"/><circle cx="701.9" cy="1061.8" r="3.0"/><circle cx="701.9" cy="1065.6" r="3.0"/><circle cx="701.9" cy="1069.5" r="3.0"/><circle cx="701.9" cy="1073.4" r="3.0"/><circle cx="701.9" cy="1077.2" r="3.0"/><circle cx="701.9" cy="1081.1" r="3.0"/></g>
<line x1="701.9" y1="1055.7" x2="701.9" y2="1081.7" stroke="#595959" stroke-width="1" stroke-opacity="0.28"/>
<rect x="690.1" y="1061.5" width="23.6" height="10.3" fill="#D0D0D0" fill-opacity="0.66"/>
<rect x="690.1" y="1071.8" width="23.6" height="6.1" fill="#9D9D9D" fill-opacity="0.675"/>
<line x1="690.1" y1="1055.7" x2="713.7" y2="1055.7" stroke="#595959" stroke-width="1.5"/>
<line x1="690.1" y1="1061.5" x2="713.7" y2="1061.5" stroke="#595959" stroke-width="1.5"/>
<line x1="690.1" y1="1077.9" x2="713.7" y2="1077.9" stroke="#595959" stroke-width="1.5"/>
<line x1="690.1" y1="1081.7" x2="713.7" y2="1081.7" stroke="#595959" stroke-width="1.5"/>
<line x1="751.3" y1="1051.6" x2="751.3" y2="1079.6" stroke="#595959" stroke-width="1.1" stroke-opacity="0.85"/>
<g fill="#1A7A3C"><circle cx="751.3" cy="966.8" r="3.0"/><circle cx="751.3" cy="982.6" r="3.0"/><circle cx="751.3" cy="1023.4" r="3.0"/><circle cx="751.3" cy="1042.9" r="3.0"/><circle cx="751.3" cy="1051.6" r="3.0"/><circle cx="751.3" cy="1062.4" r="3.0"/><circle cx="751.3" cy="1066.6" r="3.0"/><circle cx="751.3" cy="1070.7" r="3.0"/><circle cx="751.3" cy="1074.8" r="3.0"/><circle cx="751.3" cy="1079.0" r="3.0"/></g>
<line x1="751.3" y1="1051.6" x2="751.3" y2="1079.6" stroke="#595959" stroke-width="1" stroke-opacity="0.28"/>
<rect x="739.5" y="1065.2" width="23.6" height="6.6" fill="#D0D0D0" fill-opacity="0.66"/>
<rect x="739.5" y="1071.8" width="23.6" height="3.7" fill="#9D9D9D" fill-opacity="0.675"/>
<line x1="739.5" y1="1051.6" x2="763.1" y2="1051.6" stroke="#595959" stroke-width="1.5"/>
<line x1="739.5" y1="1065.2" x2="763.1" y2="1065.2" stroke="#595959" stroke-width="1.5"/>
<line x1="739.5" y1="1075.5" x2="763.1" y2="1075.5" stroke="#595959" stroke-width="1.5"/>
<line x1="739.5" y1="1079.6" x2="763.1" y2="1079.6" stroke="#595959" stroke-width="1.5"/>
<line x1="801.1" y1="1058.4" x2="801.1" y2="1081.7" stroke="#595959" stroke-width="1.1" stroke-opacity="0.85"/>
<g fill="#47AA9A"><circle cx="801.1" cy="1013.3" r="3.0"/><circle cx="801.1" cy="1029.6" r="3.0"/><circle cx="801.1" cy="1037.4" r="3.0"/><circle cx="801.1" cy="1052.1" r="3.0"/><circle cx="801.1" cy="1055.7" r="3.0"/><circle cx="801.1" cy="1059.3" r="3.0"/><circle cx="801.1" cy="1063.0" r="3.0"/><circle cx="801.1" cy="1066.6" r="3.0"/><circle cx="801.1" cy="1070.2" r="3.0"/><circle cx="801.1" cy="1073.8" r="3.0"/><circle cx="801.1" cy="1077.5" r="3.0"/><circle cx="801.1" cy="1081.1" r="3.0"/></g>
<line x1="801.1" y1="1058.4" x2="801.1" y2="1081.7" stroke="#595959" stroke-width="1" stroke-opacity="0.28"/>
<rect x="789.3" y="1068.3" width="23.6" height="3.5" fill="#D0D0D0" fill-opacity="0.66"/>
<rect x="789.3" y="1071.8" width="23.6" height="3.7" fill="#9D9D9D" fill-opacity="0.675"/>
<line x1="789.3" y1="1058.4" x2="812.9" y2="1058.4" stroke="#595959" stroke-width="1.5"/>
<line x1="789.3" y1="1068.3" x2="812.9" y2="1068.3" stroke="#595959" stroke-width="1.5"/>
<line x1="789.3" y1="1075.5" x2="812.9" y2="1075.5" stroke="#595959" stroke-width="1.5"/>
<line x1="789.3" y1="1081.7" x2="812.9" y2="1081.7" stroke="#595959" stroke-width="1.5"/>
<line x1="860.0" y1="1050.0" x2="860.0" y2="1082.1" stroke="#595959" stroke-width="1.1" stroke-opacity="0.85"/>
<g fill="#8C8C8C"><circle cx="860.0" cy="1013.4" r="3.0"/><circle cx="860.0" cy="1014.1" r="3.0"/><circle cx="860.0" cy="1032.8" r="3.0"/><circle cx="860.0" cy="1036.9" r="3.0"/><circle cx="860.0" cy="1041.1" r="3.0"/><circle cx="860.0" cy="1052.2" r="3.0"/><circle cx="860.0" cy="1055.8" r="3.0"/><circle cx="860.0" cy="1059.3" r="3.0"/><circle cx="860.0" cy="1062.9" r="3.0"/><circle cx="860.0" cy="1066.5" r="3.0"/><circle cx="860.0" cy="1070.1" r="3.0"/><circle cx="860.0" cy="1073.7" r="3.0"/><circle cx="860.0" cy="1077.2" r="3.0"/><circle cx="860.0" cy="1080.8" r="3.0"/></g>
<line x1="860.0" y1="1050.0" x2="860.0" y2="1082.1" stroke="#595959" stroke-width="1" stroke-opacity="0.28"/>
<rect x="847.0" y="1064.4" width="26.0" height="10.1" fill="#D0D0D0" fill-opacity="0.66"/>
<rect x="847.0" y="1074.5" width="26.0" height="2.0" fill="#9D9D9D" fill-opacity="0.675"/>
<line x1="847.0" y1="1050.0" x2="873.0" y2="1050.0" stroke="#595959" stroke-width="1.5"/>
<line x1="847.0" y1="1064.4" x2="873.0" y2="1064.4" stroke="#595959" stroke-width="1.5"/>
<line x1="847.0" y1="1076.5" x2="873.0" y2="1076.5" stroke="#595959" stroke-width="1.5"/>
<line x1="847.0" y1="1082.1" x2="873.0" y2="1082.1" stroke="#595959" stroke-width="1.5"/>
<line x1="913.7" y1="1041.9" x2="913.7" y2="1080.4" stroke="#595959" stroke-width="1.1" stroke-opacity="0.85"/>
<g fill="#ECDC2A"><circle cx="913.7" cy="921.9" r="3.0"/><circle cx="913.7" cy="967.1" r="3.0"/><circle cx="913.7" cy="982.9" r="3.0"/><circle cx="913.7" cy="1013.4" r="3.0"/><circle cx="913.7" cy="1023.5" r="3.0"/><circle cx="913.7" cy="1033.7" r="3.0"/><circle cx="913.7" cy="1041.9" r="3.0"/><circle cx="913.7" cy="1052.6" r="3.0"/><circle cx="913.7" cy="1061.5" r="3.0"/><circle cx="913.7" cy="1065.2" r="3.0"/><circle cx="913.7" cy="1068.9" r="3.0"/><circle cx="913.7" cy="1072.5" r="3.0"/><circle cx="913.7" cy="1076.2" r="3.0"/><circle cx="913.7" cy="1079.9" r="3.0"/></g>
<line x1="913.7" y1="1041.9" x2="913.7" y2="1080.4" stroke="#595959" stroke-width="1" stroke-opacity="0.28"/>
<rect x="900.7" y="1059.3" width="26.0" height="9.3" fill="#D0D0D0" fill-opacity="0.66"/>
<rect x="900.7" y="1068.6" width="26.0" height="6.7" fill="#9D9D9D" fill-opacity="0.675"/>
<line x1="900.7" y1="1041.9" x2="926.7" y2="1041.9" stroke="#595959" stroke-width="1.5"/>
<line x1="900.7" y1="1059.3" x2="926.7" y2="1059.3" stroke="#595959" stroke-width="1.5"/>
<line x1="900.7" y1="1075.3" x2="926.7" y2="1075.3" stroke="#595959" stroke-width="1.5"/>
<line x1="900.7" y1="1080.4" x2="926.7" y2="1080.4" stroke="#595959" stroke-width="1.5"/>
<line x1="967.1" y1="1059.3" x2="967.1" y2="1081.2" stroke="#595959" stroke-width="1.1" stroke-opacity="0.85"/>
<g fill="#A8449A"><circle cx="967.1" cy="1061.5" r="3.0"/><circle cx="967.1" cy="1065.2" r="3.0"/><circle cx="967.1" cy="1068.9" r="3.0"/><circle cx="967.1" cy="1072.5" r="3.0"/><circle cx="967.1" cy="1076.2" r="3.0"/><circle cx="967.1" cy="1079.9" r="3.0"/></g>
<line x1="967.1" y1="1059.3" x2="967.1" y2="1081.2" stroke="#595959" stroke-width="1" stroke-opacity="0.28"/>
<rect x="954.1" y="1064.0" width="26.0" height="7.1" fill="#D0D0D0" fill-opacity="0.66"/>
<rect x="954.1" y="1071.1" width="26.0" height="3.0" fill="#9D9D9D" fill-opacity="0.675"/>
<line x1="954.1" y1="1059.3" x2="980.1" y2="1059.3" stroke="#595959" stroke-width="1.5"/>
<line x1="954.1" y1="1064.0" x2="980.1" y2="1064.0" stroke="#595959" stroke-width="1.5"/>
<line x1="954.1" y1="1074.1" x2="980.1" y2="1074.1" stroke="#595959" stroke-width="1.5"/>
<line x1="954.1" y1="1081.2" x2="980.1" y2="1081.2" stroke="#595959" stroke-width="1.5"/>
<line x1="151.5" y1="1247.8" x2="151.5" y2="1251.3" stroke="#595959" stroke-width="1.1" stroke-opacity="0.85"/>
<g fill="#56B0E3"><circle cx="151.5" cy="1177.8" r="3.0"/><circle cx="151.5" cy="1233.4" r="3.0"/><circle cx="151.5" cy="1241.5" r="3.0"/><circle cx="151.5" cy="1245.8" r="3.0"/><circle cx="151.5" cy="1250.0" r="3.0"/></g>
<line x1="151.5" y1="1247.8" x2="151.5" y2="1251.3" stroke="#595959" stroke-width="1" stroke-opacity="0.28"/>
<rect x="134.6" y="1248.5" width="33.8" height="1.0" fill="#D0D0D0" fill-opacity="0.66"/>
<rect x="134.6" y="1249.5" width="33.8" height="1.0" fill="#9D9D9D" fill-opacity="0.675"/>
<line x1="134.6" y1="1247.8" x2="168.4" y2="1247.8" stroke="#595959" stroke-width="1.5"/>
<line x1="134.6" y1="1248.5" x2="168.4" y2="1248.5" stroke="#595959" stroke-width="1.5"/>
<line x1="134.6" y1="1250.5" x2="168.4" y2="1250.5" stroke="#595959" stroke-width="1.5"/>
<line x1="134.6" y1="1251.3" x2="168.4" y2="1251.3" stroke="#595959" stroke-width="1.5"/>
<line x1="220.5" y1="1243.3" x2="220.5" y2="1251.3" stroke="#595959" stroke-width="1.1" stroke-opacity="0.85"/>
<g fill="#E39E0C"><circle cx="220.5" cy="1097.5" r="3.0"/><circle cx="220.5" cy="1216.9" r="3.0"/><circle cx="220.5" cy="1237.4" r="3.0"/><circle cx="220.5" cy="1241.6" r="3.0"/><circle cx="220.5" cy="1245.8" r="3.0"/><circle cx="220.5" cy="1250.0" r="3.0"/></g>
<line x1="220.5" y1="1243.3" x2="220.5" y2="1251.3" stroke="#595959" stroke-width="1" stroke-opacity="0.28"/>
<rect x="203.6" y="1245.3" width="33.8" height="2.5" fill="#D0D0D0" fill-opacity="0.66"/>
<rect x="203.6" y="1247.8" width="33.8" height="2.1" fill="#9D9D9D" fill-opacity="0.675"/>
<line x1="203.6" y1="1243.3" x2="237.4" y2="1243.3" stroke="#595959" stroke-width="1.5"/>
<line x1="203.6" y1="1245.3" x2="237.4" y2="1245.3" stroke="#595959" stroke-width="1.5"/>
<line x1="203.6" y1="1249.9" x2="237.4" y2="1249.9" stroke="#595959" stroke-width="1.5"/>
<line x1="203.6" y1="1251.3" x2="237.4" y2="1251.3" stroke="#595959" stroke-width="1.5"/>
<line x1="289.6" y1="1248.5" x2="289.6" y2="1251.5" stroke="#595959" stroke-width="1.1" stroke-opacity="0.85"/>
<g fill="#8CC9EC"><circle cx="289.6" cy="1250.0" r="3.0"/></g>
<line x1="289.6" y1="1248.5" x2="289.6" y2="1251.5" stroke="#595959" stroke-width="1" stroke-opacity="0.28"/>
<rect x="276.3" y="1249.2" width="26.6" height="0.8" fill="#D0D0D0" fill-opacity="0.66"/>
<rect x="276.3" y="1250.0" width="26.6" height="0.8" fill="#9D9D9D" fill-opacity="0.675"/>
<line x1="276.3" y1="1248.5" x2="302.9" y2="1248.5" stroke="#595959" stroke-width="1.5"/>
<line x1="276.3" y1="1249.2" x2="302.9" y2="1249.2" stroke="#595959" stroke-width="1.5"/>
<line x1="276.3" y1="1250.8" x2="302.9" y2="1250.8" stroke="#595959" stroke-width="1.5"/>
<line x1="276.3" y1="1251.5" x2="302.9" y2="1251.5" stroke="#595959" stroke-width="1.5"/>
<line x1="343.7" y1="1246.2" x2="343.7" y2="1251.4" stroke="#595959" stroke-width="1.1" stroke-opacity="0.85"/>
<g fill="#D9C46E"><circle cx="343.7" cy="1235.1" r="3.0"/><circle cx="343.7" cy="1248.7" r="3.0"/><circle cx="343.7" cy="1249.5" r="3.0"/></g>
<line x1="343.7" y1="1246.2" x2="343.7" y2="1251.4" stroke="#595959" stroke-width="1" stroke-opacity="0.28"/>
<rect x="330.2" y="1248.0" width="27.0" height="0.7" fill="#D0D0D0" fill-opacity="0.66"/>
<rect x="330.2" y="1248.7" width="27.0" height="1.3" fill="#9D9D9D" fill-opacity="0.675"/>
<line x1="330.2" y1="1246.2" x2="357.2" y2="1246.2" stroke="#595959" stroke-width="1.5"/>
<line x1="330.2" y1="1248.0" x2="357.2" y2="1248.0" stroke="#595959" stroke-width="1.5"/>
<line x1="330.2" y1="1250.0" x2="357.2" y2="1250.0" stroke="#595959" stroke-width="1.5"/>
<line x1="330.2" y1="1251.4" x2="357.2" y2="1251.4" stroke="#595959" stroke-width="1.5"/>
<line x1="397.8" y1="1246.2" x2="397.8" y2="1251.4" stroke="#595959" stroke-width="1.1" stroke-opacity="0.85"/>
<g fill="#0A72B0"><circle cx="397.8" cy="1177.6" r="3.0"/><circle cx="397.8" cy="1233.3" r="3.0"/><circle cx="397.8" cy="1242.0" r="3.0"/><circle cx="397.8" cy="1245.8" r="3.0"/><circle cx="397.8" cy="1249.5" r="3.0"/></g>
<line x1="397.8" y1="1246.2" x2="397.8" y2="1251.4" stroke="#595959" stroke-width="1" stroke-opacity="0.28"/>
<rect x="384.7" y="1247.5" width="26.2" height="1.2" fill="#D0D0D0" fill-opacity="0.66"/>
<rect x="384.7" y="1248.7" width="26.2" height="1.3" fill="#9D9D9D" fill-opacity="0.675"/>
<line x1="384.7" y1="1246.2" x2="410.9" y2="1246.2" stroke="#595959" stroke-width="1.5"/>
<line x1="384.7" y1="1247.5" x2="410.9" y2="1247.5" stroke="#595959" stroke-width="1.5"/>
<line x1="384.7" y1="1250.0" x2="410.9" y2="1250.0" stroke="#595959" stroke-width="1.5"/>
<line x1="384.7" y1="1251.4" x2="410.9" y2="1251.4" stroke="#595959" stroke-width="1.5"/>
<line x1="451.9" y1="1243.0" x2="451.9" y2="1251.4" stroke="#595959" stroke-width="1.1" stroke-opacity="0.85"/>
<g fill="#9A9A33"><circle cx="451.9" cy="1097.4" r="3.0"/><circle cx="451.9" cy="1216.9" r="3.0"/><circle cx="451.9" cy="1243.1" r="3.0"/><circle cx="451.9" cy="1246.3" r="3.0"/><circle cx="451.9" cy="1249.5" r="3.0"/></g>
<line x1="451.9" y1="1243.0" x2="451.9" y2="1251.4" stroke="#595959" stroke-width="1" stroke-opacity="0.28"/>
<rect x="438.6" y="1245.0" width="26.6" height="2.3" fill="#D0D0D0" fill-opacity="0.66"/>
<rect x="438.6" y="1247.3" width="26.6" height="2.2" fill="#9D9D9D" fill-opacity="0.675"/>
<line x1="438.6" y1="1243.0" x2="465.2" y2="1243.0" stroke="#595959" stroke-width="1.5"/>
<line x1="438.6" y1="1245.0" x2="465.2" y2="1245.0" stroke="#595959" stroke-width="1.5"/>
<line x1="438.6" y1="1249.5" x2="465.2" y2="1249.5" stroke="#595959" stroke-width="1.5"/>
<line x1="438.6" y1="1251.4" x2="465.2" y2="1251.4" stroke="#595959" stroke-width="1.5"/>
<line x1="519.9" y1="1247.0" x2="519.9" y2="1251.2" stroke="#595959" stroke-width="1.1" stroke-opacity="0.85"/>
<g fill="#17A07A"><circle cx="519.9" cy="1097.2" r="3.0"/><circle cx="519.9" cy="1177.5" r="3.0"/><circle cx="519.9" cy="1233.0" r="3.0"/><circle cx="519.9" cy="1241.9" r="3.0"/><circle cx="519.9" cy="1245.7" r="3.0"/><circle cx="519.9" cy="1249.4" r="3.0"/></g>
<line x1="519.9" y1="1247.0" x2="519.9" y2="1251.2" stroke="#595959" stroke-width="1" stroke-opacity="0.28"/>
<rect x="503.3" y="1248.0" width="33.2" height="0.7" fill="#D0D0D0" fill-opacity="0.66"/>
<rect x="503.3" y="1248.7" width="33.2" height="1.3" fill="#9D9D9D" fill-opacity="0.675"/>
<line x1="503.3" y1="1247.0" x2="536.5" y2="1247.0" stroke="#595959" stroke-width="1.5"/>
<line x1="503.3" y1="1248.0" x2="536.5" y2="1248.0" stroke="#595959" stroke-width="1.5"/>
<line x1="503.3" y1="1250.0" x2="536.5" y2="1250.0" stroke="#595959" stroke-width="1.5"/>
<line x1="503.3" y1="1251.2" x2="536.5" y2="1251.2" stroke="#595959" stroke-width="1.5"/>
<line x1="586.4" y1="1245.1" x2="586.4" y2="1251.2" stroke="#595959" stroke-width="1.1" stroke-opacity="0.85"/>
<g fill="#D5620A"><circle cx="586.4" cy="1217.0" r="3.0"/><circle cx="586.4" cy="1235.0" r="3.0"/><circle cx="586.4" cy="1248.6" r="3.0"/><circle cx="586.4" cy="1249.4" r="3.0"/></g>
<line x1="586.4" y1="1245.1" x2="586.4" y2="1251.2" stroke="#595959" stroke-width="1" stroke-opacity="0.28"/>
<rect x="570.1" y="1246.3" width="32.6" height="1.0" fill="#D0D0D0" fill-opacity="0.66"/>
<rect x="570.1" y="1247.3" width="32.6" height="2.2" fill="#9D9D9D" fill-opacity="0.675"/>
<line x1="570.1" y1="1245.1" x2="602.7" y2="1245.1" stroke="#595959" stroke-width="1.5"/>
<line x1="570.1" y1="1246.3" x2="602.7" y2="1246.3" stroke="#595959" stroke-width="1.5"/>
<line x1="570.1" y1="1249.5" x2="602.7" y2="1249.5" stroke="#595959" stroke-width="1.5"/>
<line x1="570.1" y1="1251.2" x2="602.7" y2="1251.2" stroke="#595959" stroke-width="1.5"/>
<line x1="651.9" y1="1245.3" x2="651.9" y2="1251.3" stroke="#595959" stroke-width="1.1" stroke-opacity="0.85"/>
<g fill="#C9697F"><circle cx="651.9" cy="1216.9" r="3.0"/><circle cx="651.9" cy="1235.4" r="3.0"/><circle cx="651.9" cy="1247.7" r="3.0"/><circle cx="651.9" cy="1250.0" r="3.0"/></g>
<line x1="651.9" y1="1245.3" x2="651.9" y2="1251.3" stroke="#595959" stroke-width="1" stroke-opacity="0.28"/>
<rect x="640.1" y="1246.8" width="23.6" height="1.6" fill="#D0D0D0" fill-opacity="0.66"/>
<rect x="640.1" y="1248.4" width="23.6" height="1.6" fill="#9D9D9D" fill-opacity="0.675"/>
<line x1="640.1" y1="1245.3" x2="663.7" y2="1245.3" stroke="#595959" stroke-width="1.5"/>
<line x1="640.1" y1="1246.8" x2="663.7" y2="1246.8" stroke="#595959" stroke-width="1.5"/>
<line x1="640.1" y1="1250.0" x2="663.7" y2="1250.0" stroke="#595959" stroke-width="1.5"/>
<line x1="640.1" y1="1251.3" x2="663.7" y2="1251.3" stroke="#595959" stroke-width="1.5"/>
<line x1="701.9" y1="1247.8" x2="701.9" y2="1251.3" stroke="#595959" stroke-width="1.1" stroke-opacity="0.85"/>
<g fill="#6A1510"><circle cx="701.9" cy="1250.4" r="3.0"/></g>
<line x1="701.9" y1="1247.8" x2="701.9" y2="1251.3" stroke="#595959" stroke-width="1" stroke-opacity="0.28"/>
<rect x="690.1" y="1248.8" width="23.6" height="1.1" fill="#D0D0D0" fill-opacity="0.66"/>
<rect x="690.1" y="1249.9" width="23.6" height="0.6" fill="#9D9D9D" fill-opacity="0.675"/>
<line x1="690.1" y1="1247.8" x2="713.7" y2="1247.8" stroke="#595959" stroke-width="1.5"/>
<line x1="690.1" y1="1248.8" x2="713.7" y2="1248.8" stroke="#595959" stroke-width="1.5"/>
<line x1="690.1" y1="1250.5" x2="713.7" y2="1250.5" stroke="#595959" stroke-width="1.5"/>
<line x1="690.1" y1="1251.3" x2="713.7" y2="1251.3" stroke="#595959" stroke-width="1.5"/>
<line x1="751.3" y1="1246.5" x2="751.3" y2="1251.3" stroke="#595959" stroke-width="1.1" stroke-opacity="0.85"/>
<g fill="#1A7A3C"><circle cx="751.3" cy="1097.1" r="3.0"/><circle cx="751.3" cy="1242.6" r="3.0"/><circle cx="751.3" cy="1246.3" r="3.0"/><circle cx="751.3" cy="1250.0" r="3.0"/></g>
<line x1="751.3" y1="1246.5" x2="751.3" y2="1251.3" stroke="#595959" stroke-width="1" stroke-opacity="0.28"/>
<rect x="739.5" y="1247.5" width="23.6" height="1.2" fill="#D0D0D0" fill-opacity="0.66"/>
<rect x="739.5" y="1248.7" width="23.6" height="1.3" fill="#9D9D9D" fill-opacity="0.675"/>
<line x1="739.5" y1="1246.5" x2="763.1" y2="1246.5" stroke="#595959" stroke-width="1.5"/>
<line x1="739.5" y1="1247.5" x2="763.1" y2="1247.5" stroke="#595959" stroke-width="1.5"/>
<line x1="739.5" y1="1250.0" x2="763.1" y2="1250.0" stroke="#595959" stroke-width="1.5"/>
<line x1="739.5" y1="1251.3" x2="763.1" y2="1251.3" stroke="#595959" stroke-width="1.5"/>
<line x1="801.1" y1="1247.8" x2="801.1" y2="1251.3" stroke="#595959" stroke-width="1.1" stroke-opacity="0.85"/>
<g fill="#47AA9A"><circle cx="801.1" cy="1177.8" r="3.0"/><circle cx="801.1" cy="1233.4" r="3.0"/><circle cx="801.1" cy="1242.6" r="3.0"/><circle cx="801.1" cy="1246.3" r="3.0"/><circle cx="801.1" cy="1250.0" r="3.0"/></g>
<line x1="801.1" y1="1247.8" x2="801.1" y2="1251.3" stroke="#595959" stroke-width="1" stroke-opacity="0.28"/>
<rect x="789.3" y="1248.5" width="23.6" height="1.0" fill="#D0D0D0" fill-opacity="0.66"/>
<rect x="789.3" y="1249.5" width="23.6" height="1.0" fill="#9D9D9D" fill-opacity="0.675"/>
<line x1="789.3" y1="1247.8" x2="812.9" y2="1247.8" stroke="#595959" stroke-width="1.5"/>
<line x1="789.3" y1="1248.5" x2="812.9" y2="1248.5" stroke="#595959" stroke-width="1.5"/>
<line x1="789.3" y1="1250.5" x2="812.9" y2="1250.5" stroke="#595959" stroke-width="1.5"/>
<line x1="789.3" y1="1251.3" x2="812.9" y2="1251.3" stroke="#595959" stroke-width="1.5"/>
<line x1="860.0" y1="1247.0" x2="860.0" y2="1250.7" stroke="#595959" stroke-width="1.1" stroke-opacity="0.85"/>
<g fill="#8C8C8C"><circle cx="860.0" cy="1177.5" r="3.0"/><circle cx="860.0" cy="1235.6" r="3.0"/><circle cx="860.0" cy="1238.9" r="3.0"/><circle cx="860.0" cy="1242.3" r="3.0"/><circle cx="860.0" cy="1245.7" r="3.0"/><circle cx="860.0" cy="1249.0" r="3.0"/></g>
<line x1="860.0" y1="1247.0" x2="860.0" y2="1250.7" stroke="#595959" stroke-width="1" stroke-opacity="0.28"/>
<rect x="847.0" y="1248.0" width="26.0" height="1.0" fill="#D0D0D0" fill-opacity="0.66"/>
<rect x="847.0" y="1249.0" width="26.0" height="1.0" fill="#9D9D9D" fill-opacity="0.675"/>
<line x1="847.0" y1="1247.0" x2="873.0" y2="1247.0" stroke="#595959" stroke-width="1.5"/>
<line x1="847.0" y1="1248.0" x2="873.0" y2="1248.0" stroke="#595959" stroke-width="1.5"/>
<line x1="847.0" y1="1250.0" x2="873.0" y2="1250.0" stroke="#595959" stroke-width="1.5"/>
<line x1="847.0" y1="1250.7" x2="873.0" y2="1250.7" stroke="#595959" stroke-width="1.5"/>
<line x1="913.7" y1="1243.2" x2="913.7" y2="1250.3" stroke="#595959" stroke-width="1.1" stroke-opacity="0.85"/>
<g fill="#ECDC2A"><circle cx="913.7" cy="1097.4" r="3.0"/><circle cx="913.7" cy="1216.6" r="3.0"/><circle cx="913.7" cy="1241.5" r="3.0"/><circle cx="913.7" cy="1245.7" r="3.0"/><circle cx="913.7" cy="1249.9" r="3.0"/></g>
<line x1="913.7" y1="1243.2" x2="913.7" y2="1250.3" stroke="#595959" stroke-width="1" stroke-opacity="0.28"/>
<rect x="900.7" y="1244.7" width="26.0" height="1.4" fill="#D0D0D0" fill-opacity="0.66"/>
<rect x="900.7" y="1246.1" width="26.0" height="2.4" fill="#9D9D9D" fill-opacity="0.675"/>
<line x1="900.7" y1="1243.2" x2="926.7" y2="1243.2" stroke="#595959" stroke-width="1.5"/>
<line x1="900.7" y1="1244.7" x2="926.7" y2="1244.7" stroke="#595959" stroke-width="1.5"/>
<line x1="900.7" y1="1248.5" x2="926.7" y2="1248.5" stroke="#595959" stroke-width="1.5"/>
<line x1="900.7" y1="1250.3" x2="926.7" y2="1250.3" stroke="#595959" stroke-width="1.5"/>
<line x1="967.1" y1="1247.8" x2="967.1" y2="1250.7" stroke="#595959" stroke-width="1.1" stroke-opacity="0.85"/>
<g fill="#A8449A"><circle cx="967.1" cy="1247.4" r="3.0"/><circle cx="967.1" cy="1249.9" r="3.0"/></g>
<line x1="967.1" y1="1247.8" x2="967.1" y2="1250.7" stroke="#595959" stroke-width="1" stroke-opacity="0.28"/>
<rect x="954.1" y="1248.5" width="26.0" height="0.8" fill="#D0D0D0" fill-opacity="0.66"/>
<rect x="954.1" y="1249.3" width="26.0" height="0.7" fill="#9D9D9D" fill-opacity="0.675"/>
<line x1="954.1" y1="1247.8" x2="980.1" y2="1247.8" stroke="#595959" stroke-width="1.5"/>
<line x1="954.1" y1="1248.5" x2="980.1" y2="1248.5" stroke="#595959" stroke-width="1.5"/>
<line x1="954.1" y1="1250.0" x2="980.1" y2="1250.0" stroke="#595959" stroke-width="1.5"/>
<line x1="954.1" y1="1250.7" x2="980.1" y2="1250.7" stroke="#595959" stroke-width="1.5"/>
<text x="51" y="35" font-size="34" fill="#111" style="font-family:'Liberation Sans',sans-serif">a</text>
<text x="51" y="722.5" font-size="35" fill="#111" style="font-family:'Liberation Sans',sans-serif">b</text>
<text x="144.7" y="34.3" font-size="19.5" fill="#333333" font-weight="bold" textLength="72.4" lengthAdjust="spacingAndGlyphs" style="font-family:'Liberation Sans',sans-serif">Region1</text>
<text x="318.5" y="34.5" font-size="19.5" fill="#333333" font-weight="bold" textLength="72.5" lengthAdjust="spacingAndGlyphs" style="font-family:'Liberation Sans',sans-serif">Region2</text>
<text x="490.4" y="35.7" font-size="19.5" fill="#333333" font-weight="bold" textLength="85.7" lengthAdjust="spacingAndGlyphs" style="font-family:'Liberation Sans',sans-serif">Lifestyle1</text>
<text x="663.7" y="35.5" font-size="19.5" fill="#333333" font-weight="bold" textLength="85.8" lengthAdjust="spacingAndGlyphs" style="font-family:'Liberation Sans',sans-serif">Lifestyle2</text>
<text x="851.4" y="35.5" font-size="19.5" fill="#333333" font-weight="bold" textLength="84.3" lengthAdjust="spacingAndGlyphs" style="font-family:'Liberation Sans',sans-serif">Language</text>
<text x="149.4" y="724.8" font-size="19.5" fill="#333333" font-weight="bold" textLength="73.1" lengthAdjust="spacingAndGlyphs" style="font-family:'Liberation Sans',sans-serif">Region1</text>
<text x="333.9" y="724.8" font-size="19.5" fill="#333333" font-weight="bold" textLength="72.8" lengthAdjust="spacingAndGlyphs" style="font-family:'Liberation Sans',sans-serif">Region2</text>
<text x="510.0" y="724.8" font-size="19.5" fill="#333333" font-weight="bold" textLength="85.7" lengthAdjust="spacingAndGlyphs" style="font-family:'Liberation Sans',sans-serif">Lifestyle1</text>
<text x="682.9" y="724.8" font-size="19.5" fill="#333333" font-weight="bold" textLength="86.6" lengthAdjust="spacingAndGlyphs" style="font-family:'Liberation Sans',sans-serif">Lifestyle2</text>
<text x="870.8" y="724.3" font-size="19.5" fill="#333333" font-weight="bold" textLength="85.5" lengthAdjust="spacingAndGlyphs" style="font-family:'Liberation Sans',sans-serif">Language</text>
<text x="51.1" y="132.7" font-size="17.5" fill="#222222" font-weight="bold" text-anchor="middle" textLength="23.6" lengthAdjust="spacingAndGlyphs" transform="rotate(-90 51.1 132.7)" style="font-family:'Liberation Sans',sans-serif">HD</text>
<text x="51.1" y="310.4" font-size="17.5" fill="#222222" font-weight="bold" text-anchor="middle" textLength="24" lengthAdjust="spacingAndGlyphs" transform="rotate(-90 51.1 310.4)" style="font-family:'Liberation Sans',sans-serif">ND</text>
<text x="51.3" y="488.2" font-size="17.5" fill="#222222" font-weight="bold" text-anchor="middle" textLength="68.5" lengthAdjust="spacingAndGlyphs" transform="rotate(-90 51.3 488.2)" style="font-family:'Liberation Sans',sans-serif">pairwise</text>
<text x="74.8" y="820.8" font-size="17" fill="#222222" font-weight="bold" text-anchor="middle" textLength="51.5" lengthAdjust="spacingAndGlyphs" transform="rotate(-90 74.8 820.8)" style="font-family:'Liberation Sans',sans-serif">Fu's Fs</text>
<text x="74.5" y="997.0" font-size="17" fill="#222222" font-weight="bold" text-anchor="middle" textLength="22.3" lengthAdjust="spacingAndGlyphs" transform="rotate(-90 74.5 997.0)" style="font-family:'Liberation Sans',sans-serif">Hri</text>
<text x="74.9" y="1173.4" font-size="17" fill="#222222" font-weight="bold" text-anchor="middle" textLength="30.2" lengthAdjust="spacingAndGlyphs" transform="rotate(-90 74.9 1173.4)" style="font-family:'Liberation Sans',sans-serif">SSD</text>
<text x="120.5" y="60.0" font-size="14" fill="#808080" text-anchor="end" dominant-baseline="central" style="font-family:'Liberation Sans',sans-serif">1.0</text>
<text x="120.5" y="100.7" font-size="14" fill="#808080" text-anchor="end" dominant-baseline="central" style="font-family:'Liberation Sans',sans-serif">0.9</text>
<text x="120.5" y="142.3" font-size="14" fill="#808080" text-anchor="end" dominant-baseline="central" style="font-family:'Liberation Sans',sans-serif">0.8</text>
<text x="120.5" y="183.7" font-size="14" fill="#808080" text-anchor="end" dominant-baseline="central" style="font-family:'Liberation Sans',sans-serif">0.7</text>
<text x="120.0" y="247.0" font-size="14" fill="#808080" text-anchor="end" dominant-baseline="central" style="font-family:'Liberation Sans',sans-serif">0.025</text>
<text x="120.0" y="287.3" font-size="14" fill="#808080" text-anchor="end" dominant-baseline="central" style="font-family:'Liberation Sans',sans-serif">0.020</text>
<text x="120.0" y="326.7" font-size="14" fill="#808080" text-anchor="end" dominant-baseline="central" style="font-family:'Liberation Sans',sans-serif">0.015</text>
<text x="120.0" y="367.1" font-size="14" fill="#808080" text-anchor="end" dominant-baseline="central" style="font-family:'Liberation Sans',sans-serif">0.010</text>
<text x="120.5" y="420.9" font-size="14" fill="#808080" text-anchor="end" dominant-baseline="central" style="font-family:'Liberation Sans',sans-serif">8</text>
<text x="120.5" y="471.6" font-size="14" fill="#808080" text-anchor="end" dominant-baseline="central" style="font-family:'Liberation Sans',sans-serif">6</text>
<text x="120.5" y="522.3" font-size="14" fill="#808080" text-anchor="end" dominant-baseline="central" style="font-family:'Liberation Sans',sans-serif">4</text>
<text x="120.5" y="573.0" font-size="14" fill="#808080" text-anchor="end" dominant-baseline="central" style="font-family:'Liberation Sans',sans-serif">2</text>
<text x="112.4" y="758.0" font-size="14" fill="#808080" text-anchor="end" dominant-baseline="central" style="font-family:'Liberation Sans',sans-serif">0</text>
<text x="112.4" y="814.6" font-size="14" fill="#808080" text-anchor="end" dominant-baseline="central" style="font-family:'Liberation Sans',sans-serif">−10</text>
<text x="112.4" y="870.2" font-size="14" fill="#808080" text-anchor="end" dominant-baseline="central" style="font-family:'Liberation Sans',sans-serif">−20</text>
<text x="112.4" y="954.4" font-size="14" fill="#808080" text-anchor="end" dominant-baseline="central" style="font-family:'Liberation Sans',sans-serif">0.15</text>
<text x="112.4" y="999.3" font-size="14" fill="#808080" text-anchor="end" dominant-baseline="central" style="font-family:'Liberation Sans',sans-serif">0.10</text>
<text x="112.4" y="1045.0" font-size="14" fill="#808080" text-anchor="end" dominant-baseline="central" style="font-family:'Liberation Sans',sans-serif">0.05</text>
<text x="112.4" y="1081.7" font-size="14" fill="#808080" text-anchor="end" dominant-baseline="central" style="font-family:'Liberation Sans',sans-serif">0.00</text>
<text x="112.4" y="1120.1" font-size="14" fill="#808080" text-anchor="end" dominant-baseline="central" style="font-family:'Liberation Sans',sans-serif">0.4</text>
<text x="112.4" y="1164.8" font-size="14" fill="#808080" text-anchor="end" dominant-baseline="central" style="font-family:'Liberation Sans',sans-serif">0.3</text>
<text x="112.4" y="1209.3" font-size="14" fill="#808080" text-anchor="end" dominant-baseline="central" style="font-family:'Liberation Sans',sans-serif">0.1</text>
<text x="112.4" y="1255.0" font-size="14" fill="#808080" text-anchor="end" dominant-baseline="central" style="font-family:'Liberation Sans',sans-serif">0.0</text>
<text x="143.0" y="590.0" font-size="16.8" fill="#666666" font-weight="bold" dominant-baseline="central" textLength="25.1" lengthAdjust="spacingAndGlyphs" style="font-family:'Liberation Sans',sans-serif">NA</text>
<text x="204.9" y="590.0" font-size="16.8" fill="#666666" font-weight="bold" dominant-baseline="central" textLength="19.5" lengthAdjust="spacingAndGlyphs" style="font-family:'Liberation Sans',sans-serif">SS</text>
<text x="262.2" y="590.0" font-size="16.8" fill="#666666" font-weight="bold" dominant-baseline="central" textLength="34.9" lengthAdjust="spacingAndGlyphs" style="font-family:'Liberation Sans',sans-serif">ENA</text>
<text x="320.4" y="590.0" font-size="16.8" fill="#666666" font-weight="bold" dominant-baseline="central" textLength="28.8" lengthAdjust="spacingAndGlyphs" style="font-family:'Liberation Sans',sans-serif">ESS</text>
<text x="369.1" y="590.0" font-size="16.8" fill="#666666" font-weight="bold" dominant-baseline="central" textLength="42.8" lengthAdjust="spacingAndGlyphs" style="font-family:'Liberation Sans',sans-serif">WNA</text>
<text x="428.1" y="590.0" font-size="16.8" fill="#666666" font-weight="bold" dominant-baseline="central" textLength="36.5" lengthAdjust="spacingAndGlyphs" style="font-family:'Liberation Sans',sans-serif">WSS</text>
<text x="500.9" y="590.0" font-size="16.8" fill="#666666" font-weight="bold" dominant-baseline="central" textLength="26.3" lengthAdjust="spacingAndGlyphs" style="font-family:'Liberation Sans',sans-serif">FM</text>
<text x="568.9" y="590.0" font-size="16.8" fill="#666666" font-weight="bold" dominant-baseline="central" textLength="19.7" lengthAdjust="spacingAndGlyphs" style="font-family:'Liberation Sans',sans-serif">PS</text>
<text x="630.1" y="590.0" font-size="16.8" fill="#666666" font-weight="bold" dominant-baseline="central" textLength="28.900000000000002" lengthAdjust="spacingAndGlyphs" style="font-family:'Liberation Sans',sans-serif">PSS</text>
<text x="679.9" y="590.0" font-size="16.8" fill="#666666" font-weight="bold" dominant-baseline="central" textLength="35.199999999999996" lengthAdjust="spacingAndGlyphs" style="font-family:'Liberation Sans',sans-serif">PNA</text>
<text x="735.5" y="590.0" font-size="16.8" fill="#666666" font-weight="bold" dominant-baseline="central" textLength="29.400000000000002" lengthAdjust="spacingAndGlyphs" style="font-family:'Liberation Sans',sans-serif">FSS</text>
<text x="785.4" y="590.0" font-size="16.8" fill="#666666" font-weight="bold" dominant-baseline="central" textLength="35.0" lengthAdjust="spacingAndGlyphs" style="font-family:'Liberation Sans',sans-serif">FNA</text>
<text x="850.4" y="590.0" font-size="16.8" fill="#666666" font-weight="bold" dominant-baseline="central" textLength="24.8" lengthAdjust="spacingAndGlyphs" style="font-family:'Liberation Sans',sans-serif">AA</text>
<text x="903.1" y="590.0" font-size="16.8" fill="#666666" font-weight="bold" dominant-baseline="central" textLength="23.8" lengthAdjust="spacingAndGlyphs" style="font-family:'Liberation Sans',sans-serif">NC</text>
<text x="955.6" y="590.0" font-size="16.8" fill="#666666" font-weight="bold" dominant-baseline="central" textLength="23.8" lengthAdjust="spacingAndGlyphs" style="font-family:'Liberation Sans',sans-serif">NS</text>
<text x="138.9" y="1273.8" font-size="16.8" fill="#666666" font-weight="bold" dominant-baseline="central" textLength="25.1" lengthAdjust="spacingAndGlyphs" style="font-family:'Liberation Sans',sans-serif">NA</text>
<text x="210.8" y="1273.8" font-size="16.8" fill="#666666" font-weight="bold" dominant-baseline="central" textLength="19.5" lengthAdjust="spacingAndGlyphs" style="font-family:'Liberation Sans',sans-serif">SS</text>
<text x="272.2" y="1273.8" font-size="16.8" fill="#666666" font-weight="bold" dominant-baseline="central" textLength="34.9" lengthAdjust="spacingAndGlyphs" style="font-family:'Liberation Sans',sans-serif">ENA</text>
<text x="329.3" y="1273.8" font-size="16.8" fill="#666666" font-weight="bold" dominant-baseline="central" textLength="28.8" lengthAdjust="spacingAndGlyphs" style="font-family:'Liberation Sans',sans-serif">ESS</text>
<text x="376.4" y="1273.8" font-size="16.8" fill="#666666" font-weight="bold" dominant-baseline="central" textLength="42.8" lengthAdjust="spacingAndGlyphs" style="font-family:'Liberation Sans',sans-serif">WNA</text>
<text x="433.6" y="1273.8" font-size="16.8" fill="#666666" font-weight="bold" dominant-baseline="central" textLength="36.5" lengthAdjust="spacingAndGlyphs" style="font-family:'Liberation Sans',sans-serif">WSS</text>
<text x="506.8" y="1273.8" font-size="16.8" fill="#666666" font-weight="bold" dominant-baseline="central" textLength="26.3" lengthAdjust="spacingAndGlyphs" style="font-family:'Liberation Sans',sans-serif">FM</text>
<text x="576.5" y="1273.8" font-size="16.8" fill="#666666" font-weight="bold" dominant-baseline="central" textLength="19.7" lengthAdjust="spacingAndGlyphs" style="font-family:'Liberation Sans',sans-serif">PS</text>
<text x="637.4" y="1273.8" font-size="16.8" fill="#666666" font-weight="bold" dominant-baseline="central" textLength="28.900000000000002" lengthAdjust="spacingAndGlyphs" style="font-family:'Liberation Sans',sans-serif">PSS</text>
<text x="684.3" y="1273.8" font-size="16.8" fill="#666666" font-weight="bold" dominant-baseline="central" textLength="35.199999999999996" lengthAdjust="spacingAndGlyphs" style="font-family:'Liberation Sans',sans-serif">PNA</text>
<text x="736.6" y="1273.8" font-size="16.8" fill="#666666" font-weight="bold" dominant-baseline="central" textLength="29.400000000000002" lengthAdjust="spacingAndGlyphs" style="font-family:'Liberation Sans',sans-serif">FSS</text>
<text x="783.6" y="1273.8" font-size="16.8" fill="#666666" font-weight="bold" dominant-baseline="central" textLength="35.0" lengthAdjust="spacingAndGlyphs" style="font-family:'Liberation Sans',sans-serif">FNA</text>
<text x="847.6" y="1273.8" font-size="16.8" fill="#666666" font-weight="bold" dominant-baseline="central" textLength="24.8" lengthAdjust="spacingAndGlyphs" style="font-family:'Liberation Sans',sans-serif">AA</text>
<text x="901.8" y="1273.8" font-size="16.8" fill="#666666" font-weight="bold" dominant-baseline="central" textLength="23.8" lengthAdjust="spacingAndGlyphs" style="font-family:'Liberation Sans',sans-serif">NC</text>
<text x="955.2" y="1273.8" font-size="16.8" fill="#666666" font-weight="bold" dominant-baseline="central" textLength="23.8" lengthAdjust="spacingAndGlyphs" style="font-family:'Liberation Sans',sans-serif">NS</text>
</svg>
</body></html>
